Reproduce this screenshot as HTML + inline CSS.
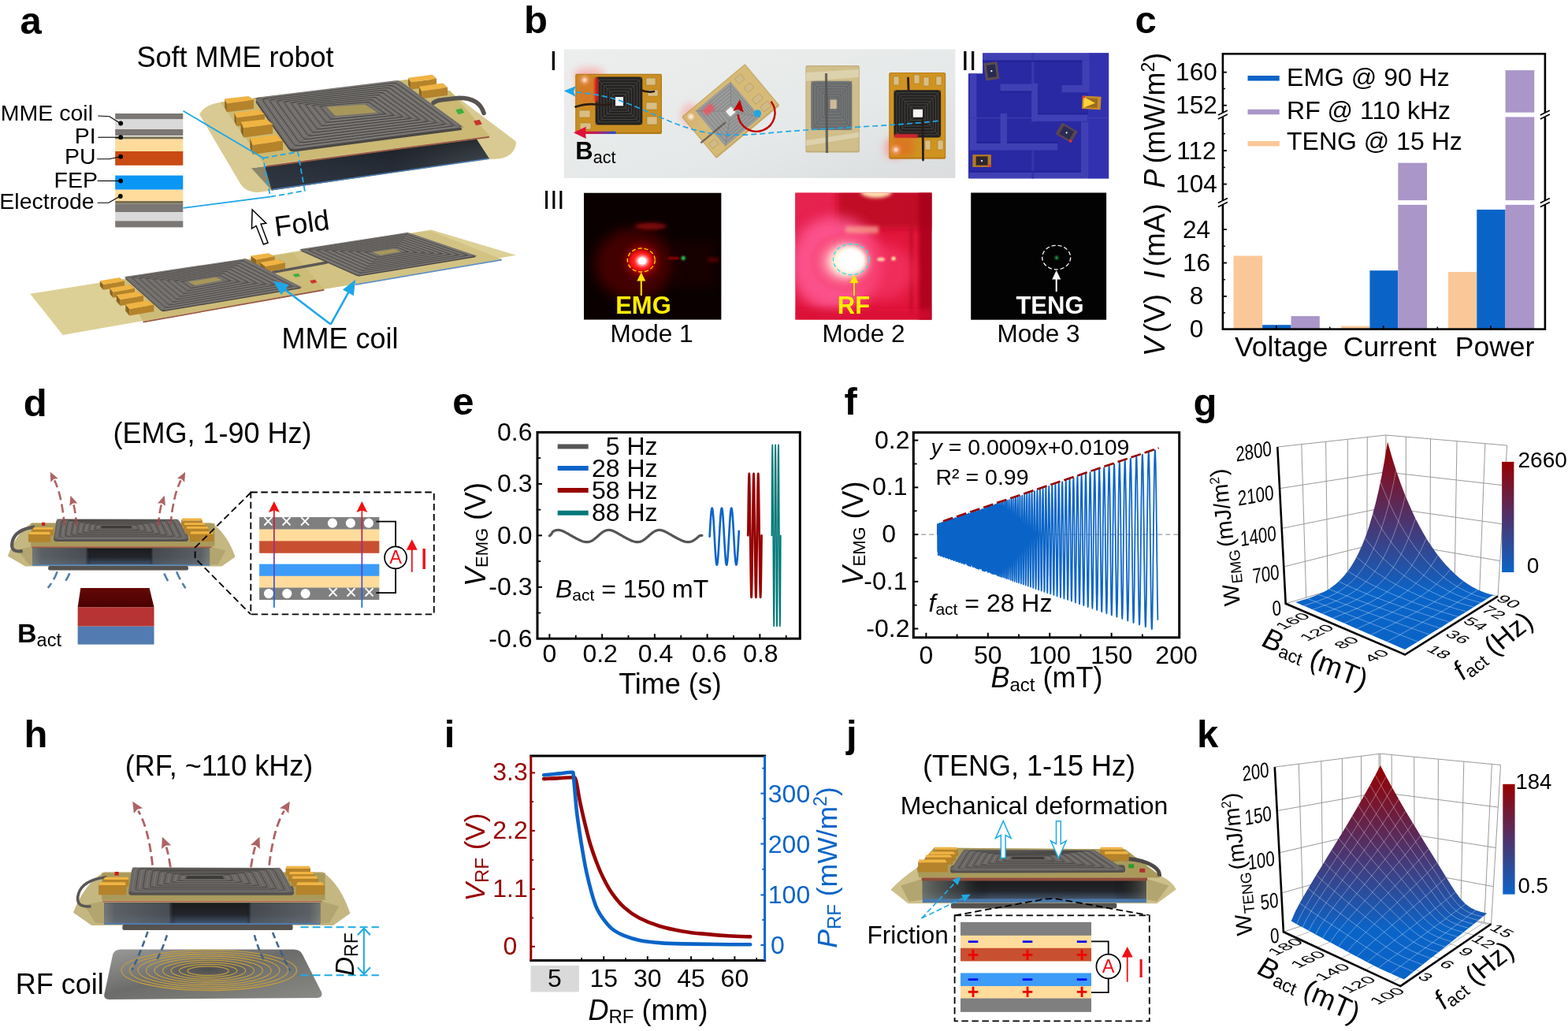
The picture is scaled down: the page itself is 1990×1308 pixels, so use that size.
<!DOCTYPE html>
<html lang="en"><head><meta charset="utf-8"><title>Soft MME robot figure</title>
<style>
html,body{margin:0;padding:0;background:#fff;}
body{width:1990px;height:1308px;overflow:hidden;}
svg{display:block;font-family:"Liberation Sans",Arial,Helvetica,sans-serif;}
</style></head><body>
<svg width="1990" height="1308" viewBox="0 0 1990 1308">
<defs><linearGradient id="aDark" x1="0" y1="0" x2="1" y2="0"><stop offset="0" stop-color="#2c3139"/><stop offset="0.6" stop-color="#1f242c"/><stop offset="1" stop-color="#565d5f"/></linearGradient><linearGradient id="aDarkV" x1="0" y1="0" x2="0" y2="1"><stop offset="0" stop-color="#15181d" stop-opacity="0.7"/><stop offset="1" stop-color="#3d4a5c" stop-opacity="0.3"/></linearGradient>
<filter id="bl2" x="-50%" y="-50%" width="200%" height="200%"><feGaussianBlur stdDeviation="2"/></filter><filter id="bl4" x="-50%" y="-50%" width="200%" height="200%"><feGaussianBlur stdDeviation="4"/></filter><filter id="bl8" x="-50%" y="-50%" width="200%" height="200%"><feGaussianBlur stdDeviation="8"/></filter><filter id="bl1" x="-50%" y="-50%" width="200%" height="200%"><feGaussianBlur stdDeviation="0.8"/></filter><linearGradient id="bBg" x1="0" y1="0" x2="1" y2="1"><stop offset="0" stop-color="#eceeed"/><stop offset="0.6" stop-color="#e6e9e9"/><stop offset="1" stop-color="#dadcde"/></linearGradient><linearGradient id="bBact" x1="0" y1="0" x2="1" y2="0"><stop offset="0" stop-color="#e0103a"/><stop offset="0.45" stop-color="#b02070"/><stop offset="1" stop-color="#1a50e0"/></linearGradient><radialGradient id="bG1" cx="0.5" cy="0.5" r="0.5"><stop offset="0" stop-color="#ff2020" stop-opacity="1"/><stop offset="0.3" stop-color="#e00808" stop-opacity="0.95"/><stop offset="0.6" stop-color="#900000" stop-opacity="0.6"/><stop offset="1" stop-color="#300000" stop-opacity="0"/></radialGradient><radialGradient id="bG2" cx="0.5" cy="0.5" r="0.5"><stop offset="0" stop-color="#fffbe0" stop-opacity="1"/><stop offset="0.25" stop-color="#ffe9c8" stop-opacity="1"/><stop offset="0.5" stop-color="#ff9ab0" stop-opacity="0.9"/><stop offset="1" stop-color="#f02050" stop-opacity="0"/></radialGradient><clipPath id="bC1"><rect x="741" y="244.5" width="174.6" height="161.2"/></clipPath><clipPath id="bC2"><rect x="1009.2" y="244.5" width="173.4" height="161.2"/></clipPath><clipPath id="bC0"><rect x="715.8" y="62.5" width="496.6" height="163.4"/></clipPath><clipPath id="bCm"><path d="M1247.1 67.2H1407.2V226.5H1229V93.2H1247.1Z"/></clipPath>
<linearGradient id="sideDark" x1="0" y1="0" x2="0" y2="1"><stop offset="0" stop-color="#1b1b1d"/><stop offset="0.55" stop-color="#22252b"/><stop offset="1" stop-color="#44566e"/></linearGradient><linearGradient id="sideDarkH" x1="0" y1="0" x2="1" y2="0"><stop offset="0" stop-color="#8a8d88" stop-opacity="0.8"/><stop offset="0.05" stop-color="#6a7076" stop-opacity="0.8"/><stop offset="0.3" stop-color="#5a6068" stop-opacity="0.7"/><stop offset="0.33" stop-color="#000" stop-opacity="0"/><stop offset="0.66" stop-color="#000" stop-opacity="0"/><stop offset="0.68" stop-color="#565b62" stop-opacity="0.7"/><stop offset="0.95" stop-color="#6a6f74" stop-opacity="0.8"/><stop offset="1" stop-color="#8a8d88" stop-opacity="0.8"/></linearGradient><linearGradient id="gradBR" x1="0" y1="1" x2="0" y2="0"><stop offset="0" stop-color="#0a6cf0"/><stop offset="0.5" stop-color="#7a38a8"/><stop offset="1" stop-color="#f01010"/></linearGradient><linearGradient id="magTop" x1="0" y1="0" x2="0" y2="1"><stop offset="0" stop-color="#640808"/><stop offset="1" stop-color="#4a0000"/></linearGradient>
<linearGradient id="gSurf" gradientUnits="userSpaceOnUse" x1="0" y1="562" x2="0" y2="752"><stop offset="0" stop-color="#960000"/><stop offset="0.5" stop-color="#50326a"/><stop offset="1" stop-color="#0a64c8"/></linearGradient><linearGradient id="gBar" x1="0" y1="0" x2="0" y2="1"><stop offset="0" stop-color="#960000"/><stop offset="0.5" stop-color="#50326a"/><stop offset="1" stop-color="#0a64c8"/></linearGradient>
<linearGradient id="hBase" x1="0" y1="0" x2="1" y2="1"><stop offset="0" stop-color="#9a9a98"/><stop offset="0.45" stop-color="#6c6c6a"/><stop offset="1" stop-color="#8a8a86"/></linearGradient><radialGradient id="hBaseR" cx="0.5" cy="0.45" r="0.5"><stop offset="0" stop-color="#4a4a4a" stop-opacity="0.9"/><stop offset="0.6" stop-color="#555" stop-opacity="0.5"/><stop offset="1" stop-color="#666" stop-opacity="0"/></radialGradient>
<linearGradient id="jDarkH" x1="0" y1="0" x2="1" y2="0"><stop offset="0" stop-color="#7a8078" stop-opacity="0.8"/><stop offset="0.18" stop-color="#4a4d4c" stop-opacity="0.5"/><stop offset="0.3" stop-color="#000" stop-opacity="0"/><stop offset="0.85" stop-color="#000" stop-opacity="0"/><stop offset="1" stop-color="#6a6a60" stop-opacity="0.7"/></linearGradient>
<linearGradient id="kSurf" gradientUnits="userSpaceOnUse" x1="0" y1="973" x2="0" y2="1180"><stop offset="0" stop-color="#960000"/><stop offset="0.5" stop-color="#50326a"/><stop offset="1" stop-color="#0a64c8"/></linearGradient></defs>
<rect width="1990" height="1308" fill="#fff"/>
<g id="pa"><text x="25.50" y="42.50" font-size="49" fill="#000" text-anchor="start" font-weight="bold" >a</text><text x="173.50" y="84.50" font-size="36" fill="#000" text-anchor="start" >Soft MME robot</text><text x="118.00" y="153.00" font-size="28.5" fill="#000" text-anchor="end" >MME coil</text><text x="121.70" y="182.30" font-size="28.5" fill="#000" text-anchor="end" >PI</text><text x="121.50" y="208.20" font-size="28.5" fill="#000" text-anchor="end" >PU</text><text x="124.00" y="238.30" font-size="28.5" fill="#000" text-anchor="end" >FEP</text><text x="119.70" y="265.00" font-size="28.5" fill="#000" text-anchor="end" >Electrode</text><rect x="146.20" y="144.00" width="86.10" height="7.40" fill="#7b7775" /><rect x="146.20" y="151.40" width="86.10" height="12.60" fill="#d9d9d9" /><rect x="146.20" y="164.00" width="86.10" height="8.00" fill="#7b7775" /><rect x="146.20" y="173.30" width="86.10" height="3.30" fill="#7a7151" /><rect x="146.20" y="176.60" width="86.10" height="15.40" fill="#ffdc9c" /><rect x="146.20" y="192.00" width="86.10" height="17.80" fill="#c94a12" /><rect x="146.20" y="222.60" width="86.10" height="18.10" fill="#0a96f5" /><rect x="146.20" y="240.70" width="86.10" height="14.30" fill="#ffdc9c" /><rect x="146.20" y="255.00" width="86.10" height="3.60" fill="#7a7151" /><rect x="146.20" y="258.60" width="86.10" height="10.40" fill="#7b7775" /><rect x="146.20" y="269.00" width="86.10" height="11.30" fill="#d9d9d9" /><rect x="146.20" y="280.30" width="86.10" height="8.10" fill="#7b7775" /><path d="M124.3 147.0 L138.8 147.8 L152.8 156.5" fill="none" stroke="#000" stroke-width="1.1"/><circle cx="153.2" cy="156.5" r="2.9" fill="#000"/><path d="M124.3 174.2 L140.8 174.2 L152.8 174.2" fill="none" stroke="#000" stroke-width="1.1"/><circle cx="153.2" cy="174.2" r="2.9" fill="#000"/><path d="M123.1 201.7 L138.8 201.7 L152.8 198.7" fill="none" stroke="#000" stroke-width="1.1"/><circle cx="153.2" cy="198.7" r="2.9" fill="#000"/><path d="M123.7 229.5 L140.8 229.5 L152.8 229.5" fill="none" stroke="#000" stroke-width="1.1"/><circle cx="153.2" cy="229.5" r="2.9" fill="#000"/><path d="M123.7 257.2 L137.8 257.2 L152.4 249.0" fill="none" stroke="#000" stroke-width="1.1"/><circle cx="152.8" cy="249.0" r="2.9" fill="#000"/><path d="M279.75 129.75 Q258.74 133.07 253.22 145.23 L304.07 231.46 Q310.70 244.06 328.39 244.06 L620.25 202.27 L635 201.3 Q652.5 197.5 655 182.5 Q655.5 180 653 178 L568.8 114.6 L517.44 101.01 Z" fill="#d8ca92"/><polygon points="319.55,213.77 604.78,176.40 620.92,201.17 344.98,241.41" fill="url(#aDark)" /><polygon points="319.55,213.77 604.78,176.40 620.92,201.17 344.98,241.41" fill="url(#aDarkV)" /><polygon points="319.55,213.77 336.13,211.56 344.98,241.41 331.71,234.77" fill="#d8ca92" opacity="0.55"/><polyline points="345.42,240.52 620.47,201.17" fill="none" stroke="#4c7db8" stroke-width="1.6" /><polygon points="279.75,129.75 517.44,101.01 571.61,115.38 621.36,172.42 335.69,209.35" fill="#cbb974" /><polyline points="337.90,210.90 620.92,173.75" fill="none" stroke="#9a5a44" stroke-width="2" /><polygon points="518.10,98.79 521.42,104.32 521.42,113.61 518.10,108.08" fill="#8d6620" /><polygon points="548.39,94.81 553.92,99.90 553.92,109.19 548.39,104.10" fill="#8d6620" /><polygon points="521.42,104.32 553.92,99.90 553.92,109.19 521.42,113.61" fill="#b5832a" /><polygon points="518.10,98.79 548.39,94.81 553.92,99.90 521.42,104.32" fill="#f0b443" /><polygon points="531.81,109.85 535.13,115.38 535.13,125.33 531.81,119.80" fill="#8d6620" /><polygon points="561.66,105.43 567.85,110.95 567.85,120.90 561.66,115.38" fill="#8d6620" /><polygon points="535.13,115.38 567.85,110.95 567.85,120.90 535.13,125.33" fill="#b5832a" /><polygon points="531.81,109.85 561.66,105.43 567.85,110.95 535.13,115.38" fill="#f0b443" /><path d="M325.73 131.52 Q322.86 127.42 327.82 126.81 L501.42 105.48 Q506.38 104.87 510.43 107.81 L584.59 161.63 Q588.64 164.57 583.68 165.21 L373.82 192.45 Q368.86 193.09 365.99 188.99 Z" fill="#4a4745" /><path d="M325.73 128.32 Q322.86 124.22 327.82 123.61 L501.42 102.28 Q506.38 101.67 510.43 104.61 L584.59 158.43 Q588.64 161.37 583.68 162.01 L373.82 189.25 Q368.86 189.89 365.99 185.79 Z" fill="#716e6b" /><path d="M330.47 129.09 Q327.45 124.80 332.66 124.16 L499.01 103.84 Q504.22 103.21 508.47 106.29 L578.90 157.36 Q583.15 160.44 577.94 161.11 L376.91 187.07 Q371.70 187.75 368.68 183.45 Z" fill="none" stroke="#9a9794" stroke-width="0.9" opacity="0.45"/><path d="M339.37 129.82 Q336.62 125.94 341.34 125.38 L495.20 106.85 Q499.91 106.28 503.76 109.07 L568.31 155.80 Q572.16 158.58 567.44 159.18 L382.09 182.85 Q377.38 183.46 374.64 179.58 Z" fill="none" stroke="#9a9794" stroke-width="0.9" opacity="0.45"/><path d="M348.27 130.55 Q345.80 127.09 350.02 126.60 L491.38 109.85 Q495.60 109.35 499.05 111.84 L557.72 154.24 Q561.17 156.72 556.95 157.26 L387.28 178.64 Q383.06 179.17 380.59 175.71 Z" fill="none" stroke="#9a9794" stroke-width="0.9" opacity="0.45"/><path d="M357.18 131.28 Q354.98 128.25 358.70 127.81 L487.57 112.86 Q491.29 112.43 494.33 114.62 L547.14 152.67 Q550.18 154.87 546.46 155.33 L392.47 174.42 Q388.75 174.88 386.55 171.84 Z" fill="none" stroke="#9a9794" stroke-width="0.9" opacity="0.45"/><path d="M366.08 132.01 Q364.15 129.40 367.38 129.03 L483.75 115.86 Q486.98 115.50 489.62 117.39 L536.55 151.11 Q539.19 153.01 535.96 153.40 L397.66 170.20 Q394.43 170.59 392.50 167.97 Z" fill="none" stroke="#9a9794" stroke-width="0.9" opacity="0.45"/><path d="M374.98 132.75 Q373.33 130.54 376.06 130.25 L479.94 118.87 Q482.67 118.57 484.91 120.17 L525.96 149.55 Q528.20 151.15 525.47 151.47 L402.84 165.98 Q400.11 166.30 398.46 164.10 Z" fill="none" stroke="#9a9794" stroke-width="0.9" opacity="0.45"/><path d="M383.87 133.48 Q382.50 131.69 384.74 131.46 L476.12 121.88 Q478.36 121.64 480.19 122.95 L515.38 147.99 Q517.21 149.29 514.98 149.55 L408.03 161.76 Q405.79 162.01 404.42 160.23 Z" fill="none" stroke="#9a9794" stroke-width="0.9" opacity="0.45"/><path d="M392.77 134.21 Q391.68 132.84 393.42 132.67 L472.31 124.89 Q474.05 124.72 475.48 125.73 L504.79 146.43 Q506.22 147.44 504.48 147.62 L413.21 157.53 Q411.48 157.72 410.39 156.35 Z" fill="none" stroke="#9a9794" stroke-width="0.9" opacity="0.45"/><path d="M401.66 134.95 Q400.86 134.00 402.10 133.88 L468.49 127.90 Q469.74 127.79 470.76 128.51 L494.21 144.86 Q495.23 145.58 493.99 145.70 L418.40 153.31 Q417.16 153.43 416.35 152.48 Z" fill="none" stroke="#9a9794" stroke-width="0.9" opacity="0.45"/><path d="M410.54 135.70 Q410.03 135.15 410.78 135.09 L464.68 130.92 Q465.43 130.86 466.04 131.29 L483.63 143.30 Q484.24 143.72 483.50 143.79 L423.59 149.08 Q422.84 149.14 422.33 148.59 Z" fill="none" stroke="#9a9794" stroke-width="0.9" opacity="0.45"/><path d="M334.92 129.46 Q332.04 125.37 337.00 124.77 L497.11 105.35 Q502.07 104.74 506.12 107.68 L573.60 156.58 Q577.65 159.51 572.69 160.15 L379.50 184.96 Q374.54 185.60 371.66 181.52 Z" fill="none" stroke="#403e3c" stroke-width="0.9"/><path d="M343.82 130.19 Q341.21 126.52 345.68 125.99 L493.29 108.35 Q497.76 107.82 501.40 110.45 L563.02 155.02 Q566.66 157.65 562.20 158.22 L384.69 180.75 Q380.22 181.31 377.61 177.65 Z" fill="none" stroke="#403e3c" stroke-width="0.9"/><path d="M352.72 130.92 Q350.39 127.67 354.36 127.20 L489.47 111.36 Q493.45 110.89 496.69 113.23 L552.43 153.46 Q555.67 155.80 551.70 156.29 L389.88 176.53 Q385.91 177.02 383.57 173.78 Z" fill="none" stroke="#403e3c" stroke-width="0.9"/><path d="M361.63 131.65 Q359.56 128.82 363.04 128.42 L485.66 114.36 Q489.14 113.96 491.98 116.01 L541.84 151.89 Q544.68 153.94 541.21 154.36 L395.06 172.31 Q391.59 172.73 389.53 169.91 Z" fill="none" stroke="#403e3c" stroke-width="0.9"/><path d="M370.53 132.38 Q368.74 129.97 371.72 129.64 L481.84 117.37 Q484.82 117.03 487.26 118.78 L531.26 150.33 Q533.69 152.08 530.72 152.44 L400.25 168.09 Q397.27 168.44 395.48 166.04 Z" fill="none" stroke="#403e3c" stroke-width="0.9"/><path d="M379.43 133.11 Q377.92 131.12 380.40 130.85 L478.03 120.37 Q480.51 120.11 482.55 121.56 L520.67 148.77 Q522.71 150.22 520.22 150.51 L405.44 163.87 Q402.95 164.16 401.44 162.16 Z" fill="none" stroke="#403e3c" stroke-width="0.9"/><path d="M388.32 133.85 Q387.09 132.27 389.08 132.07 L474.21 123.38 Q476.20 123.18 477.83 124.34 L510.09 147.21 Q511.72 148.36 509.73 148.59 L410.62 159.65 Q408.63 159.87 407.40 158.29 Z" fill="none" stroke="#403e3c" stroke-width="0.9"/><path d="M397.22 134.58 Q396.27 133.42 397.76 133.28 L470.40 126.40 Q471.89 126.25 473.12 127.12 L499.50 145.64 Q500.73 146.51 499.24 146.66 L415.81 155.42 Q414.32 155.58 413.37 154.41 Z" fill="none" stroke="#403e3c" stroke-width="0.9"/><path d="M406.10 135.32 Q405.44 134.57 406.44 134.49 L466.58 129.41 Q467.58 129.33 468.40 129.90 L488.92 144.08 Q489.74 144.65 488.74 144.74 L420.99 151.19 Q420.00 151.29 419.34 150.53 Z" fill="none" stroke="#403e3c" stroke-width="0.9"/><line x1="322.86" y1="124.22" x2="414.62" y2="135.72" stroke="#403e3c" stroke-width="0.6" opacity="0.55"/><line x1="506.38" y1="101.67" x2="463.27" y2="132.40" stroke="#403e3c" stroke-width="0.6" opacity="0.55"/><line x1="588.64" y1="161.37" x2="478.75" y2="142.79" stroke="#403e3c" stroke-width="0.6" opacity="0.55"/><line x1="368.86" y1="189.89" x2="425.68" y2="147.00" stroke="#403e3c" stroke-width="0.6" opacity="0.55"/><polygon points="414.62,135.72 463.27,132.40 478.75,142.79 425.68,147.00" fill="#a8975a" /><path d="M550.1 130.4 Q553.8 127.2 560.3 126.7 L582.7 124.2 Q608.4 124.2 614.0 143.5" fill="none" stroke="#57534f" stroke-width="5.6" stroke-linecap="round" stroke-linejoin="round"/><polygon points="285.28,125.33 287.93,131.30 287.93,142.36 285.28,136.39" fill="#8d6620" /><polygon points="315.13,122.01 321.76,126.87 321.76,137.93 315.13,133.07" fill="#8d6620" /><polygon points="287.93,131.30 321.76,126.87 321.76,137.93 287.93,142.36" fill="#b5832a" /><polygon points="285.28,125.33 315.13,122.01 321.76,126.87 287.93,131.30" fill="#f0b443" /><polygon points="297.44,143.02 300.31,149.21 300.31,160.27 297.44,154.08" fill="#8d6620" /><polygon points="328.39,139.26 335.69,144.78 335.69,155.84 328.39,150.32" fill="#8d6620" /><polygon points="300.31,149.21 335.69,144.78 335.69,155.84 300.31,160.27" fill="#b5832a" /><polygon points="297.44,143.02 328.39,139.26 335.69,144.78 300.31,149.21" fill="#f0b443" /><polygon points="305.62,154.73 309.16,162.25 309.16,174.41 305.62,166.89" fill="#8d6620" /><polygon points="338.34,151.20 346.08,157.39 346.08,169.55 338.34,163.36" fill="#8d6620" /><polygon points="309.16,162.25 346.08,157.39 346.08,169.55 309.16,174.41" fill="#b5832a" /><polygon points="305.62,154.73 338.34,151.20 346.08,157.39 309.16,162.25" fill="#f0b443" /><polygon points="317.34,175.08 320.65,183.92 320.65,196.08 317.34,187.24" fill="#8d6620" /><polygon points="350.50,171.32 358.91,178.39 358.91,190.55 350.50,183.48" fill="#8d6620" /><polygon points="320.65,183.92 358.91,178.39 358.91,190.55 320.65,196.08" fill="#b5832a" /><polygon points="317.34,175.08 350.50,171.32 358.91,178.39 320.65,183.92" fill="#f0b443" /><polygon points="578.24,139.26 585.98,137.49 589.30,143.02 581.56,145.23" fill="#3fae3c" /><polygon points="601.02,153.41 608.53,151.86 611.85,157.39 604.11,159.16" fill="#c9332b" /><line x1="232.50" y1="140.70" x2="334.00" y2="200.50" stroke="#1ea7e8" stroke-width="1.8" /><line x1="232.50" y1="263.80" x2="343.00" y2="249.70" stroke="#1ea7e8" stroke-width="1.8" /><polygon points="334.00,200.50 378.00,192.70 386.80,242.00 343.00,249.70" fill="none" stroke="#1ea7e8" stroke-width="1.8" stroke-dasharray="7 4"/><polygon points="320.15,265.92 337.72,283.17 331.09,284.16 340.05,308.04 334.41,310.03 325.12,286.48 319.48,289.80" fill="#fff" stroke="#000" stroke-width="1.5" stroke-linejoin="miter"/><text transform="translate(350.00 300.00) rotate(-7.5)" font-size="36" fill="#000" text-anchor="start" >Fold</text><polygon points="38.24,372.71 547.33,291.46 655.12,323.63 79.70,425.11" fill="#ddd096" /><polygon points="152.66,356.13 373.21,320.31 411.35,366.74 181.51,407.87" fill="#cdbb78" /><polygon points="411.35,366.74 371.55,320.31 545.67,292.45 636.87,328.93 451.15,360.44" fill="#d2c283" /><polyline points="181.51,408.53 411.35,367.74" fill="none" stroke="#9a5a44" stroke-width="1.8" /><polyline points="451.15,361.10 636.87,329.60" fill="none" stroke="#5f8fc0" stroke-width="1.8" /><polyline points="346.68,345.18 354.97,343.86 414.67,332.91" fill="none" stroke="#5c5856" stroke-width="3.5" stroke-linecap="round"/><polygon points="318.49,324.62 325.12,329.60 325.12,336.90 318.49,331.92" fill="#8d6620" /><polygon points="340.05,321.31 348.34,325.62 348.34,332.92 340.05,328.61" fill="#8d6620" /><polygon points="325.12,329.60 348.34,325.62 348.34,332.92 325.12,336.90" fill="#b5832a" /><polygon points="318.49,324.62 340.05,321.31 348.34,325.62 325.12,329.60" fill="#f0b443" /><polygon points="330.10,332.91 336.73,337.89 336.73,345.19 330.10,340.21" fill="#8d6620" /><polygon points="353.31,328.93 361.60,333.58 361.60,340.88 353.31,336.23" fill="#8d6620" /><polygon points="336.73,337.89 361.60,333.58 361.60,340.88 336.73,345.19" fill="#b5832a" /><polygon points="330.10,332.91 353.31,328.93 361.60,333.58 336.73,337.89" fill="#f0b443" /><path d="M382.58 318.85 Q379.84 317.63 382.80 317.17 L514.52 296.53 Q517.48 296.07 520.32 297.03 L602.53 324.96 Q605.37 325.92 602.41 326.41 L457.43 350.31 Q454.47 350.80 451.73 349.58 Z" fill="#4a4745" /><path d="M382.58 317.55 Q379.84 316.33 382.80 315.87 L514.52 295.23 Q517.48 294.77 520.32 295.73 L602.53 323.66 Q605.37 324.62 602.41 325.11 L457.43 349.01 Q454.47 349.50 451.73 348.28 Z" fill="#716e6b" /><path d="M388.05 317.89 Q385.00 316.53 388.29 316.02 L513.27 296.45 Q516.56 295.93 519.71 297.00 L596.82 323.23 Q599.97 324.31 596.68 324.85 L459.32 347.52 Q456.04 348.06 452.99 346.71 Z" fill="none" stroke="#9a9794" stroke-width="0.7" opacity="0.45"/><path d="M398.06 318.15 Q395.32 316.94 398.28 316.47 L511.75 298.72 Q514.72 298.25 517.56 299.22 L586.33 322.71 Q589.17 323.68 586.21 324.17 L462.13 344.70 Q459.17 345.19 456.42 343.97 Z" fill="none" stroke="#9a9794" stroke-width="0.7" opacity="0.45"/><path d="M408.08 318.42 Q405.64 317.34 408.27 316.93 L510.24 300.99 Q512.87 300.58 515.40 301.44 L575.85 322.19 Q578.38 323.05 575.74 323.49 L464.93 341.88 Q462.30 342.31 459.86 341.24 Z" fill="none" stroke="#9a9794" stroke-width="0.7" opacity="0.45"/><path d="M418.09 318.69 Q415.96 317.75 418.26 317.39 L508.73 303.26 Q511.03 302.90 513.24 303.66 L565.37 321.66 Q567.58 322.43 565.28 322.81 L467.73 339.06 Q465.43 339.44 463.30 338.50 Z" fill="none" stroke="#9a9794" stroke-width="0.7" opacity="0.45"/><path d="M428.11 318.95 Q426.27 318.15 428.25 317.85 L507.21 305.53 Q509.19 305.22 511.08 305.88 L554.89 321.14 Q556.78 321.80 554.81 322.13 L470.54 336.23 Q468.57 336.56 466.73 335.77 Z" fill="none" stroke="#9a9794" stroke-width="0.7" opacity="0.45"/><path d="M438.12 319.22 Q436.59 318.56 438.24 318.30 L505.70 307.80 Q507.35 307.54 508.92 308.10 L544.41 320.62 Q545.98 321.17 544.34 321.45 L473.34 333.41 Q471.70 333.69 470.17 333.03 Z" fill="none" stroke="#9a9794" stroke-width="0.7" opacity="0.45"/><path d="M448.14 319.49 Q446.91 318.97 448.23 318.76 L504.19 310.07 Q505.51 309.86 506.76 310.32 L533.93 320.10 Q535.18 320.55 533.87 320.77 L476.14 330.59 Q474.83 330.82 473.60 330.30 Z" fill="none" stroke="#9a9794" stroke-width="0.7" opacity="0.45"/><path d="M458.16 319.75 Q457.23 319.37 458.22 319.22 L502.68 312.34 Q503.66 312.19 504.60 312.54 L523.45 319.57 Q524.39 319.92 523.40 320.09 L478.95 327.77 Q477.96 327.94 477.04 327.56 Z" fill="none" stroke="#9a9794" stroke-width="0.7" opacity="0.45"/><path d="M468.17 320.02 Q467.55 319.78 468.21 319.68 L501.16 314.61 Q501.82 314.51 502.44 314.76 L512.97 319.04 Q513.59 319.29 512.93 319.41 L481.75 324.95 Q481.09 325.07 480.47 324.82 Z" fill="none" stroke="#9a9794" stroke-width="0.7" opacity="0.45"/><path d="M393.05 318.02 Q390.16 316.74 393.29 316.25 L512.51 297.58 Q515.64 297.09 518.64 298.11 L591.57 322.97 Q594.57 323.99 591.45 324.51 L460.73 346.11 Q457.60 346.63 454.71 345.34 Z" fill="none" stroke="#403e3c" stroke-width="0.7"/><path d="M403.07 318.29 Q400.48 317.14 403.28 316.70 L511.00 299.85 Q513.80 299.41 516.48 300.33 L581.09 322.45 Q583.77 323.37 580.98 323.83 L463.53 343.29 Q460.73 343.75 458.14 342.61 Z" fill="none" stroke="#403e3c" stroke-width="0.7"/><path d="M413.09 318.55 Q410.80 317.55 413.27 317.16 L509.48 302.12 Q511.95 301.74 514.32 302.55 L570.61 321.93 Q572.98 322.74 570.51 323.15 L466.33 340.47 Q463.87 340.88 461.58 339.87 Z" fill="none" stroke="#403e3c" stroke-width="0.7"/><path d="M423.10 318.82 Q421.12 317.95 423.26 317.62 L507.97 304.39 Q510.11 304.06 512.16 304.77 L560.13 321.40 Q562.18 322.11 560.04 322.47 L469.14 337.65 Q467.00 338.00 465.01 337.13 Z" fill="none" stroke="#403e3c" stroke-width="0.7"/><path d="M433.12 319.09 Q431.43 318.36 433.25 318.08 L506.46 306.66 Q508.27 306.38 510.00 306.99 L549.65 320.88 Q551.38 321.49 549.57 321.79 L471.94 334.82 Q470.13 335.13 468.45 334.40 Z" fill="none" stroke="#403e3c" stroke-width="0.7"/><path d="M443.13 319.35 Q441.75 318.76 443.24 318.53 L504.94 308.93 Q506.43 308.70 507.84 309.21 L539.17 320.36 Q540.58 320.86 539.10 321.11 L474.74 332.00 Q473.26 332.25 471.88 331.66 Z" fill="none" stroke="#403e3c" stroke-width="0.7"/><path d="M453.15 319.62 Q452.07 319.17 453.23 318.99 L503.43 311.20 Q504.58 311.03 505.68 311.43 L528.69 319.83 Q529.79 320.23 528.64 320.43 L477.55 329.18 Q476.40 329.38 475.32 328.93 Z" fill="none" stroke="#403e3c" stroke-width="0.7"/><path d="M463.16 319.89 Q462.39 319.57 463.21 319.45 L501.92 313.47 Q502.74 313.35 503.52 313.65 L518.21 319.31 Q518.99 319.61 518.17 319.75 L480.35 326.36 Q479.53 326.50 478.76 326.19 Z" fill="none" stroke="#403e3c" stroke-width="0.7"/><line x1="379.84" y1="316.33" x2="472.71" y2="319.98" stroke="#403e3c" stroke-width="0.6" opacity="0.55"/><line x1="517.48" y1="294.77" x2="500.90" y2="315.67" stroke="#403e3c" stroke-width="0.6" opacity="0.55"/><line x1="605.37" y1="324.62" x2="508.19" y2="318.98" stroke="#403e3c" stroke-width="0.6" opacity="0.55"/><line x1="454.47" y1="349.50" x2="482.66" y2="323.63" stroke="#403e3c" stroke-width="0.6" opacity="0.55"/><polygon points="472.71,319.98 500.90,315.67 508.19,318.98 482.66,323.63" fill="#a8975a" /><path d="M159.87 354.45 Q157.64 352.45 160.61 352.00 L308.88 329.69 Q311.85 329.24 314.52 330.61 L380.49 364.35 Q383.16 365.72 380.20 366.22 L208.69 395.07 Q205.73 395.57 203.50 393.57 Z" fill="#4a4745" /><path d="M159.87 353.15 Q157.64 351.15 160.61 350.70 L308.88 328.39 Q311.85 327.94 314.52 329.31 L380.49 363.05 Q383.16 364.42 380.20 364.92 L208.69 393.77 Q205.73 394.27 203.50 392.27 Z" fill="#716e6b" /><path d="M164.64 353.72 Q162.15 351.50 165.45 351.00 L306.49 329.76 Q309.79 329.27 312.75 330.78 L374.57 362.40 Q377.54 363.92 374.25 364.48 L211.34 391.93 Q208.05 392.48 205.56 390.26 Z" fill="none" stroke="#9a9794" stroke-width="0.7" opacity="0.45"/><path d="M173.43 354.19 Q171.18 352.20 174.15 351.75 L302.69 332.37 Q305.66 331.92 308.33 333.29 L363.63 361.56 Q366.30 362.93 363.34 363.43 L215.65 388.41 Q212.69 388.91 210.45 386.92 Z" fill="none" stroke="#9a9794" stroke-width="0.7" opacity="0.45"/><path d="M182.22 354.66 Q180.21 352.90 182.85 352.50 L298.90 334.97 Q301.53 334.57 303.91 335.79 L352.69 360.72 Q355.06 361.93 352.43 362.38 L219.96 384.89 Q217.34 385.33 215.33 383.58 Z" fill="none" stroke="#9a9794" stroke-width="0.7" opacity="0.45"/><path d="M191.01 355.13 Q189.24 353.60 191.54 353.25 L295.10 337.58 Q297.41 337.23 299.48 338.29 L341.75 359.88 Q343.82 360.94 341.52 361.33 L224.28 381.37 Q221.98 381.76 220.21 380.24 Z" fill="none" stroke="#9a9794" stroke-width="0.7" opacity="0.45"/><path d="M199.79 355.59 Q198.26 354.30 200.24 354.00 L291.30 340.18 Q293.28 339.88 295.06 340.79 L330.80 359.04 Q332.59 359.95 330.61 360.28 L228.59 377.85 Q226.62 378.19 225.09 376.90 Z" fill="none" stroke="#9a9794" stroke-width="0.7" opacity="0.45"/><path d="M208.58 356.06 Q207.29 355.01 208.94 354.76 L287.51 342.78 Q289.15 342.53 290.64 343.29 L319.86 358.19 Q321.35 358.95 319.70 359.24 L232.90 374.33 Q231.26 374.61 229.97 373.56 Z" fill="none" stroke="#9a9794" stroke-width="0.7" opacity="0.45"/><path d="M217.37 356.53 Q216.32 355.71 217.64 355.51 L283.71 345.39 Q285.03 345.19 286.21 345.79 L308.92 357.35 Q310.11 357.96 308.79 358.19 L237.22 370.80 Q235.90 371.04 234.85 370.21 Z" fill="none" stroke="#9a9794" stroke-width="0.7" opacity="0.45"/><path d="M226.16 357.00 Q225.35 356.41 226.34 356.26 L279.91 347.99 Q280.90 347.84 281.79 348.29 L297.98 356.51 Q298.87 356.96 297.88 357.14 L241.53 367.28 Q240.55 367.46 239.74 366.87 Z" fill="none" stroke="#9a9794" stroke-width="0.7" opacity="0.45"/><path d="M234.94 357.46 Q234.38 357.11 235.03 357.01 L276.11 350.60 Q276.77 350.49 277.37 350.79 L287.03 355.67 Q287.63 355.97 286.97 356.09 L245.84 363.76 Q245.19 363.89 244.62 363.53 Z" fill="none" stroke="#9a9794" stroke-width="0.7" opacity="0.45"/><path d="M169.03 353.95 Q166.67 351.85 169.80 351.38 L304.59 331.07 Q307.72 330.59 310.54 332.04 L369.10 361.98 Q371.92 363.43 368.80 363.95 L213.49 390.17 Q210.37 390.70 208.01 388.59 Z" fill="none" stroke="#403e3c" stroke-width="0.7"/><path d="M177.82 354.42 Q175.70 352.55 178.50 352.13 L300.80 333.67 Q303.60 333.25 306.12 334.54 L358.16 361.14 Q360.68 362.43 357.89 362.90 L217.81 386.65 Q215.01 387.12 212.89 385.25 Z" fill="none" stroke="#403e3c" stroke-width="0.7"/><path d="M186.61 354.89 Q184.72 353.25 187.20 352.88 L297.00 336.27 Q299.47 335.90 301.70 337.04 L347.22 360.30 Q349.44 361.44 346.98 361.86 L222.12 383.13 Q219.66 383.55 217.77 381.91 Z" fill="none" stroke="#403e3c" stroke-width="0.7"/><path d="M195.40 355.36 Q193.75 353.95 195.89 353.63 L293.20 338.88 Q295.34 338.55 297.27 339.54 L336.27 359.46 Q338.20 360.44 336.07 360.81 L226.43 379.61 Q224.30 379.97 222.65 378.57 Z" fill="none" stroke="#403e3c" stroke-width="0.7"/><path d="M204.19 355.83 Q202.78 354.66 204.59 354.38 L289.40 341.48 Q291.22 341.21 292.85 342.04 L325.33 358.61 Q326.97 359.45 325.16 359.76 L230.75 376.09 Q228.94 376.40 227.53 375.23 Z" fill="none" stroke="#403e3c" stroke-width="0.7"/><path d="M212.98 356.30 Q211.81 355.36 213.29 355.13 L285.61 344.09 Q287.09 343.86 288.43 344.54 L314.39 357.77 Q315.73 358.45 314.25 358.71 L235.06 372.56 Q233.58 372.82 232.41 371.88 Z" fill="none" stroke="#403e3c" stroke-width="0.7"/><path d="M221.76 356.76 Q220.83 356.06 221.99 355.88 L281.81 346.69 Q282.96 346.51 284.00 347.04 L303.45 356.93 Q304.49 357.46 303.34 357.66 L239.37 369.04 Q238.23 369.25 237.30 368.54 Z" fill="none" stroke="#403e3c" stroke-width="0.7"/><path d="M230.55 357.23 Q229.86 356.76 230.69 356.63 L278.01 349.29 Q278.84 349.17 279.58 349.54 L292.51 356.09 Q293.25 356.46 292.43 356.61 L243.69 365.52 Q242.87 365.67 242.18 365.20 Z" fill="none" stroke="#403e3c" stroke-width="0.7"/><line x1="157.64" y1="351.15" x2="238.89" y2="357.46" stroke="#403e3c" stroke-width="0.6" opacity="0.55"/><line x1="311.85" y1="327.94" x2="274.71" y2="351.82" stroke="#403e3c" stroke-width="0.6" opacity="0.55"/><line x1="383.16" y1="364.42" x2="282.01" y2="355.47" stroke="#403e3c" stroke-width="0.6" opacity="0.55"/><line x1="205.73" y1="394.27" x2="247.51" y2="362.10" stroke="#403e3c" stroke-width="0.6" opacity="0.55"/><polygon points="238.89,357.46 274.71,351.82 282.01,355.47 247.51,362.10" fill="#a8975a" /><polygon points="126.79,356.13 131.10,361.10 131.10,367.73 126.79,362.76" fill="#8d6620" /><polygon points="151.00,352.15 157.64,356.79 157.64,363.42 151.00,358.78" fill="#8d6620" /><polygon points="131.10,361.10 157.64,356.79 157.64,363.42 131.10,367.73" fill="#b5832a" /><polygon points="126.79,356.13 151.00,352.15 157.64,356.79 131.10,361.10" fill="#f0b443" /><polygon points="139.40,365.42 143.37,370.39 143.37,377.69 139.40,372.72" fill="#8d6620" /><polygon points="164.27,361.44 170.90,366.08 170.90,373.38 164.27,368.74" fill="#8d6620" /><polygon points="143.37,370.39 170.90,366.08 170.90,373.38 143.37,377.69" fill="#b5832a" /><polygon points="139.40,365.42 164.27,361.44 170.90,366.08 143.37,370.39" fill="#f0b443" /><polygon points="147.69,374.37 152.66,380.01 152.66,387.97 147.69,382.33" fill="#8d6620" /><polygon points="174.22,370.06 181.85,375.36 181.85,383.32 174.22,378.02" fill="#8d6620" /><polygon points="152.66,380.01 181.85,375.36 181.85,383.32 152.66,387.97" fill="#b5832a" /><polygon points="147.69,374.37 174.22,370.06 181.85,375.36 152.66,380.01" fill="#f0b443" /><polygon points="159.29,385.98 164.27,391.95 164.27,400.57 159.29,394.60" fill="#8d6620" /><polygon points="187.48,381.33 195.11,386.64 195.11,395.26 187.48,389.95" fill="#8d6620" /><polygon points="164.27,391.95 195.11,386.64 195.11,395.26 164.27,400.57" fill="#b5832a" /><polygon points="159.29,385.98 187.48,381.33 195.11,386.64 164.27,391.95" fill="#f0b443" /><polygon points="371.55,348.17 378.19,346.84 381.50,350.16 374.87,351.82" fill="#3fae3c" /><polygon points="393.11,356.13 399.74,354.80 402.40,358.12 395.76,359.78" fill="#c9332b" /><line x1="419.64" y1="411.51" x2="359.42" y2="365.80" stroke="#1ea7e8" stroke-width="2.6" /><polygon points="346.68,356.13 366.65,361.25 356.98,373.99" fill="#1ea7e8" /><line x1="419.64" y1="411.51" x2="443.38" y2="368.79" stroke="#1ea7e8" stroke-width="2.6" /><polygon points="451.15,354.80 448.91,375.29 434.93,367.52" fill="#1ea7e8" /><text x="357.50" y="441.70" font-size="36" fill="#000" text-anchor="start" >MME coil</text></g>
<g id="pb"><text x="665.00" y="42.00" font-size="49" fill="#000" text-anchor="start" font-weight="bold" >b</text><text x="697.50" y="89.30" font-size="35" fill="#000" text-anchor="start" >I</text><text x="1220.00" y="89.30" font-size="35" fill="#000" text-anchor="start" >II</text><text x="689.00" y="264.50" font-size="33" fill="#000" text-anchor="start" >III</text><rect x="715.80" y="62.50" width="496.60" height="163.40" fill="url(#bBg)" /><g clip-path="url(#bC0)"><ellipse cx="748" cy="94" rx="20" ry="9" fill="#ff8a8a" opacity="0.45" filter="url(#bl4)"/><rect x="730.2" y="93.7" width="109.8" height="76.2" rx="2" fill="#b07a18"/><rect x="731.4" y="94.9" width="107.4" height="72.8" rx="1.5" fill="#c98f22"/><rect x="820.0" y="99.0" width="12.0" height="9.0" rx="0.8" fill="#d9bd84" stroke="#8a6a20" stroke-width="0.4"/><rect x="822.0" y="114.0" width="13.0" height="8.0" rx="0.8" fill="#d9bd84" stroke="#8a6a20" stroke-width="0.4"/><rect x="820.0" y="130.0" width="14.0" height="9.0" rx="0.8" fill="#d9bd84" stroke="#8a6a20" stroke-width="0.4"/><rect x="821.0" y="148.0" width="13.0" height="10.0" rx="0.8" fill="#d9bd84" stroke="#8a6a20" stroke-width="0.4"/><rect x="735.0" y="140.0" width="14.0" height="9.0" rx="0.8" fill="#d9bd84" stroke="#8a6a20" stroke-width="0.4"/><rect x="736.0" y="156.0" width="14.0" height="8.0" rx="0.8" fill="#d9bd84" stroke="#8a6a20" stroke-width="0.4"/><rect x="755.6" y="97.5" width="59.7" height="60.9" rx="4" fill="#232221"/><rect x="759.2" y="101.1" width="52.6" height="53.8" rx="3.1" fill="none" stroke="#4a4846" stroke-width="0.9"/><rect x="762.9" y="104.8" width="45.5" height="46.7" rx="2.6" fill="none" stroke="#4a4846" stroke-width="0.9"/><rect x="766.5" y="108.4" width="38.4" height="39.6" rx="2.2" fill="none" stroke="#4a4846" stroke-width="0.9"/><rect x="770.1" y="112.1" width="31.3" height="32.6" rx="1.8" fill="none" stroke="#4a4846" stroke-width="0.9"/><rect x="773.7" y="115.7" width="24.2" height="25.5" rx="1.4" fill="none" stroke="#4a4846" stroke-width="0.9"/><rect x="777.4" y="119.4" width="17.1" height="18.4" rx="0.9" fill="none" stroke="#4a4846" stroke-width="0.9"/><line x1="755.6" y1="97.5" x2="781.0" y2="123.0" stroke="#4a4846" stroke-width="0.8"/><line x1="815.3" y1="97.5" x2="791.0" y2="123.0" stroke="#4a4846" stroke-width="0.8"/><line x1="815.3" y1="158.4" x2="791.0" y2="134.3" stroke="#4a4846" stroke-width="0.8"/><line x1="755.6" y1="158.4" x2="781.0" y2="134.3" stroke="#4a4846" stroke-width="0.8"/><rect x="781.0" y="123.0" width="10.0" height="11.3" fill="#f6f6f6"/><rect x="732" y="97" width="23" height="36" fill="#f05030" opacity="0.32" filter="url(#bl4)"/><rect x="754" y="99" width="5" height="30" fill="#f02020" opacity="0.8" filter="url(#bl1)"/><circle cx="742" cy="101.5" r="5" fill="#ffb090" opacity="0.95" filter="url(#bl2)"/><circle cx="742" cy="101.5" r="2" fill="#fff" opacity="0.95" filter="url(#bl1)"/><path d="M730.5 135.5 Q745 131 757 132.5 T776 132" fill="none" stroke="#2a1c14" stroke-width="2.6" stroke-linecap="round"/><path d="M813 114 Q822 118 830 116" fill="none" stroke="#2a1c14" stroke-width="2.6" stroke-linecap="round"/><ellipse cx="876" cy="146" rx="12" ry="15" fill="#ff9a9a" opacity="0.5" filter="url(#bl4)"/><g transform="translate(927.3 141) rotate(-39.9)" opacity="0.82"><rect x="-52.5" y="-34.5" width="105.0" height="69.0" rx="2" fill="#c09a48"/><rect x="-51.3" y="-33.3" width="102.6" height="65.6" rx="1.5" fill="#d2b060"/><rect x="30.0" y="-28.0" width="10.0" height="8.0" rx="0.8" fill="#cdb070" stroke="#8a6a20" stroke-width="0.4"/><rect x="32.0" y="-12.0" width="10.0" height="8.0" rx="0.8" fill="#cdb070" stroke="#8a6a20" stroke-width="0.4"/><rect x="30.0" y="6.0" width="12.0" height="8.0" rx="0.8" fill="#cdb070" stroke="#8a6a20" stroke-width="0.4"/><rect x="32.0" y="20.0" width="12.0" height="8.0" rx="0.8" fill="#cdb070" stroke="#8a6a20" stroke-width="0.4"/><rect x="-48.0" y="14.0" width="10.0" height="8.0" rx="0.8" fill="#cdb070" stroke="#8a6a20" stroke-width="0.4"/><rect x="-34.0" y="-29.0" width="58.0" height="59.0" rx="4" fill="#8a8a8a"/><rect x="-29.9" y="-25.4" width="51.0" height="51.9" rx="3.1" fill="none" stroke="#6a6a6a" stroke-width="0.9"/><rect x="-25.7" y="-21.9" width="44.0" height="44.7" rx="2.6" fill="none" stroke="#6a6a6a" stroke-width="0.9"/><rect x="-21.6" y="-18.3" width="37.0" height="37.6" rx="2.2" fill="none" stroke="#6a6a6a" stroke-width="0.9"/><rect x="-17.4" y="-14.7" width="30.0" height="30.4" rx="1.8" fill="none" stroke="#6a6a6a" stroke-width="0.9"/><rect x="-13.3" y="-11.1" width="23.0" height="23.3" rx="1.4" fill="none" stroke="#6a6a6a" stroke-width="0.9"/><rect x="-9.1" y="-7.6" width="16.0" height="16.1" rx="0.9" fill="none" stroke="#6a6a6a" stroke-width="0.9"/><line x1="-34.0" y1="-29.0" x2="-5.0" y2="-4.0" stroke="#6a6a6a" stroke-width="0.8"/><line x1="24.0" y1="-29.0" x2="4.0" y2="-4.0" stroke="#6a6a6a" stroke-width="0.8"/><line x1="24.0" y1="30.0" x2="4.0" y2="5.0" stroke="#6a6a6a" stroke-width="0.8"/><line x1="-34.0" y1="30.0" x2="-5.0" y2="5.0" stroke="#6a6a6a" stroke-width="0.8"/><rect x="-5.0" y="-4.0" width="9.0" height="9.0" fill="#f6f6f6"/><rect x="-27" y="-24" width="14" height="9" fill="#ff2a40" opacity="0.75" filter="url(#bl1)"/><circle cx="-43.3" cy="-27" r="3.5" fill="#fff4e0" opacity="0.95" filter="url(#bl1)"/><path d="M-55 6.6 L-14 6.7" fill="none" stroke="#4a3c34" stroke-width="2.4" opacity="0.9"/></g><g opacity="0.85"><rect x="1022.4" y="83.0" width="68.5" height="110.6" rx="2" fill="#bda468"/><rect x="1023.6" y="84.2" width="66.1" height="107.2" rx="1.5" fill="#cdb87c"/><rect x="1029.2" y="102.7" width="52.2" height="62.4" rx="4" fill="#5e6062"/><rect x="1032.7" y="106.1" width="45.9" height="55.1" rx="3.1" fill="none" stroke="#4a4c4e" stroke-width="0.9"/><rect x="1036.2" y="109.5" width="39.6" height="47.9" rx="2.6" fill="none" stroke="#4a4c4e" stroke-width="0.9"/><rect x="1039.7" y="112.9" width="33.3" height="40.6" rx="2.2" fill="none" stroke="#4a4c4e" stroke-width="0.9"/><rect x="1043.1" y="116.3" width="27.1" height="33.3" rx="1.8" fill="none" stroke="#4a4c4e" stroke-width="0.9"/><rect x="1046.6" y="119.7" width="20.8" height="26.0" rx="1.4" fill="none" stroke="#4a4c4e" stroke-width="0.9"/><rect x="1050.1" y="123.1" width="14.5" height="18.8" rx="0.9" fill="none" stroke="#4a4c4e" stroke-width="0.9"/><line x1="1029.2" y1="102.7" x2="1053.6" y2="126.5" stroke="#4a4c4e" stroke-width="0.8"/><line x1="1081.4" y1="102.7" x2="1061.8" y2="126.5" stroke="#4a4c4e" stroke-width="0.8"/><line x1="1081.4" y1="165.1" x2="1061.8" y2="138.0" stroke="#4a4c4e" stroke-width="0.8"/><line x1="1029.2" y1="165.1" x2="1053.6" y2="138.0" stroke="#4a4c4e" stroke-width="0.8"/><rect x="1053.6" y="126.5" width="8.2" height="11.5" fill="#c9b48a"/><path d="M1023 92 L1090 88 L1090 98 L1023 103 Z" fill="#e6dcc0" opacity="0.6"/><path d="M1023 178 L1090 168 L1090 174 L1023 185 Z" fill="#e6dcc0" opacity="0.6"/><path d="M1048.5 93 L1049.5 194" fill="none" stroke="#3c3a38" stroke-width="3.2" opacity="0.85"/></g><ellipse cx="1134" cy="188" rx="13" ry="14" fill="#ff8a8a" opacity="0.5" filter="url(#bl4)"/><rect x="1128.2" y="91.9" width="72.0" height="109.9" rx="2" fill="#b87e18"/><rect x="1129.4" y="93.1" width="69.6" height="106.5" rx="1.5" fill="#cf9320"/><rect x="1134.0" y="97.0" width="7.0" height="11.0" rx="0.8" fill="#d9bd84" stroke="#8a6a20" stroke-width="0.4"/><rect x="1160.0" y="95.0" width="7.0" height="11.0" rx="0.8" fill="#d9bd84" stroke="#8a6a20" stroke-width="0.4"/><rect x="1172.0" y="98.0" width="7.0" height="11.0" rx="0.8" fill="#d9bd84" stroke="#8a6a20" stroke-width="0.4"/><rect x="1188.0" y="97.0" width="7.0" height="11.0" rx="0.8" fill="#d9bd84" stroke="#8a6a20" stroke-width="0.4"/><rect x="1174.0" y="178.0" width="7.0" height="12.0" rx="0.8" fill="#d9bd84" stroke="#8a6a20" stroke-width="0.4"/><rect x="1190.0" y="178.0" width="7.0" height="12.0" rx="0.8" fill="#d9bd84" stroke="#8a6a20" stroke-width="0.4"/><rect x="1134.4" y="114.2" width="59.7" height="60.4" rx="4" fill="#232221"/><rect x="1137.9" y="117.7" width="52.9" height="53.2" rx="3.1" fill="none" stroke="#4a4846" stroke-width="0.9"/><rect x="1141.4" y="121.2" width="46.1" height="46.0" rx="2.6" fill="none" stroke="#4a4846" stroke-width="0.9"/><rect x="1144.9" y="124.7" width="39.3" height="38.8" rx="2.2" fill="none" stroke="#4a4846" stroke-width="0.9"/><rect x="1148.3" y="128.2" width="32.6" height="31.7" rx="1.8" fill="none" stroke="#4a4846" stroke-width="0.9"/><rect x="1151.8" y="131.7" width="25.8" height="24.5" rx="1.4" fill="none" stroke="#4a4846" stroke-width="0.9"/><rect x="1155.3" y="135.2" width="19.0" height="17.3" rx="0.9" fill="none" stroke="#4a4846" stroke-width="0.9"/><line x1="1134.4" y1="114.2" x2="1158.8" y2="138.7" stroke="#4a4846" stroke-width="0.8"/><line x1="1194.1" y1="114.2" x2="1171.0" y2="138.7" stroke="#4a4846" stroke-width="0.8"/><line x1="1194.1" y1="174.6" x2="1171.0" y2="148.8" stroke="#4a4846" stroke-width="0.8"/><line x1="1134.4" y1="174.6" x2="1158.8" y2="148.8" stroke="#4a4846" stroke-width="0.8"/><rect x="1158.8" y="138.7" width="12.2" height="10.1" fill="#f6f6f6"/><rect x="1131" y="174" width="28" height="24" fill="#f04a28" opacity="0.38" filter="url(#bl4)"/><rect x="1135" y="170.5" width="30" height="4" fill="#ff2030" opacity="0.9" filter="url(#bl1)"/><circle cx="1137" cy="190" r="5" fill="#ffb090" opacity="0.95" filter="url(#bl2)"/><circle cx="1137" cy="190" r="2" fill="#fff" opacity="0.95" filter="url(#bl1)"/><path d="M1171 150 L1171.5 203" fill="none" stroke="#2a1c14" stroke-width="2.8" stroke-linecap="round"/><path d="M1152.5 99 L1153 114" fill="none" stroke="#2a1c14" stroke-width="2.8" stroke-linecap="round"/></g><path d="M1190.7 153.4 C1124.2 160.8 1042.8 162.1 974.9 168.9 S880.0 167.5 831.1 145.8 S771.4 121.4 728.0 116.5" fill="none" stroke="#1ea7e8" stroke-width="1.7" stroke-dasharray="7 4"/><polygon points="715.78,115.17 730.71,109.20 727.99,116.53 730.71,122.77" fill="#1ea7e8" /><path d="M978.5 128.7 A23.5 23.5 0 1 1 936.6 145.2" fill="none" stroke="#c00000" stroke-width="2.4"/><polygon points="939.12,126.30 930.16,140.95 936.40,138.78 943.73,142.58" fill="#c00000" /><circle cx="961.4" cy="143.9" r="4.7" fill="#1ea7e8"/><rect x="742" y="166.7" width="39.6" height="3.2" fill="url(#bBact)"/><polygon points="728.00,168.30 743.80,160.70 743.00,168.30 743.80,175.90" fill="#e0103a" /><text x="730.30" y="202.30" font-size="31" fill="#000" text-anchor="start" ><tspan font-weight="bold">B</tspan><tspan font-size="21.5" dy="4.4">act</tspan></text><g clip-path="url(#bCm)"><rect x="1229.00" y="67.20" width="178.20" height="159.30" fill="#2929a3" /><rect x="1381" y="67" width="27" height="160" fill="#3232b0"/><rect x="1247.39" y="67.21" width="135.28" height="9.48" fill="#4040b4" /><rect x="1373.50" y="76.69" width="9.17" height="39.74" fill="#4040b4" /><rect x="1347.52" y="108.03" width="34.39" height="9.17" fill="#4040b4" /><rect x="1269.55" y="106.50" width="40.51" height="9.17" fill="#4040b4" /><rect x="1309.30" y="67.21" width="3.06" height="87.44" fill="#3939ae" /><rect x="1309.30" y="105.73" width="7.64" height="48.15" fill="#4040b4" /><rect x="1311.59" y="145.17" width="68.79" height="8.71" fill="#4040b4" /><rect x="1230.57" y="93.50" width="8.87" height="96.31" fill="#4040b4" /><rect x="1230.57" y="148.84" width="79.49" height="1.53" fill="#3a3ab0" /><rect x="1269.55" y="143.95" width="8.41" height="38.21" fill="#4040b4" /><rect x="1230.57" y="181.86" width="111.59" height="8.71" fill="#4040b4" /><rect x="1371.97" y="154.65" width="9.18" height="72.15" fill="#4040b4" /><rect x="1229.81" y="218.55" width="142.93" height="8.25" fill="#4040b4" /><rect x="1309.30" y="190.57" width="3.06" height="36.23" fill="#3434ab" /><rect x="1381.15" y="148.84" width="25.98" height="1.53" fill="#3d3db4" /><rect x="1239.75" y="76.69" width="133.75" height="1.83" fill="#222296" /><rect x="1269.55" y="115.67" width="39.75" height="1.53" fill="#222296" /><rect x="1316.94" y="143.34" width="63.44" height="1.83" fill="#222296" /><rect x="1239.75" y="179.87" width="29.80" height="1.99" fill="#222296" /><rect x="1277.96" y="179.87" width="64.20" height="1.99" fill="#222296" /><rect x="1230.57" y="216.71" width="141.40" height="1.84" fill="#222296" /><g transform="translate(1258.3 90.1) rotate(-8)"><rect x="-8.6" y="-11.1" width="17.3" height="22.2" fill="#5b4b52"/><rect x="-5.5" y="-8.0" width="11.1" height="16.0" fill="#2a2a50"/><rect x="-1" y="-1" width="2" height="2" fill="#e8e8f4"/></g><g transform="translate(1385.3 130.4) rotate(3)"><rect x="-11.9" y="-8.2" width="23.7" height="16.4" fill="#c98b28"/><rect x="-7.6" y="-5.9" width="15.2" height="11.8" fill="#9a6a20"/><rect x="-1" y="-1" width="2" height="2" fill="#e8e8f4"/><polygon points="-10.0,-6.9 4.7,0.0 -10.0,6.9" fill="#ffd23a"/><circle cx="-10.0" cy="-6.9" r="1.6" fill="#ff2838"/></g><g transform="translate(1353.6 168.4) rotate(30)"><rect x="-11.5" y="-8.4" width="22.9" height="16.8" fill="#5b4650"/><rect x="-7.3" y="-6.1" width="14.7" height="12.1" fill="#2c2c50"/><rect x="-1" y="-1" width="2" height="2" fill="#e8e8f4"/><circle cx="9.6" cy="6.7" r="1.6" fill="#ff2838"/></g><g transform="translate(1246.1 204.1) rotate(0)"><rect x="-11.7" y="-7.9" width="23.4" height="15.7" fill="#b87a20"/><rect x="-7.5" y="-5.7" width="15.0" height="11.3" fill="#2e2630"/><rect x="-1" y="-1" width="2" height="2" fill="#e8e8f4"/><circle cx="9.8" cy="6.0" r="1.6" fill="#ff2838"/></g></g><g clip-path="url(#bC1)"><rect x="741.00" y="244.50" width="174.60" height="161.20" fill="#0a0000" /><ellipse cx="805" cy="335" rx="50" ry="45" fill="#6a0000" opacity="0.6" filter="url(#bl8)"/><ellipse cx="826" cy="287" rx="20" ry="4.5" fill="#a00808" opacity="0.75" filter="url(#bl2)"/><rect x="855" y="305" width="55" height="60" fill="#200000" opacity="0.5" filter="url(#bl4)"/><circle cx="814.5" cy="331" r="32" fill="url(#bG1)"/><ellipse cx="813.5" cy="331" rx="15" ry="13" fill="#ff1818" filter="url(#bl2)"/><ellipse cx="815" cy="331" rx="7.5" ry="6.5" fill="#fff" filter="url(#bl2)"/><ellipse cx="815" cy="331" rx="5" ry="4.5" fill="#fff"/><rect x="848" y="326" width="14" height="3" fill="#b00000" opacity="0.8" filter="url(#bl1)"/><circle cx="867.2" cy="327.4" r="2.6" fill="#30c050" filter="url(#bl1)"/><rect x="898" y="327" width="14" height="5" fill="#700000" opacity="0.8" filter="url(#bl2)"/></g><ellipse cx="813.8" cy="330" rx="17.5" ry="15" fill="none" stroke="#ffe000" stroke-width="1.3" stroke-dasharray="5 3"/><line x1="813.80" y1="375.00" x2="813.80" y2="352.00" stroke="#ffe600" stroke-width="2" /><polygon points="813.80,345.50 808.30,356.50 819.30,356.50" fill="#ffe600" /><text x="816.50" y="398.00" font-size="31" fill="#ffee00" text-anchor="middle" font-weight="bold" >EMG</text><g clip-path="url(#bC2)"><rect x="1009.20" y="244.50" width="173.40" height="161.20" fill="#e2163c" /><rect x="1062" y="240" width="125" height="50" fill="#c20a26" filter="url(#bl4)"/><rect x="1005" y="240" width="55" height="60" fill="#e62450" filter="url(#bl4)"/><ellipse cx="1112" cy="243" rx="20" ry="8" fill="#ffe0b0" filter="url(#bl2)"/><rect x="1166" y="240" width="20" height="170" fill="#a8001c" opacity="0.85" filter="url(#bl2)"/><rect x="1154" y="250" width="5" height="150" fill="#c00828" opacity="0.7" filter="url(#bl1)"/><ellipse cx="1060" cy="335" rx="58" ry="60" fill="#ff5c98" opacity="0.85" filter="url(#bl8)"/><ellipse cx="1120" cy="345" rx="40" ry="35" fill="#f83c70" opacity="0.6" filter="url(#bl8)"/><rect x="1073" y="287" width="42" height="9" fill="#f8a090" opacity="0.75" filter="url(#bl2)"/><ellipse cx="1072" cy="332" rx="46" ry="40" fill="url(#bG2)"/><ellipse cx="1078" cy="331" rx="22" ry="19" fill="#fff8e0" filter="url(#bl4)"/><ellipse cx="1080" cy="330" rx="17" ry="15" fill="#ffffff" filter="url(#bl2)"/><ellipse cx="1118" cy="329" rx="5" ry="2.5" fill="#ffc8a0" filter="url(#bl1)"/><circle cx="1134" cy="328" r="2.6" fill="#fff0a0" filter="url(#bl1)"/><rect x="1009" y="392" width="174" height="16" fill="#d81034" opacity="0.7" filter="url(#bl4)"/></g><ellipse cx="1080.5" cy="329" rx="23" ry="19.5" fill="none" stroke="#30e0e8" stroke-width="1.3" stroke-dasharray="5 3"/><line x1="1084.00" y1="375.00" x2="1084.00" y2="355.00" stroke="#ffe600" stroke-width="2" /><polygon points="1084.00,348.00 1078.50,359.00 1089.50,359.00" fill="#ffe600" /><text x="1083.50" y="398.00" font-size="31" fill="#ffee00" text-anchor="middle" font-weight="bold" >RF</text><rect x="1232.20" y="244.50" width="171.90" height="161.20" fill="#030303" /><circle cx="1341" cy="327" r="2.2" fill="#28a848" filter="url(#bl1)"/><ellipse cx="1340.7" cy="326.6" rx="18" ry="15.3" fill="none" stroke="#fff" stroke-width="1.3" stroke-dasharray="5 3"/><line x1="1340.70" y1="370.00" x2="1340.70" y2="351.00" stroke="#fff" stroke-width="2" /><polygon points="1340.70,343.00 1335.20,354.50 1346.20,354.50" fill="#fff" /><text x="1332.50" y="398.00" font-size="31" fill="#fff" text-anchor="middle" font-weight="bold" >TENG</text><text x="827.00" y="434.00" font-size="31.5" fill="#000" text-anchor="middle" >Mode 1</text><text x="1096.00" y="434.00" font-size="31.5" fill="#000" text-anchor="middle" >Mode 2</text><text x="1318.00" y="434.00" font-size="31.5" fill="#000" text-anchor="middle" >Mode 3</text></g>
<g id="pc"><text x="1440.50" y="42.40" font-size="49" fill="#000" text-anchor="start" font-weight="bold" >c</text><rect x="1565.55" y="324.53" width="36.66" height="93.08" fill="#fac898" /><rect x="1602.21" y="412.22" width="36.30" height="5.39" fill="#0a64c8" /><rect x="1638.51" y="401.08" width="36.30" height="16.53" fill="#aa96c8" /><rect x="1702.12" y="413.66" width="36.30" height="3.95" fill="#fac898" /><rect x="1738.42" y="343.22" width="35.94" height="74.39" fill="#0a64c8" /><rect x="1774.36" y="206.65" width="36.66" height="210.96" fill="#aa96c8" /><rect x="1837.97" y="345.01" width="36.30" height="72.60" fill="#fac898" /><rect x="1874.27" y="265.95" width="36.30" height="151.66" fill="#0a64c8" /><rect x="1910.57" y="89.13" width="36.65" height="328.48" fill="#aa96c8" /><rect x="1556.57" y="142.68" width="400.72" height="5.75" fill="#fff" /><rect x="1556.57" y="254.09" width="400.72" height="5.75" fill="#fff" /><rect x="1551.90" y="68.28" width="408.98" height="349.33" fill="none" stroke="#000" stroke-width="2.6"/><line x1="1551.90" y1="91.64" x2="1556.90" y2="91.64" stroke="#000" stroke-width="1.8" /><line x1="1551.90" y1="133.69" x2="1556.90" y2="133.69" stroke="#000" stroke-width="1.8" /><line x1="1551.90" y1="191.19" x2="1556.90" y2="191.19" stroke="#000" stroke-width="1.8" /><line x1="1551.90" y1="233.60" x2="1556.90" y2="233.60" stroke="#000" stroke-width="1.8" /><line x1="1551.90" y1="291.11" x2="1556.90" y2="291.11" stroke="#000" stroke-width="1.8" /><line x1="1551.90" y1="333.51" x2="1556.90" y2="333.51" stroke="#000" stroke-width="1.8" /><line x1="1551.90" y1="375.92" x2="1556.90" y2="375.92" stroke="#000" stroke-width="1.8" /><line x1="1551.90" y1="112.49" x2="1554.90" y2="112.49" stroke="#000" stroke-width="1.5" /><line x1="1551.90" y1="212.40" x2="1554.90" y2="212.40" stroke="#000" stroke-width="1.5" /><line x1="1551.90" y1="312.31" x2="1554.90" y2="312.31" stroke="#000" stroke-width="1.5" /><line x1="1551.90" y1="354.72" x2="1554.90" y2="354.72" stroke="#000" stroke-width="1.5" /><line x1="1551.90" y1="396.77" x2="1554.90" y2="396.77" stroke="#000" stroke-width="1.5" /><line x1="1551.90" y1="169.63" x2="1554.90" y2="169.63" stroke="#000" stroke-width="1.5" /><line x1="1619.82" y1="417.61" x2="1619.82" y2="413.11" stroke="#000" stroke-width="1.8" /><line x1="1755.67" y1="417.61" x2="1755.67" y2="413.11" stroke="#000" stroke-width="1.8" /><line x1="1891.88" y1="417.61" x2="1891.88" y2="413.11" stroke="#000" stroke-width="1.8" /><line x1="1687.74" y1="417.61" x2="1687.74" y2="414.61" stroke="#000" stroke-width="1.5" /><line x1="1824.31" y1="417.61" x2="1824.31" y2="414.61" stroke="#000" stroke-width="1.5" /><rect x="1548.90" y="142.75" width="6.00" height="5.60" fill="#fff" /><line x1="1545.90" y1="146.05" x2="1557.90" y2="140.05" stroke="#000" stroke-width="1.6" /><line x1="1545.90" y1="151.05" x2="1557.90" y2="145.05" stroke="#000" stroke-width="1.6" /><rect x="1957.88" y="142.75" width="6.00" height="5.60" fill="#fff" /><line x1="1954.88" y1="146.05" x2="1966.88" y2="140.05" stroke="#000" stroke-width="1.6" /><line x1="1954.88" y1="151.05" x2="1966.88" y2="145.05" stroke="#000" stroke-width="1.6" /><rect x="1548.90" y="254.16" width="6.00" height="5.60" fill="#fff" /><line x1="1545.90" y1="257.46" x2="1557.90" y2="251.46" stroke="#000" stroke-width="1.6" /><line x1="1545.90" y1="262.46" x2="1557.90" y2="256.46" stroke="#000" stroke-width="1.6" /><rect x="1957.88" y="254.16" width="6.00" height="5.60" fill="#fff" /><line x1="1954.88" y1="257.46" x2="1966.88" y2="251.46" stroke="#000" stroke-width="1.6" /><line x1="1954.88" y1="262.46" x2="1966.88" y2="256.46" stroke="#000" stroke-width="1.6" /><text x="1518.40" y="102.04" font-size="31.5" fill="#000" text-anchor="middle" >160</text><text x="1518.40" y="144.09" font-size="31.5" fill="#000" text-anchor="middle" >152</text><text x="1518.40" y="201.59" font-size="31.5" fill="#000" text-anchor="middle" >112</text><text x="1518.40" y="244.00" font-size="31.5" fill="#000" text-anchor="middle" >104</text><text x="1518.40" y="301.51" font-size="31.5" fill="#000" text-anchor="middle" >24</text><text x="1518.40" y="343.91" font-size="31.5" fill="#000" text-anchor="middle" >16</text><text x="1518.40" y="386.32" font-size="31.5" fill="#000" text-anchor="middle" >8</text><text x="1518.40" y="428.37" font-size="31.5" fill="#000" text-anchor="middle" >0</text><text x="1626.29" y="452.30" font-size="35.5" fill="#000" text-anchor="middle" >Voltage</text><text x="1763.94" y="452.30" font-size="35.5" fill="#000" text-anchor="middle" >Current</text><text x="1897.05" y="452.30" font-size="35.5" fill="#000" text-anchor="middle" >Power</text><text transform="translate(1477.80 412.70) rotate(-90)" font-size="37" fill="#000" text-anchor="middle" word-spacing="-5"><tspan font-style="italic">V</tspan> (V)</text><text transform="translate(1477.80 306.00) rotate(-90)" font-size="37" fill="#000" text-anchor="middle" word-spacing="-5"><tspan font-style="italic">I</tspan> (mA)</text><text transform="translate(1477.80 152.60) rotate(-90)" font-size="36" fill="#000" text-anchor="middle" word-spacing="-3"><tspan font-style="italic">P</tspan> (mW/m<tspan font-size="23" dy="-13">2</tspan><tspan dy="13">)</tspan></text><line x1="1583.52" y1="99.19" x2="1623.77" y2="99.19" stroke="#0a64c8" stroke-width="6.5" /><text x="1633.06" y="108.89" font-size="32" fill="#000" text-anchor="start" >EMG @ 90 Hz</text><line x1="1583.52" y1="141.96" x2="1623.77" y2="141.96" stroke="#aa96c8" stroke-width="6.5" /><text x="1633.06" y="150.94" font-size="32" fill="#000" text-anchor="start" >RF @ 110 kHz</text><line x1="1583.52" y1="182.21" x2="1623.77" y2="182.21" stroke="#fac898" stroke-width="6.5" /><text x="1633.06" y="190.48" font-size="32" fill="#000" text-anchor="start" >TENG @ 15 Hz</text></g>
<g id="pd"><text x="29.80" y="527.50" font-size="49" fill="#000" text-anchor="start" font-weight="bold" >d</text><text x="269.50" y="562.00" font-size="36" fill="#000" text-anchor="middle" >(EMG, 1-90 Hz)</text><g opacity="0.95"><path d="M72.64 725.29 Q68.82 735.80 60.85 745.85" fill="none" stroke="#4a78a8" stroke-width="2.6" stroke-dasharray="11 5.5"/><polygon points="60.79,745.93 60.81,745.82 60.84,745.86 60.89,745.88" fill="#4a78a8" /></g><g opacity="0.95"><path d="M88.32 727.20 Q86.41 731.98 83.40 736.68" fill="none" stroke="#4a78a8" stroke-width="2.6" stroke-dasharray="11 5.5"/><polygon points="83.35,736.76 83.36,736.65 83.40,736.69 83.45,736.70" fill="#4a78a8" /></g><g opacity="0.95"><path d="M208.37 727.58 Q210.28 731.98 213.10 737.05" fill="none" stroke="#4a78a8" stroke-width="2.6" stroke-dasharray="11 5.5"/><polygon points="213.15,737.14 213.06,737.08 213.11,737.07 213.15,737.03" fill="#4a78a8" /></g><g opacity="0.95"><path d="M224.05 725.29 Q228.45 735.80 235.46 746.24" fill="none" stroke="#4a78a8" stroke-width="2.6" stroke-dasharray="11 5.5"/><polygon points="235.52,746.32 235.42,746.26 235.47,746.25 235.51,746.21" fill="#4a78a8" /></g><path d="M41.10 663.73 Q21.22 676.18 10.51 705.22 L32.50 718.02 L281.02 718.02 L297.84 706.17 Q287.27 676.46 267.64 663.73 Z" fill="#c4b781" stroke="#c4b781" stroke-width="1.2" stroke-linejoin="round"/><polygon points="21.98,697.57 41.10,693.36 41.10,716.88 36.32,715.73" fill="#b3a570" /><polygon points="286.37,698.52 266.11,693.36 266.11,716.88 277.19,715.73" fill="#b3a570" /><rect x="41.10" y="695.27" width="225.01" height="21.61" fill="url(#sideDark)"/><rect x="41.10" y="695.27" width="225.01" height="21.61" fill="url(#sideDarkH)"/><line x1="41.10" y1="716.88" x2="266.11" y2="716.88" stroke="#4f7fb6" stroke-width="1.8" /><rect x="61.17" y="718.02" width="177.79" height="5.36" rx="2" fill="#55524f"/><rect x="39.19" y="664.11" width="233.22" height="29.06" fill="#a99a5c"/><line x1="40.19" y1="694.13" x2="268.41" y2="694.13" stroke="#a85c46" stroke-width="1.6" /><path d="M44.0 668.3 Q19.1 671.8 15.7 687.0 T28.7 698.9" fill="none" stroke="#5a5755" stroke-width="4.2"/><polygon points="231.31,657.42 230.36,660.29 230.36,667.94 231.31,665.07" fill="#8d6620" /><polygon points="255.21,657.42 256.55,660.29 256.55,667.94 255.21,665.07" fill="#8d6620" /><polygon points="230.36,660.29 256.55,660.29 256.55,667.94 230.36,667.94" fill="#b5832a" /><polygon points="231.31,657.42 255.21,657.42 256.55,660.29 230.36,660.29" fill="#f0b443" /><polygon points="234.18,663.16 233.23,666.03 233.23,673.68 234.18,670.81" fill="#8d6620" /><polygon points="259.61,663.16 261.14,666.03 261.14,673.68 259.61,670.81" fill="#8d6620" /><polygon points="233.23,666.03 261.14,666.03 261.14,673.68 233.23,673.68" fill="#b5832a" /><polygon points="234.18,663.16 259.61,663.16 261.14,666.03 233.23,666.03" fill="#f0b443" /><polygon points="237.43,667.94 236.28,670.80 236.28,679.40 237.43,676.54" fill="#8d6620" /><polygon points="263.43,667.94 264.96,670.80 264.96,679.40 263.43,676.54" fill="#8d6620" /><polygon points="236.28,670.80 264.96,670.80 264.96,679.40 236.28,679.40" fill="#b5832a" /><polygon points="237.43,667.94 263.43,667.94 264.96,670.80 236.28,670.80" fill="#f0b443" /><polygon points="242.40,674.25 241.25,677.50 241.25,687.06 242.40,683.81" fill="#8d6620" /><polygon points="269.16,674.25 271.08,677.50 271.08,687.06 269.16,683.81" fill="#8d6620" /><polygon points="241.25,677.50 271.08,677.50 271.08,687.06 241.25,687.06" fill="#b5832a" /><polygon points="242.40,674.25 269.16,674.25 271.08,677.50 241.25,677.50" fill="#f0b443" /><path d="M68.49 681.07 Q68.86 677.59 72.36 677.59 L234.84 677.59 Q238.34 677.59 238.71 681.07 L238.97 683.57 Q239.34 687.05 235.84 687.05 L71.36 687.05 Q67.86 687.05 68.23 683.57 Z" fill="#54514f" /><path d="M71.18 661.84 Q71.69 658.38 75.19 658.39 L223.03 658.75 Q226.53 658.76 228.10 661.89 L237.77 681.09 Q239.34 684.21 235.84 684.21 L71.36 684.21 Q67.86 684.21 68.37 680.75 Z" fill="#6a6764" /><path d="M74.71 662.66 Q75.27 658.92 79.05 658.93 L218.97 659.26 Q222.76 659.27 224.45 662.65 L233.16 679.97 Q234.86 683.35 231.08 683.35 L75.36 683.35 Q71.58 683.35 72.15 679.61 Z" fill="none" stroke="#9a9794" stroke-width="0.9" opacity="0.45"/><path d="M81.91 663.30 Q82.43 659.99 85.78 660.00 L211.86 660.29 Q215.21 660.30 216.71 663.29 L224.41 678.64 Q225.91 681.63 222.56 681.63 L82.37 681.63 Q79.03 681.63 79.55 678.32 Z" fill="none" stroke="#9a9794" stroke-width="0.9" opacity="0.45"/><path d="M89.12 663.94 Q89.59 661.07 92.50 661.07 L204.75 661.32 Q207.66 661.33 208.96 663.93 L215.65 677.30 Q216.95 679.90 214.04 679.90 L89.38 679.90 Q86.48 679.90 86.95 677.03 Z" fill="none" stroke="#9a9794" stroke-width="0.9" opacity="0.45"/><path d="M96.33 664.57 Q96.75 662.14 99.22 662.15 L197.64 662.35 Q200.11 662.36 201.21 664.57 L206.89 675.97 Q207.99 678.18 205.52 678.18 L96.39 678.18 Q93.92 678.18 94.35 675.75 Z" fill="none" stroke="#9a9794" stroke-width="0.9" opacity="0.45"/><path d="M103.53 665.21 Q103.92 663.22 105.95 663.22 L190.53 663.38 Q192.56 663.38 193.46 665.20 L198.14 674.63 Q199.04 676.45 197.01 676.45 L103.40 676.45 Q101.37 676.45 101.75 674.46 Z" fill="none" stroke="#9a9794" stroke-width="0.9" opacity="0.45"/><path d="M110.74 665.85 Q111.08 664.29 112.67 664.30 L183.42 664.41 Q185.01 664.41 185.72 665.84 L189.38 673.30 Q190.08 674.73 188.49 674.73 L110.41 674.73 Q108.82 674.73 109.15 673.17 Z" fill="none" stroke="#9a9794" stroke-width="0.9" opacity="0.45"/><path d="M117.95 666.49 Q118.24 665.37 119.40 665.37 L176.31 665.44 Q177.47 665.44 177.97 666.48 L180.62 671.97 Q181.13 673.01 179.97 673.01 L117.42 673.01 Q116.26 673.01 116.55 671.89 Z" fill="none" stroke="#9a9794" stroke-width="0.9" opacity="0.45"/><path d="M125.16 667.12 Q125.40 666.44 126.12 666.44 L169.20 666.47 Q169.92 666.47 170.22 667.12 L171.86 670.63 Q172.17 671.28 171.45 671.28 L124.43 671.28 Q123.71 671.28 123.95 670.60 Z" fill="none" stroke="#9a9794" stroke-width="0.9" opacity="0.45"/><path d="M78.31 662.98 Q78.85 659.46 82.41 659.46 L215.42 659.78 Q218.98 659.79 220.58 662.97 L228.78 679.30 Q230.38 682.49 226.82 682.49 L78.87 682.49 Q75.31 682.49 75.85 678.97 Z" fill="none" stroke="#454341" stroke-width="0.9"/><path d="M85.52 663.62 Q86.01 660.53 89.14 660.54 L208.31 660.81 Q211.43 660.82 212.83 663.61 L220.03 677.97 Q221.43 680.76 218.30 680.76 L85.88 680.76 Q82.75 680.76 83.25 677.68 Z" fill="none" stroke="#454341" stroke-width="0.9"/><path d="M92.72 664.25 Q93.17 661.61 95.86 661.61 L201.20 661.84 Q203.88 661.84 205.09 664.25 L211.27 676.64 Q212.47 679.04 209.78 679.04 L92.89 679.04 Q90.20 679.04 90.65 676.39 Z" fill="none" stroke="#454341" stroke-width="0.9"/><path d="M99.93 664.89 Q100.34 662.68 102.59 662.68 L194.09 662.87 Q196.34 662.87 197.34 664.89 L202.51 675.30 Q203.52 677.32 201.27 677.32 L99.90 677.32 Q97.65 677.32 98.05 675.10 Z" fill="none" stroke="#454341" stroke-width="0.9"/><path d="M107.14 665.53 Q107.50 663.76 109.31 663.76 L186.98 663.89 Q188.79 663.90 189.59 665.52 L193.76 673.97 Q194.56 675.59 192.75 675.59 L106.91 675.59 Q105.09 675.59 105.45 673.82 Z" fill="none" stroke="#454341" stroke-width="0.9"/><path d="M114.34 666.17 Q114.66 664.83 116.03 664.83 L179.86 664.92 Q181.24 664.93 181.84 666.16 L185.00 672.63 Q185.60 673.87 184.23 673.87 L113.91 673.87 Q112.54 673.87 112.85 672.53 Z" fill="none" stroke="#454341" stroke-width="0.9"/><path d="M121.56 666.81 Q121.82 665.91 122.76 665.91 L172.75 665.95 Q173.69 665.95 174.09 666.80 L176.24 671.30 Q176.65 672.15 175.71 672.15 L120.92 672.15 Q119.99 672.15 120.25 671.25 Z" fill="none" stroke="#454341" stroke-width="0.9"/><line x1="71.69" y1="658.38" x2="128.98" y2="666.98" stroke="#454341" stroke-width="0.6" opacity="0.55"/><line x1="226.53" y1="658.76" x2="166.14" y2="666.98" stroke="#454341" stroke-width="0.6" opacity="0.55"/><line x1="239.34" y1="684.21" x2="167.69" y2="670.42" stroke="#454341" stroke-width="0.6" opacity="0.55"/><line x1="67.86" y1="684.21" x2="127.43" y2="670.42" stroke="#454341" stroke-width="0.6" opacity="0.55"/><polygon points="128.98,666.98 166.14,666.98 167.69,670.42 127.43,670.42" fill="#3e3c3a" /><line x1="71.86" y1="682.32" x2="235.34" y2="682.32" stroke="#75726f" stroke-width="1.2" opacity="0.7"/><polygon points="43.01,668.89 41.10,671.76 41.10,679.41 43.01,676.54" fill="#8d6620" /><polygon points="66.91,668.89 67.29,671.76 67.29,679.41 66.91,676.54" fill="#8d6620" /><polygon points="41.10,671.76 67.29,671.76 67.29,679.41 41.10,679.41" fill="#b5832a" /><polygon points="43.01,668.89 66.91,668.89 67.29,671.76 41.10,671.76" fill="#f0b443" /><polygon points="37.28,674.63 36.32,677.88 36.32,687.82 37.28,684.57" fill="#8d6620" /><polygon points="63.09,674.63 64.04,677.88 64.04,687.82 63.09,684.57" fill="#8d6620" /><polygon points="36.32,677.88 64.04,677.88 64.04,687.82 36.32,687.82" fill="#b5832a" /><polygon points="37.28,674.63 63.09,674.63 64.04,677.88 36.32,677.88" fill="#f0b443" /><rect x="53.14" y="662.78" width="4.00" height="4.20" fill="#d01818" /><g opacity="0.85"><path d="M81.82 666.98 Q78.38 627.79 69.08 609.43" fill="none" stroke="#a04848" stroke-width="2.6" stroke-dasharray="11 5.5"/><polygon points="63.66,598.73 73.77,607.06 68.27,607.83 64.40,611.81" fill="#a04848" /></g><g opacity="0.85"><path d="M97.11 667.55 Q95.58 646.91 93.30 640.12" fill="none" stroke="#a04848" stroke-width="2.6" stroke-dasharray="11 5.5"/><polygon points="89.47,628.75 98.27,638.45 92.72,638.42 88.32,641.80" fill="#a04848" /></g><g opacity="0.85"><path d="M200.73 667.55 Q202.64 646.91 204.93 640.12" fill="none" stroke="#a04848" stroke-width="2.6" stroke-dasharray="11 5.5"/><polygon points="208.76,628.75 209.90,641.80 205.50,638.42 199.95,638.44" fill="#a04848" /></g><g opacity="0.85"><path d="M216.40 666.41 Q219.84 627.79 229.55 609.35" fill="none" stroke="#a04848" stroke-width="2.6" stroke-dasharray="11 5.5"/><polygon points="235.14,598.73 234.20,611.79 230.39,607.76 224.90,606.90" fill="#a04848" /></g><polygon points="102.27,745.93 189.64,745.93 195.56,770.59 98.64,770.59" fill="url(#magTop)" /><rect x="98.64" y="770.40" width="96.92" height="24.28" fill="#b73434" /><rect x="98.64" y="794.68" width="96.92" height="22.94" fill="#527bb2" /><text x="22.00" y="815.30" font-size="34" fill="#000" text-anchor="start" ><tspan font-weight="bold">B</tspan><tspan font-size="23.5" dy="4.5">act</tspan></text><path d="M318.3 625.0 L247.6 694.7 V708.2 L318.3 779.4" fill="none" stroke="#000" stroke-width="1.8" stroke-dasharray="8.5 4.5"/><rect x="318.3" y="624.5" width="232.5" height="154.9" fill="#fff" stroke="#000" stroke-width="1.8" stroke-dasharray="8.5 4.5"/><rect x="329.12" y="656.10" width="152.24" height="15.75" fill="#7f7f7f" /><rect x="329.12" y="671.55" width="152.24" height="15.10" fill="#ffdc9c" /><rect x="329.12" y="686.35" width="152.24" height="15.42" fill="#c85030" /><rect x="329.12" y="715.61" width="152.24" height="15.43" fill="#3c9cf8" /><rect x="329.12" y="730.74" width="152.24" height="15.09" fill="#ffdc9c" /><rect x="329.12" y="745.53" width="152.24" height="15.43" fill="#7f7f7f" /><text x="340.30" y="670.26" font-size="25" fill="#fff" text-anchor="middle" >×</text><circle cx="341.0" cy="753.1" r="6.1" fill="#fff"/><text x="363.65" y="670.26" font-size="25" fill="#fff" text-anchor="middle" >×</text><circle cx="364.3" cy="753.1" r="6.1" fill="#fff"/><text x="386.99" y="670.26" font-size="25" fill="#fff" text-anchor="middle" >×</text><circle cx="387.6" cy="753.1" r="6.1" fill="#fff"/><circle cx="421.9" cy="663.7" r="6.1" fill="#fff"/><text x="422.50" y="759.69" font-size="25" fill="#fff" text-anchor="middle" >×</text><circle cx="444.9" cy="663.7" r="6.1" fill="#fff"/><text x="445.52" y="759.69" font-size="25" fill="#fff" text-anchor="middle" >×</text><circle cx="467.9" cy="663.7" r="6.1" fill="#fff"/><text x="468.53" y="759.69" font-size="25" fill="#fff" text-anchor="middle" >×</text><rect x="347.02" y="644.04" width="1.7" height="126.81" fill="url(#gradBR)"/><polygon points="347.87,636.04 340.87,650.04 347.87,647.54 354.87,650.04" fill="#f01010" /><rect x="458.48" y="644.04" width="1.7" height="126.81" fill="url(#gradBR)"/><polygon points="459.33,636.04 452.33,650.04 459.33,647.54 466.33,650.04" fill="#f01010" /><path d="M477.4 661.7 H502.1 V693.4 M502.1 721.4 V752.1 H477.4" fill="none" stroke="#000" stroke-width="1.8"/><circle cx="502.1" cy="707.4" r="14.0" fill="#fff" stroke="#000" stroke-width="1.7"/><text x="502.07" y="715.39" font-size="23.5" fill="#f01018" text-anchor="middle" >A</text><line x1="522.79" y1="725.80" x2="522.79" y2="692.37" stroke="#f01018" stroke-width="1.8" /><polygon points="522.79,684.37 515.79,697.87 529.79,697.87" fill="#f01018" /><text x="538.24" y="721.86" font-size="37.3" fill="#e8141c" text-anchor="middle" >I</text></g>
<g id="pe"><text x="574.30" y="526.00" font-size="49" fill="#000" text-anchor="start" font-weight="bold" >e</text><path d="M697.40 679.79 L698.21 679.21 L699.01 678.38 L699.82 677.31 L700.63 676.03 L701.43 674.60 L702.24 674.13 L703.05 673.71 L703.85 673.35 L704.66 673.05 L705.46 672.81 L706.27 672.63 L707.08 672.51 L707.88 672.44 L708.69 672.44 L709.50 672.50 L710.30 672.60 L711.11 672.76 L711.92 672.97 L712.72 673.21 L713.53 673.50 L714.34 673.82 L715.14 674.18 L715.95 674.56 L716.75 674.96 L717.56 675.38 L718.37 675.82 L719.17 676.27 L719.98 676.72 L720.79 677.19 L721.59 677.65 L722.40 678.12 L723.21 678.59 L724.01 679.05 L724.82 679.51 L725.63 679.97 L726.43 680.43 L727.24 680.88 L728.04 681.33 L728.85 681.77 L729.66 682.21 L730.46 682.64 L731.27 683.06 L732.08 683.48 L732.88 683.89 L733.69 684.30 L734.50 684.69 L735.30 685.07 L736.11 685.44 L736.92 685.79 L737.72 686.12 L738.53 686.43 L739.33 686.71 L740.14 686.96 L740.95 687.19 L741.75 687.37 L742.56 687.52 L743.37 687.63 L744.17 687.68 L744.98 687.69 L745.79 687.65 L746.59 687.56 L747.40 687.41 L748.21 687.21 L749.01 686.94 L749.82 686.63 L750.63 686.25 L751.43 685.83 L752.24 685.35 L753.04 684.83 L753.85 684.26 L754.66 683.65 L755.46 683.01 L756.27 682.34 L757.08 681.64 L757.88 680.93 L758.69 680.21 L759.50 679.49 L760.30 678.77 L761.11 678.07 L761.92 677.38 L762.72 676.72 L763.53 676.09 L764.33 675.49 L765.14 674.94 L765.95 674.44 L766.75 673.98 L767.56 673.58 L768.37 673.24 L769.17 672.96 L769.98 672.74 L770.79 672.58 L771.59 672.48 L772.40 672.44 L773.21 672.45 L774.01 672.53 L774.82 672.65 L775.62 672.83 L776.43 673.05 L777.24 673.31 L778.04 673.61 L778.85 673.94 L779.66 674.31 L780.46 674.69 L781.27 675.10 L782.08 675.53 L782.88 675.97 L783.69 676.42 L784.50 676.88 L785.30 677.35 L786.11 677.81 L786.92 678.28 L787.72 678.75 L788.53 679.21 L789.33 679.67 L790.14 680.13 L790.95 680.59 L791.75 681.04 L792.56 681.48 L793.37 681.92 L794.17 682.36 L794.98 682.79 L795.79 683.21 L796.59 683.62 L797.40 684.03 L798.21 684.43 L799.01 684.82 L799.82 685.20 L800.62 685.56 L801.43 685.90 L802.24 686.23 L803.04 686.53 L803.85 686.80 L804.66 687.04 L805.46 687.25 L806.27 687.43 L807.08 687.56 L807.88 687.65 L808.69 687.69 L809.50 687.69 L810.30 687.63 L811.11 687.51 L811.91 687.35 L812.72 687.12 L813.53 686.84 L814.33 686.50 L815.14 686.11 L815.95 685.67 L816.75 685.18 L817.56 684.64 L818.37 684.05 L819.17 683.43 L819.98 682.78 L820.79 682.10 L821.59 681.40 L822.40 680.69 L823.20 679.96 L824.01 679.24 L824.82 678.53 L825.62 677.83 L826.43 677.15 L827.24 676.50 L828.04 675.88 L828.85 675.30 L829.66 674.76 L830.46 674.27 L831.27 673.84 L832.08 673.46 L832.88 673.14 L833.69 672.88 L834.50 672.68 L835.30 672.54 L836.11 672.46 L836.91 672.44 L837.72 672.47 L838.53 672.56 L839.33 672.71 L840.14 672.90 L840.95 673.13 L841.75 673.41 L842.56 673.72 L843.37 674.07 L844.17 674.44 L844.98 674.83 L845.79 675.25 L846.59 675.68 L847.40 676.13 L848.20 676.58 L849.01 677.04 L849.82 677.51 L850.62 677.97 L851.43 678.44 L852.24 678.91 L853.04 679.37 L853.85 679.83 L854.66 680.29 L855.46 680.74 L856.27 681.19 L857.08 681.63 L857.88 682.07 L858.69 682.50 L859.49 682.93 L860.30 683.35 L861.11 683.77 L861.91 684.17 L862.72 684.57 L863.53 684.95 L864.33 685.32 L865.14 685.68 L865.95 686.02 L866.75 686.33 L867.56 686.62 L868.37 686.89 L869.17 687.12 L869.98 687.32 L870.78 687.48 L871.59 687.60 L872.40 687.67 L873.20 687.70 L874.01 687.67 L874.82 687.59 L875.62 687.46 L876.43 687.28 L877.24 687.03 L878.04 686.73 L878.85 686.38 L879.66 685.97 L880.46 685.50 L881.27 684.99 L882.08 684.44 L882.88 683.84 L883.69 683.21 L884.49 682.55 L885.30 681.86 L886.11 681.15 L886.91 680.44 L887.72 679.72 L888.53 679.35 L889.33 679.35 L890.14 679.35 L890.95 679.35" fill="none" stroke="#555555" stroke-width="3.2" stroke-linejoin="round" stroke-linecap="round" /><path d="M900.62 680.66 L900.78 677.81 L900.93 674.97 L901.09 672.17 L901.24 669.43 L901.40 666.75 L901.55 664.16 L901.71 661.68 L901.86 659.31 L902.02 657.08 L902.17 655.00 L902.33 653.08 L902.48 651.33 L902.64 649.77 L902.79 648.40 L902.95 647.24 L903.10 646.28 L903.26 645.54 L903.41 645.02 L903.57 644.73 L903.72 644.66 L903.88 644.82 L904.03 645.20 L904.19 645.81 L904.34 646.63 L904.50 647.67 L904.65 648.92 L904.81 650.37 L904.96 652.00 L905.12 653.82 L905.27 655.81 L905.43 657.95 L905.58 660.24 L905.74 662.65 L905.89 665.18 L906.05 667.80 L906.20 670.51 L906.36 673.28 L906.51 676.09 L906.67 678.93 L906.82 681.79 L906.98 684.64 L907.13 687.46 L907.29 690.24 L907.44 692.96 L907.60 695.60 L907.76 698.15 L907.91 700.59 L908.07 702.90 L908.22 705.08 L908.38 707.10 L908.53 708.95 L908.69 710.63 L908.84 712.11 L909.00 713.40 L909.15 714.49 L909.31 715.36 L909.46 716.01 L909.62 716.44 L909.77 716.64 L909.93 716.62 L910.08 716.37 L910.24 715.90 L910.39 715.21 L910.55 714.30 L910.70 713.18 L910.86 711.85 L911.01 710.32 L911.17 708.62 L911.32 706.73 L911.48 704.68 L911.63 702.48 L911.79 700.14 L911.94 697.68 L912.10 695.11 L912.25 692.45 L912.41 689.72 L912.56 686.93 L912.72 684.10 L912.87 681.25 L913.03 678.40 L913.18 675.56 L913.34 672.75 L913.49 669.99 L913.65 667.30 L913.80 664.69 L913.96 662.19 L914.11 659.80 L914.27 657.54 L914.42 655.42 L914.58 653.47 L914.73 651.68 L914.89 650.08 L915.04 648.67 L915.20 647.46 L915.35 646.46 L915.51 645.68 L915.66 645.11 L915.82 644.77 L915.97 644.66 L916.13 644.77 L916.28 645.10 L916.44 645.66 L916.59 646.44 L916.75 647.44 L916.90 648.64 L917.06 650.05 L917.21 651.65 L917.37 653.43 L917.52 655.38 L917.68 657.49 L917.83 659.75 L917.99 662.14 L918.14 664.64 L918.30 667.25 L918.45 669.94 L918.61 672.70 L918.76 675.50 L918.92 678.34 L919.07 681.20 L919.23 684.05 L919.38 686.88 L919.54 689.67 L919.69 692.40 L919.85 695.06 L920.00 697.63 L920.16 700.09 L920.31 702.43 L920.47 704.64 L920.62 706.69 L920.78 708.58 L920.93 710.29 L921.09 711.82 L921.24 713.15 L921.40 714.28 L921.55 715.19 L921.71 715.89 L921.86 716.37 L922.02 716.62 L922.17 716.65 L922.33 716.44 L922.48 716.02 L922.64 715.37 L922.79 714.50 L922.95 713.43 L923.10 712.14 L923.26 710.66 L923.41 708.99 L923.57 707.14 L923.72 705.12 L923.88 702.95 L924.03 700.64 L924.19 698.20 L924.34 695.66 L924.50 693.01 L924.65 690.30 L924.81 687.52 L924.96 684.69 L925.12 681.85 L925.27 678.99 L925.43 676.15 L925.58 673.33 L925.74 670.56 L925.89 667.85 L926.05 665.23 L926.20 662.70 L926.36 660.28 L926.51 657.99 L926.67 655.85 L926.82 653.86 L926.98 652.04 L927.13 650.40 L927.29 648.95 L927.44 647.70 L927.60 646.65 L927.75 645.82 L927.91 645.21 L928.06 644.82 L928.22 644.66 L928.37 644.73 L928.53 645.02 L928.69 645.53 L928.84 646.26 L929.00 647.22 L929.15 648.38 L929.31 649.74 L929.46 651.30 L929.62 653.05 L929.77 654.96 L929.93 657.04 L930.08 659.27 L930.24 661.63 L930.39 664.11 L930.55 666.70 L930.70 669.37 L930.86 672.12 L931.01 674.92 L931.17 677.75 L931.32 680.60 L931.48 683.46 L931.63 686.29 L931.79 689.09 L931.94 691.84 L932.10 694.52 L932.25 697.10 L932.41 699.59 L932.56 701.96 L932.72 704.19 L932.87 706.28 L933.03 708.20 L933.18 709.95 L933.34 711.52 L933.49 712.89 L933.65 714.06 L933.80 715.02 L933.96 715.76 L934.11 716.29 L934.27 716.59 L934.42 716.66 L934.58 716.51 L934.73 716.13 L934.89 715.52 L935.04 714.70 L935.20 713.67 L935.35 712.42 L935.51 710.98 L935.66 709.35 L935.82 707.53 L935.97 705.55 L936.13 703.41 L936.28 701.13 L936.44 698.72 L936.59 696.19 L936.75 693.57 L936.90 690.87 L937.06 688.10 L937.21 685.28 L937.37 682.44 L937.52 679.58 L937.68 676.74 L937.83 673.91" fill="none" stroke="#0a64c8" stroke-width="2.6" stroke-linejoin="round" stroke-linecap="round" /><path d="M949.34 679.35 L949.42 673.19 L949.49 667.06 L949.56 661.01 L949.63 655.08 L949.70 649.29 L949.77 643.69 L949.85 638.31 L949.92 633.18 L949.99 628.33 L950.06 623.81 L950.13 619.62 L950.20 615.80 L950.28 612.37 L950.35 609.36 L950.42 606.78 L950.49 604.64 L950.56 602.97 L950.63 601.77 L950.71 601.04 L950.78 600.80 L950.85 601.04 L950.92 601.77 L950.99 602.97 L951.07 604.64 L951.14 606.78 L951.21 609.36 L951.28 612.37 L951.35 615.80 L951.42 619.62 L951.50 623.81 L951.57 628.33 L951.64 633.18 L951.71 638.31 L951.78 643.69 L951.85 649.29 L951.93 655.08 L952.00 661.01 L952.07 667.06 L952.14 673.19 L952.21 679.35 L952.29 685.51 L952.36 691.64 L952.43 697.69 L952.50 703.62 L952.57 709.41 L952.64 715.01 L952.72 720.39 L952.79 725.52 L952.86 730.37 L952.93 734.89 L953.00 739.08 L953.07 742.90 L953.15 746.33 L953.22 749.34 L953.29 751.92 L953.36 754.06 L953.43 755.73 L953.50 756.93 L953.58 757.66 L953.65 757.90 L953.72 757.66 L953.79 756.93 L953.86 755.73 L953.94 754.06 L954.01 751.92 L954.08 749.34 L954.15 746.33 L954.22 742.90 L954.29 739.08 L954.37 734.89 L954.44 730.37 L954.51 725.52 L954.58 720.39 L954.65 715.01 L954.72 709.41 L954.80 703.62 L954.87 697.69 L954.94 691.64 L955.01 685.51 L955.08 679.35 L955.15 673.19 L955.23 667.06 L955.30 661.01 L955.37 655.08 L955.44 649.29 L955.51 643.69 L955.59 638.31 L955.66 633.18 L955.73 628.33 L955.80 623.81 L955.87 619.62 L955.94 615.80 L956.02 612.37 L956.09 609.36 L956.16 606.78 L956.23 604.64 L956.30 602.97 L956.37 601.77 L956.45 601.04 L956.52 600.80 L956.59 601.04 L956.66 601.77 L956.73 602.97 L956.81 604.64 L956.88 606.78 L956.95 609.36 L957.02 612.37 L957.09 615.80 L957.16 619.62 L957.24 623.81 L957.31 628.33 L957.38 633.18 L957.45 638.31 L957.52 643.69 L957.59 649.29 L957.67 655.08 L957.74 661.01 L957.81 667.06 L957.88 673.19 L957.95 679.35 L958.02 685.51 L958.10 691.64 L958.17 697.69 L958.24 703.62 L958.31 709.41 L958.38 715.01 L958.46 720.39 L958.53 725.52 L958.60 730.37 L958.67 734.89 L958.74 739.08 L958.81 742.90 L958.89 746.33 L958.96 749.34 L959.03 751.92 L959.10 754.06 L959.17 755.73 L959.24 756.93 L959.32 757.66 L959.39 757.90 L959.46 757.66 L959.53 756.93 L959.60 755.73 L959.67 754.06 L959.75 751.92 L959.82 749.34 L959.89 746.33 L959.96 742.90 L960.03 739.08 L960.11 734.89 L960.18 730.37 L960.25 725.52 L960.32 720.39 L960.39 715.01 L960.46 709.41 L960.54 703.62 L960.61 697.69 L960.68 691.64 L960.75 685.51 L960.82 679.35 L960.89 673.19 L960.97 667.06 L961.04 661.01 L961.11 655.08 L961.18 649.29 L961.25 643.69 L961.32 638.31 L961.40 633.18 L961.47 628.33 L961.54 623.81 L961.61 619.62 L961.68 615.80 L961.76 612.37 L961.83 609.36 L961.90 606.78 L961.97 604.64 L962.04 602.97 L962.11 601.77 L962.19 601.04 L962.26 600.80 L962.33 601.04 L962.40 601.77 L962.47 602.97 L962.54 604.64 L962.62 606.78 L962.69 609.36 L962.76 612.37 L962.83 615.80 L962.90 619.62 L962.98 623.81 L963.05 628.33 L963.12 633.18 L963.19 638.31 L963.26 643.69 L963.33 649.29 L963.41 655.08 L963.48 661.01 L963.55 667.06 L963.62 673.19 L963.69 679.35 L963.76 685.51 L963.84 691.64 L963.91 697.69 L963.98 703.62 L964.05 709.41 L964.12 715.01 L964.19 720.39 L964.27 725.52 L964.34 730.37 L964.41 734.89 L964.48 739.08 L964.55 742.90 L964.63 746.33 L964.70 749.34 L964.77 751.92 L964.84 754.06 L964.91 755.73 L964.98 756.93 L965.06 757.66 L965.13 757.90 L965.20 757.66 L965.27 756.93 L965.34 755.73 L965.41 754.06 L965.49 751.92 L965.56 749.34 L965.63 746.33 L965.70 742.90 L965.77 739.08 L965.84 734.89 L965.92 730.37 L965.99 725.52 L966.06 720.39 L966.13 715.01 L966.20 709.41 L966.28 703.62 L966.35 697.69 L966.42 691.64 L966.49 685.51 L966.56 679.35" fill="none" stroke="#960000" stroke-width="2.7" stroke-linejoin="round" stroke-linecap="round" /><path d="M979.38 679.35 L979.42 670.33 L979.47 661.36 L979.52 652.51 L979.57 643.82 L979.61 635.34 L979.66 627.14 L979.71 619.27 L979.76 611.76 L979.80 604.67 L979.85 598.04 L979.90 591.91 L979.95 586.32 L979.99 581.30 L980.04 576.89 L980.09 573.11 L980.14 569.99 L980.18 567.54 L980.23 565.77 L980.28 564.71 L980.33 564.36 L980.38 564.71 L980.42 565.77 L980.47 567.54 L980.52 569.99 L980.57 573.11 L980.61 576.89 L980.66 581.30 L980.71 586.32 L980.76 591.91 L980.80 598.04 L980.85 604.67 L980.90 611.76 L980.95 619.27 L980.99 627.14 L981.04 635.34 L981.09 643.82 L981.14 652.51 L981.18 661.36 L981.23 670.33 L981.28 679.35 L981.33 688.37 L981.37 697.34 L981.42 706.19 L981.47 714.88 L981.52 723.36 L981.56 731.56 L981.61 739.43 L981.66 746.94 L981.71 754.03 L981.75 760.66 L981.80 766.79 L981.85 772.38 L981.90 777.40 L981.94 781.81 L981.99 785.59 L982.04 788.71 L982.09 791.16 L982.13 792.93 L982.18 793.99 L982.23 794.34 L982.28 793.99 L982.32 792.93 L982.37 791.16 L982.42 788.71 L982.47 785.59 L982.51 781.81 L982.56 777.40 L982.61 772.38 L982.66 766.79 L982.71 760.66 L982.75 754.03 L982.80 746.94 L982.85 739.43 L982.90 731.56 L982.94 723.36 L982.99 714.88 L983.04 706.19 L983.09 697.34 L983.13 688.37 L983.18 679.35 L983.23 670.33 L983.28 661.36 L983.32 652.51 L983.37 643.82 L983.42 635.34 L983.47 627.14 L983.51 619.27 L983.56 611.76 L983.61 604.67 L983.66 598.04 L983.70 591.91 L983.75 586.32 L983.80 581.30 L983.85 576.89 L983.89 573.11 L983.94 569.99 L983.99 567.54 L984.04 565.77 L984.08 564.71 L984.13 564.36 L984.18 564.71 L984.23 565.77 L984.27 567.54 L984.32 569.99 L984.37 573.11 L984.42 576.89 L984.46 581.30 L984.51 586.32 L984.56 591.91 L984.61 598.04 L984.65 604.67 L984.70 611.76 L984.75 619.27 L984.80 627.14 L984.85 635.34 L984.89 643.82 L984.94 652.51 L984.99 661.36 L985.04 670.33 L985.08 679.35 L985.13 688.37 L985.18 697.34 L985.23 706.19 L985.27 714.88 L985.32 723.36 L985.37 731.56 L985.42 739.43 L985.46 746.94 L985.51 754.03 L985.56 760.66 L985.61 766.79 L985.65 772.38 L985.70 777.40 L985.75 781.81 L985.80 785.59 L985.84 788.71 L985.89 791.16 L985.94 792.93 L985.99 793.99 L986.03 794.34 L986.08 793.99 L986.13 792.93 L986.18 791.16 L986.22 788.71 L986.27 785.59 L986.32 781.81 L986.37 777.40 L986.41 772.38 L986.46 766.79 L986.51 760.66 L986.56 754.03 L986.60 746.94 L986.65 739.43 L986.70 731.56 L986.75 723.36 L986.79 714.88 L986.84 706.19 L986.89 697.34 L986.94 688.37 L986.98 679.35 L987.03 670.33 L987.08 661.36 L987.13 652.51 L987.18 643.82 L987.22 635.34 L987.27 627.14 L987.32 619.27 L987.37 611.76 L987.41 604.67 L987.46 598.04 L987.51 591.91 L987.56 586.32 L987.60 581.30 L987.65 576.89 L987.70 573.11 L987.75 569.99 L987.79 567.54 L987.84 565.77 L987.89 564.71 L987.94 564.36 L987.98 564.71 L988.03 565.77 L988.08 567.54 L988.13 569.99 L988.17 573.11 L988.22 576.89 L988.27 581.30 L988.32 586.32 L988.36 591.91 L988.41 598.04 L988.46 604.67 L988.51 611.76 L988.55 619.27 L988.60 627.14 L988.65 635.34 L988.70 643.82 L988.74 652.51 L988.79 661.36 L988.84 670.33 L988.89 679.35 L988.93 688.37 L988.98 697.34 L989.03 706.19 L989.08 714.88 L989.12 723.36 L989.17 731.56 L989.22 739.43 L989.27 746.94 L989.31 754.03 L989.36 760.66 L989.41 766.79 L989.46 772.38 L989.51 777.40 L989.55 781.81 L989.60 785.59 L989.65 788.71 L989.70 791.16 L989.74 792.93 L989.79 793.99 L989.84 794.34 L989.89 793.99 L989.93 792.93 L989.98 791.16 L990.03 788.71 L990.08 785.59 L990.12 781.81 L990.17 777.40 L990.22 772.38 L990.27 766.79 L990.31 760.66 L990.36 754.03 L990.41 746.94 L990.46 739.43 L990.50 731.56 L990.55 723.36 L990.60 714.88 L990.65 706.19 L990.69 697.34 L990.74 688.37 L990.79 679.35" fill="none" stroke="#007878" stroke-width="1.7" stroke-linejoin="round" stroke-linecap="round" /><rect x="682.00" y="548.50" width="333.30" height="261.70" fill="none" stroke="#000" stroke-width="3"/><line x1="682.00" y1="613.89" x2="688.00" y2="613.89" stroke="#000" stroke-width="2" /><line x1="682.00" y1="679.35" x2="688.00" y2="679.35" stroke="#000" stroke-width="2" /><line x1="682.00" y1="744.81" x2="688.00" y2="744.81" stroke="#000" stroke-width="2" /><line x1="682.00" y1="581.16" x2="686.30" y2="581.16" stroke="#000" stroke-width="1.8" /><line x1="682.00" y1="646.62" x2="686.30" y2="646.62" stroke="#000" stroke-width="1.8" /><line x1="682.00" y1="712.08" x2="686.30" y2="712.08" stroke="#000" stroke-width="1.8" /><line x1="682.00" y1="777.54" x2="686.30" y2="777.54" stroke="#000" stroke-width="1.8" /><line x1="697.40" y1="810.20" x2="697.40" y2="804.20" stroke="#000" stroke-width="2" /><line x1="764.14" y1="810.20" x2="764.14" y2="804.20" stroke="#000" stroke-width="2" /><line x1="830.88" y1="810.20" x2="830.88" y2="804.20" stroke="#000" stroke-width="2" /><line x1="897.62" y1="810.20" x2="897.62" y2="804.20" stroke="#000" stroke-width="2" /><line x1="964.36" y1="810.20" x2="964.36" y2="804.20" stroke="#000" stroke-width="2" /><line x1="730.77" y1="810.20" x2="730.77" y2="805.90" stroke="#000" stroke-width="1.8" /><line x1="797.51" y1="810.20" x2="797.51" y2="805.90" stroke="#000" stroke-width="1.8" /><line x1="864.25" y1="810.20" x2="864.25" y2="805.90" stroke="#000" stroke-width="1.8" /><line x1="930.99" y1="810.20" x2="930.99" y2="805.90" stroke="#000" stroke-width="1.8" /><line x1="997.73" y1="810.20" x2="997.73" y2="805.90" stroke="#000" stroke-width="1.8" /><text x="675.50" y="558.83" font-size="32" fill="#000" text-anchor="end" >0.6</text><text x="675.50" y="624.29" font-size="32" fill="#000" text-anchor="end" >0.3</text><text x="675.50" y="689.75" font-size="32" fill="#000" text-anchor="end" >0.0</text><text x="675.50" y="755.21" font-size="32" fill="#000" text-anchor="end" >-0.3</text><text x="675.50" y="820.67" font-size="32" fill="#000" text-anchor="end" >-0.6</text><text x="697.40" y="839.50" font-size="32" fill="#000" text-anchor="middle" >0</text><text x="761.64" y="839.50" font-size="32" fill="#000" text-anchor="middle" >0.2</text><text x="832.08" y="839.50" font-size="32" fill="#000" text-anchor="middle" >0.4</text><text x="900.12" y="839.50" font-size="32" fill="#000" text-anchor="middle" >0.6</text><text x="965.36" y="839.50" font-size="32" fill="#000" text-anchor="middle" >0.8</text><text x="850.50" y="880.00" font-size="36" fill="#000" text-anchor="middle" >Time (s)</text><text transform="translate(615.50 678.00) rotate(-90)" font-size="36" fill="#000" text-anchor="middle" ><tspan font-style="italic">V</tspan><tspan font-size="22" dy="3.5">EMG</tspan><tspan dy="-3.5"> (V)</tspan></text><text x="705.00" y="757.60" font-size="32" fill="#000" text-anchor="start" ><tspan font-style="italic">B</tspan><tspan font-size="21" dy="4">act</tspan><tspan dy="-4"> = 150 mT</tspan></text><line x1="707.70" y1="566.60" x2="746.70" y2="566.60" stroke="#555555" stroke-width="6" /><text x="834.50" y="576.60" font-size="32" fill="#000" text-anchor="end" >5 Hz</text><line x1="707.70" y1="593.90" x2="746.70" y2="593.90" stroke="#0a64c8" stroke-width="6" /><text x="834.50" y="604.90" font-size="32" fill="#000" text-anchor="end" >28 Hz</text><line x1="707.70" y1="622.10" x2="746.70" y2="622.10" stroke="#960000" stroke-width="6" /><text x="834.50" y="633.10" font-size="32" fill="#000" text-anchor="end" >58 Hz</text><line x1="707.70" y1="650.70" x2="746.70" y2="650.70" stroke="#007878" stroke-width="6" /><text x="834.50" y="661.00" font-size="32" fill="#000" text-anchor="end" >88 Hz</text></g>
<g id="pf"><text x="1071.50" y="526.00" font-size="49" fill="#000" text-anchor="start" font-weight="bold" >f</text><line x1="1159.30" y1="678.10" x2="1496.70" y2="678.10" stroke="#9a9a9a" stroke-width="1.2" stroke-dasharray="6 4"/><path d="M1189.8 678.1 L1189.9 665.0 L1190.1 672.9 L1190.2 699.5 L1190.3 696.7 L1190.4 670.8 L1190.5 665.5 L1190.7 682.5 L1190.8 704.2 L1190.9 684.0 L1191.0 665.6 L1191.1 670.0 L1191.3 695.9 L1191.4 700.7 L1191.5 673.4 L1191.6 664.3 L1191.7 677.3 L1191.9 703.7 L1192.0 689.8 L1192.1 667.0 L1192.2 667.4 L1192.3 691.2 L1192.5 703.5 L1192.6 676.5 L1192.7 663.9 L1192.8 674.1 L1192.9 701.9 L1193.1 695.1 L1193.2 669.0 L1193.3 665.3 L1193.4 685.7 L1193.5 705.1 L1193.7 681.2 L1193.8 664.2 L1193.9 670.9 L1194.0 698.7 L1194.1 699.7 L1194.3 671.6 L1194.4 663.7 L1194.5 679.7 L1194.6 705.3 L1194.7 687.3 L1194.9 665.2 L1195.0 667.9 L1195.1 694.3 L1195.2 703.3 L1195.3 674.7 L1195.5 662.9 L1195.6 675.5 L1195.7 704.0 L1195.8 693.2 L1195.9 667.1 L1196.1 665.4 L1196.2 689.0 L1196.3 705.6 L1196.4 678.1 L1196.5 662.8 L1196.7 672.0 L1196.8 701.4 L1196.9 698.4 L1197.0 669.6 L1197.1 663.4 L1197.3 682.9 L1197.4 706.5 L1197.5 684.5 L1197.6 663.6 L1197.7 668.7 L1197.9 697.4 L1198.0 702.6 L1198.1 672.7 L1198.2 662.1 L1198.3 677.2 L1198.5 706.0 L1198.6 690.8 L1198.7 665.2 L1198.8 665.7 L1198.9 692.3 L1199.1 705.7 L1199.2 676.2 L1199.3 661.6 L1199.4 673.4 L1199.5 703.9 L1199.7 696.6 L1199.8 667.5 L1199.9 663.3 L1200.0 686.4 L1200.1 707.4 L1200.3 681.5 L1200.4 662.0 L1200.5 669.8 L1200.6 700.4 L1200.7 701.5 L1200.9 670.6 L1201.0 661.6 L1201.1 679.8 L1201.2 707.6 L1201.3 688.1 L1201.5 663.3 L1201.6 666.4 L1201.7 695.7 L1201.8 705.4 L1201.9 674.2 L1202.1 660.7 L1202.2 675.1 L1202.3 706.2 L1202.4 694.4 L1202.5 665.5 L1202.7 663.5 L1202.8 689.9 L1202.9 707.8 L1203.0 678.1 L1203.1 660.6 L1203.3 671.1 L1203.4 703.3 L1203.5 700.0 L1203.6 668.4 L1203.7 661.3 L1203.9 683.3 L1204.0 708.8 L1204.1 685.1 L1204.2 661.6 L1204.3 667.4 L1204.5 699.0 L1204.6 704.6 L1204.7 671.9 L1204.8 659.9 L1204.9 677.0 L1205.1 708.2 L1205.2 691.8 L1205.3 663.4 L1205.4 664.0 L1205.5 693.5 L1205.7 707.9 L1205.8 676.0 L1205.9 659.4 L1206.0 672.8 L1206.1 705.9 L1206.3 698.0 L1206.4 666.1 L1206.5 661.3 L1206.6 687.0 L1206.7 709.7 L1206.9 681.7 L1207.0 659.9 L1207.1 668.7 L1207.2 702.2 L1207.3 703.3 L1207.5 669.6 L1207.6 659.4 L1207.7 679.9 L1207.8 709.8 L1207.9 688.9 L1208.1 661.4 L1208.2 664.9 L1208.3 697.0 L1208.4 707.4 L1208.5 673.6 L1208.7 658.4 L1208.8 674.7 L1208.9 708.3 L1209.0 695.6 L1209.1 663.9 L1209.3 661.7 L1209.4 690.8 L1209.5 710.1 L1209.6 678.1 L1209.7 658.4 L1209.9 670.3 L1210.0 705.2 L1210.1 701.6 L1210.2 667.2 L1210.3 659.2 L1210.5 683.7 L1210.6 711.1 L1210.7 685.6 L1210.8 659.5 L1210.9 666.1 L1211.1 700.5 L1211.2 706.5 L1211.3 671.2 L1211.4 657.7 L1211.5 676.9 L1211.7 710.4 L1211.8 692.8 L1211.9 661.6 L1212.0 662.4 L1212.1 694.6 L1212.3 710.0 L1212.4 675.7 L1212.5 657.2 L1212.6 672.2 L1212.7 707.9 L1212.9 699.5 L1213.0 664.7 L1213.1 659.4 L1213.2 687.7 L1213.3 711.9 L1213.5 682.0 L1213.6 657.8 L1213.7 667.6 L1213.8 703.9 L1213.9 705.2 L1214.1 668.6 L1214.2 657.2 L1214.3 680.1 L1214.4 712.1 L1214.5 689.7 L1214.7 659.5 L1214.8 663.4 L1214.9 698.4 L1215.0 709.5 L1215.1 673.1 L1215.3 656.2 L1215.4 674.4 L1215.5 710.4 L1215.6 696.9 L1215.7 662.3 L1215.9 659.8 L1216.0 691.7 L1216.1 712.3 L1216.2 678.1 L1216.3 656.3 L1216.5 669.4 L1216.6 707.1 L1216.7 703.3 L1216.8 666.0 L1216.9 657.1 L1217.1 684.1 L1217.2 713.4 L1217.3 686.1 L1217.4 657.5 L1217.5 664.8 L1217.7 702.1 L1217.8 708.5 L1217.9 670.4 L1218.0 655.5 L1218.1 676.8 L1218.3 712.6 L1218.4 693.9 L1218.5 659.9 L1218.6 660.7 L1218.7 695.7 L1218.9 712.2 L1219.0 675.5 L1219.1 655.0 L1219.2 671.5 L1219.3 710.0 L1219.5 700.9 L1219.6 663.3 L1219.7 657.4 L1219.8 688.3 L1219.9 714.2 L1220.1 682.2 L1220.2 655.7 L1220.3 666.5 L1220.4 705.6 L1220.5 707.0 L1220.7 667.6 L1220.8 655.1 L1220.9 680.2 L1221.0 714.3 L1221.1 690.4 L1221.3 657.6 L1221.4 661.9 L1221.5 699.7 L1221.6 711.6 L1221.7 672.6 L1221.9 653.9 L1222.0 674.0 L1222.1 712.6 L1222.2 698.1 L1222.3 660.7 L1222.5 658.0 L1222.6 692.6 L1222.7 714.6 L1222.8 678.1 L1222.9 654.1 L1223.1 668.5 L1223.2 708.9 L1223.3 704.9 L1223.4 664.7 L1223.5 655.1 L1223.7 684.5 L1223.8 715.7 L1223.9 686.6 L1224.0 655.5 L1224.1 663.4 L1224.3 703.3 L1224.4 711.0 L1224.5 671.1 L1224.6 653.0 L1224.7 673.1 L1224.9 712.1 L1225.0 703.2 L1225.1 664.3 L1225.2 653.9 L1225.3 678.3 L1225.5 714.6 L1225.6 699.7 L1225.7 662.5 L1225.8 654.0 L1225.9 678.3 L1226.1 714.4 L1226.2 702.2 L1226.3 664.9 L1226.4 652.8 L1226.5 673.2 L1226.7 710.7 L1226.8 709.5 L1226.9 672.1 L1227.0 652.5 L1227.1 664.2 L1227.3 699.8 L1227.4 716.3 L1227.5 687.6 L1227.6 657.8 L1227.7 654.6 L1227.9 678.5 L1228.0 713.4 L1228.1 708.6 L1228.2 672.5 L1228.3 652.6 L1228.5 660.5 L1228.6 691.9 L1228.7 717.1 L1228.8 701.0 L1228.9 666.5 L1229.1 651.5 L1229.2 663.8 L1229.3 696.7 L1229.4 717.6 L1229.5 699.1 L1229.7 665.7 L1229.8 651.3 L1229.9 662.9 L1230.0 694.3 L1230.1 717.5 L1230.3 703.6 L1230.4 669.8 L1230.5 651.9 L1230.6 658.0 L1230.7 684.4 L1230.9 714.6 L1231.0 712.2 L1231.1 679.7 L1231.2 656.1 L1231.3 652.2 L1231.5 670.5 L1231.6 703.3 L1231.7 718.4 L1231.8 699.7 L1231.9 667.9 L1232.1 651.3 L1232.2 656.6 L1232.3 679.8 L1232.4 711.5 L1232.5 716.7 L1232.7 691.4 L1232.8 662.9 L1232.9 650.3 L1233.0 659.1 L1233.1 684.2 L1233.3 713.5 L1233.4 716.3 L1233.5 690.7 L1233.6 662.9 L1233.7 650.1 L1233.9 657.6 L1234.0 680.5 L1234.1 711.0 L1234.2 718.3 L1234.3 697.4 L1234.5 667.8 L1234.6 651.3 L1234.7 653.1 L1234.8 671.8 L1234.9 702.2 L1235.1 719.3 L1235.2 709.2 L1235.3 678.7 L1235.4 657.2 L1235.5 649.4 L1235.7 660.0 L1235.8 683.8 L1235.9 712.1 L1236.0 719.1 L1236.1 700.7 L1236.3 671.3 L1236.4 653.1 L1236.5 650.0 L1236.6 663.8 L1236.7 689.8 L1236.9 715.0 L1237.0 718.6 L1237.1 698.5 L1237.2 670.1 L1237.3 652.6 L1237.5 649.6 L1237.6 662.8 L1237.7 687.4 L1237.8 713.5 L1237.9 719.9 L1238.1 703.4 L1238.2 674.6 L1238.3 655.3 L1238.4 648.4 L1238.5 657.3 L1238.7 677.2 L1238.8 706.1 L1238.9 720.6 L1239.0 713.1 L1239.1 687.5 L1239.3 663.5 L1239.4 649.7 L1239.5 650.2 L1239.6 664.7 L1239.7 689.2 L1239.9 713.9 L1240.0 721.0 L1240.1 707.1 L1240.2 679.3 L1240.3 659.0 L1240.5 648.2 L1240.6 651.5 L1240.7 667.4 L1240.8 692.6 L1240.9 715.5 L1241.1 721.1 L1241.2 707.1 L1241.3 679.8 L1241.4 659.6 L1241.5 648.2 L1241.7 650.1 L1241.8 664.5 L1241.9 687.6 L1242.0 712.3 L1242.1 722.0 L1242.3 712.8 L1242.4 688.8 L1242.5 665.4 L1242.6 650.6 L1242.7 647.3 L1242.9 656.9 L1243.0 675.3 L1243.1 701.8 L1243.2 719.6 L1243.3 720.6 L1243.5 704.3 L1243.6 677.7 L1243.7 658.9 L1243.8 647.7 L1243.9 648.5 L1244.1 660.9 L1244.2 680.8 L1244.3 706.7 L1244.4 721.5 L1244.5 719.7 L1244.7 702.1 L1244.8 676.2 L1244.9 658.0 L1245.0 647.2 L1245.1 648.0 L1245.3 659.8 L1245.4 678.5 L1245.5 704.3 L1245.6 720.7 L1245.7 721.7 L1245.9 707.1 L1246.0 682.2 L1246.1 662.2 L1246.2 649.0 L1246.3 646.0 L1246.5 654.1 L1246.6 670.5 L1246.7 694.1 L1246.8 715.2 L1246.9 723.7 L1247.1 716.8 L1247.2 697.0 L1247.3 672.9 L1247.4 655.9 L1247.5 646.2 L1247.7 647.0 L1247.8 657.9 L1247.9 675.4 L1248.0 699.8 L1248.1 718.4 L1248.3 724.1 L1248.4 715.2 L1248.5 694.6 L1248.6 671.5 L1248.7 655.1 L1248.9 645.8 L1249.0 646.4 L1249.1 656.8 L1249.2 673.7 L1249.3 697.2 L1249.5 716.7 L1249.6 724.6 L1249.7 718.6 L1249.8 700.7 L1249.9 676.6 L1250.1 659.3 L1250.2 647.5 L1250.3 644.5 L1250.4 651.2 L1250.5 665.7 L1250.7 685.8 L1250.8 708.5 L1250.9 722.6 L1251.0 724.1 L1251.1 712.8 L1251.3 691.9 L1251.4 670.2 L1251.5 654.4 L1251.6 645.2 L1251.7 644.9 L1251.9 653.6 L1252.0 668.9 L1252.1 689.9 L1252.2 711.2 L1252.3 723.8 L1252.5 724.2 L1252.6 712.6 L1252.7 692.0 L1252.8 670.6 L1252.9 654.9 L1253.1 645.2 L1253.2 643.9 L1253.3 651.3 L1253.4 665.5 L1253.5 684.7 L1253.7 706.9 L1253.8 721.8 L1253.9 726.0 L1254.0 718.3 L1254.1 700.7 L1254.3 677.7 L1254.4 661.0 L1254.5 648.4 L1254.6 642.9 L1254.7 645.9 L1254.9 656.6 L1255.0 672.4 L1255.1 693.7 L1255.2 713.4 L1255.3 724.9 L1255.5 725.5 L1255.6 715.1 L1255.7 696.2 L1255.8 674.4 L1255.9 658.4 L1256.1 646.8 L1256.2 642.3 L1256.3 645.9 L1256.4 656.7 L1256.5 672.2 L1256.7 693.1 L1256.8 712.7 L1256.9 724.8 L1257.0 726.6 L1257.1 717.8 L1257.3 700.5 L1257.4 678.3 L1257.5 661.9 L1257.6 649.0 L1257.7 642.3 L1257.9 643.2 L1258.0 651.5 L1258.1 665.3 L1258.2 683.1 L1258.3 704.5 L1258.5 720.4 L1258.6 727.5 L1258.7 724.6 L1258.8 712.1 L1258.9 692.7 L1259.1 672.4 L1259.2 657.1 L1259.3 646.0 L1259.4 641.3 L1259.5 643.9 L1259.7 653.3 L1259.8 667.5 L1259.9 685.9 L1260.0 706.5 L1260.1 721.5 L1260.3 728.2 L1260.4 725.1 L1260.5 713.1 L1260.6 694.4 L1260.7 674.0 L1260.9 658.6 L1261.0 646.9 L1261.1 641.1 L1261.2 642.1 L1261.3 649.9 L1261.5 662.8 L1261.6 678.8 L1261.7 700.0 L1261.8 717.1 L1261.9 727.1 L1262.1 728.3 L1262.2 720.4 L1262.3 704.9 L1262.4 684.6 L1262.5 667.0 L1262.7 653.0 L1262.8 643.5 L1262.9 640.0 L1263.0 643.2 L1263.1 652.6 L1263.3 666.3 L1263.4 683.4 L1263.5 703.7 L1263.6 719.6 L1263.7 728.3 L1263.9 728.6 L1264.0 720.2 L1264.1 704.8 L1264.2 684.9 L1264.3 667.5 L1264.5 653.5 L1264.6 643.7 L1264.7 639.5 L1264.8 641.7 L1264.9 649.8 L1265.1 662.6 L1265.2 677.9 L1265.3 698.3 L1265.4 715.6 L1265.5 726.7 L1265.7 730.2 L1265.8 725.3 L1265.9 712.9 L1266.0 695.0 L1266.1 675.4 L1266.3 660.4 L1266.4 648.2 L1266.5 640.7 L1266.6 638.9 L1266.7 643.2 L1266.9 652.9 L1267.0 666.4 L1267.1 682.9 L1267.2 702.5 L1267.3 718.5 L1267.5 728.4 L1267.6 730.7 L1267.7 725.1 L1267.8 712.6 L1267.9 694.9 L1268.1 675.6 L1268.2 660.8 L1268.3 648.5 L1268.4 640.6 L1268.5 638.1 L1268.7 641.5 L1268.8 650.1 L1268.9 662.7 L1269.0 677.6 L1269.1 697.2 L1269.3 714.3 L1269.4 726.3 L1269.5 731.4 L1269.6 729.0 L1269.7 719.6 L1269.9 704.3 L1270.0 685.4 L1270.1 668.6 L1270.2 654.8 L1270.3 644.3 L1270.5 638.4 L1270.6 637.9 L1270.7 642.9 L1270.8 652.7 L1270.9 665.8 L1271.1 681.5 L1271.2 700.7 L1271.3 716.8 L1271.4 727.8 L1271.5 732.2 L1271.7 729.4 L1271.8 719.9 L1271.9 705.0 L1272.0 686.5 L1272.1 669.6 L1272.3 655.9 L1272.4 645.0 L1272.5 638.4 L1272.6 636.9 L1272.7 640.6 L1272.9 649.1 L1273.0 661.3 L1273.1 675.7 L1273.2 694.1 L1273.3 711.4 L1273.5 724.5 L1273.6 731.8 L1273.7 732.4 L1273.8 726.3 L1273.9 714.3 L1274.1 697.8 L1274.2 678.9 L1274.3 664.3 L1274.4 651.5 L1274.5 642.0 L1274.7 636.8 L1274.8 636.5 L1274.9 641.3 L1275.0 650.5 L1275.1 662.9 L1275.3 677.2 L1275.4 695.7 L1275.5 712.5 L1275.6 725.2 L1275.7 732.4 L1275.9 733.3 L1276.0 727.7 L1276.1 716.5 L1276.2 700.8 L1276.3 682.5 L1276.5 667.1 L1276.6 653.9 L1276.7 643.6 L1276.8 637.1 L1276.9 635.3 L1277.1 638.3 L1277.2 645.8 L1277.3 656.9 L1277.4 670.3 L1277.5 686.7 L1277.7 704.4 L1277.8 719.3 L1277.9 729.6 L1278.0 734.3 L1278.1 732.8 L1278.3 725.4 L1278.4 712.8 L1278.5 696.5 L1278.6 678.2 L1278.7 664.1 L1278.9 651.6 L1279.0 641.9 L1279.1 636.0 L1279.2 634.6 L1279.3 637.8 L1279.5 645.2 L1279.6 656.1 L1279.7 669.4 L1279.8 685.1 L1279.9 702.7 L1280.1 717.8 L1280.2 728.8 L1280.3 734.6 L1280.4 734.5 L1280.5 728.7 L1280.7 717.7 L1280.8 702.7 L1280.9 685.2 L1281.0 669.5 L1281.1 656.4 L1281.3 645.4 L1281.4 637.7 L1281.5 634.0 L1281.6 634.7 L1281.7 639.7 L1281.9 648.5 L1282.0 660.2 L1282.1 673.7 L1282.2 690.4 L1282.3 707.3 L1282.5 721.3 L1282.6 731.1 L1282.7 735.8 L1282.8 734.9 L1282.9 728.6 L1283.1 717.4 L1283.2 702.5 L1283.3 685.3 L1283.4 669.8 L1283.5 656.8 L1283.7 645.7 L1283.8 637.7 L1283.9 633.4 L1284.0 633.4 L1284.1 637.5 L1284.3 645.4 L1284.4 656.3 L1284.5 669.2 L1284.6 684.3 L1284.7 701.5 L1284.9 716.6 L1285.0 728.1 L1285.1 735.1 L1285.2 736.9 L1285.3 733.4 L1285.5 725.0 L1285.6 712.3 L1285.7 696.6 L1285.8 679.2 L1285.9 665.4 L1286.1 653.0 L1286.2 642.7 L1286.3 635.6 L1286.4 632.3 L1286.5 632.9 L1286.7 637.5 L1286.8 645.6 L1286.9 656.6 L1287.0 669.4 L1287.1 684.4 L1287.3 701.3 L1287.4 716.2 L1287.5 727.9 L1287.6 735.3 L1287.7 737.8 L1287.9 735.3 L1288.0 728.0 L1288.1 716.4 L1288.2 701.6 L1288.3 684.9 L1288.5 669.9 L1288.6 657.1 L1288.7 646.0 L1288.8 637.6 L1288.9 632.5 L1289.1 631.2 L1289.2 633.7 L1289.3 639.9 L1289.4 649.2 L1289.5 660.8 L1289.7 673.9 L1289.8 689.9 L1289.9 706.1 L1290.0 720.0 L1290.1 730.6 L1290.3 737.0 L1290.4 738.7 L1290.5 735.6 L1290.6 727.9 L1290.7 716.3 L1290.9 701.6 L1291.0 685.1 L1291.1 670.3 L1291.2 657.6 L1291.3 646.4 L1291.5 637.8 L1291.6 632.2 L1291.7 630.3 L1291.8 632.0 L1291.9 637.2 L1292.1 645.6 L1292.2 656.5 L1292.3 669.0 L1292.4 683.4 L1292.5 699.9 L1292.7 714.7 L1292.8 726.8 L1292.9 735.2 L1293.0 739.3 L1293.1 738.9 L1293.3 733.9 L1293.4 724.8 L1293.5 712.2 L1293.6 697.1 L1293.7 680.5 L1293.9 666.9 L1294.0 654.6 L1294.1 644.1 L1294.2 636.0 L1294.3 630.9 L1294.5 629.3 L1294.6 631.3 L1294.7 636.6 L1294.8 644.9 L1294.9 655.5 L1295.1 667.8 L1295.2 681.6 L1295.3 698.0 L1295.4 712.9 L1295.5 725.4 L1295.7 734.5 L1295.8 739.6 L1295.9 740.5 L1296.0 736.9 L1296.1 729.3 L1296.3 718.0 L1296.4 704.0 L1296.5 688.2 L1296.6 673.1 L1296.7 660.4 L1296.9 649.0 L1297.0 639.5 L1297.1 632.7 L1297.2 629.0 L1297.3 628.6 L1297.5 631.6 L1297.6 637.7 L1297.7 646.6 L1297.8 657.5 L1297.9 669.9 L1298.1 684.1 L1298.2 700.1 L1298.3 714.6 L1298.4 726.6 L1298.5 735.5 L1298.7 740.6 L1298.8 741.5 L1298.9 738.3 L1299.0 731.1 L1299.1 720.5 L1299.3 707.1 L1299.4 691.8 L1299.5 676.1 L1299.6 663.5 L1299.7 651.7 L1299.9 641.7 L1300.0 634.0 L1300.1 629.1 L1300.2 627.4 L1300.3 628.9 L1300.5 633.5 L1300.6 640.9 L1300.7 650.8 L1300.8 662.3 L1300.9 674.8 L1301.1 690.1 L1301.2 705.4 L1301.3 719.0 L1301.4 730.1 L1301.5 738.0 L1301.7 742.1 L1301.8 742.3 L1301.9 738.5 L1302.0 731.0 L1302.1 720.2 L1302.3 706.9 L1302.4 691.8 L1302.5 676.3 L1302.6 663.8 L1302.7 652.1 L1302.9 642.0 L1303.0 634.1 L1303.1 628.8 L1303.2 626.4 L1303.3 627.2 L1303.5 631.0 L1303.6 637.6 L1303.7 646.6 L1303.8 657.5 L1303.9 669.6 L1304.1 683.3 L1304.2 698.9 L1304.3 713.2 L1304.4 725.5 L1304.5 735.0 L1304.7 741.2 L1304.8 743.7 L1304.9 742.4 L1305.0 737.4 L1305.1 729.0 L1305.3 717.7 L1305.4 704.0 L1305.5 688.9 L1305.6 674.2 L1305.7 661.9 L1305.9 650.5 L1306.0 640.6 L1306.1 632.9 L1306.2 627.7 L1306.3 625.4 L1306.5 626.0 L1306.6 629.6 L1306.7 635.9 L1306.8 644.5 L1306.9 655.0 L1307.1 666.8 L1307.2 679.5 L1307.3 694.9 L1307.4 709.5 L1307.5 722.3 L1307.7 732.7 L1307.8 740.1 L1307.9 744.2 L1308.0 744.6 L1308.1 741.4 L1308.3 734.8 L1308.4 725.1 L1308.5 712.9 L1308.6 698.8 L1308.7 683.6 L1308.9 670.1 L1309.0 658.1 L1309.1 647.2 L1309.2 637.9 L1309.3 630.8 L1309.5 626.1 L1309.6 624.2 L1309.7 625.2 L1309.8 628.9 L1309.9 635.2 L1310.1 643.8 L1310.2 654.2 L1310.3 665.8 L1310.4 678.0 L1310.5 693.3 L1310.7 707.8 L1310.8 720.8 L1310.9 731.6 L1311.0 739.6 L1311.1 744.5 L1311.3 746.0 L1311.4 744.0 L1311.5 738.7 L1311.6 730.2 L1311.7 719.2 L1311.9 706.0 L1312.0 691.5 L1312.1 676.6 L1312.2 664.4 L1312.3 653.0 L1312.5 642.7 L1312.6 634.3 L1312.7 628.0 L1312.8 624.2 L1312.9 623.1 L1313.1 624.7 L1313.2 628.9 L1313.3 635.6 L1313.4 644.3 L1313.5 654.7 L1313.7 666.3 L1313.8 678.5 L1313.9 693.6 L1314.0 707.9 L1314.1 720.8 L1314.3 731.6 L1314.4 739.8 L1314.5 745.1 L1314.6 747.2 L1314.7 745.9 L1314.9 741.4 L1315.0 733.9 L1315.1 723.7 L1315.2 711.3 L1315.3 697.4 L1315.5 682.6 L1315.6 669.6 L1315.7 657.8 L1315.8 647.0 L1315.9 637.7 L1316.1 630.3 L1316.2 625.1 L1316.3 622.3 L1316.4 622.2 L1316.5 624.6 L1316.7 629.5 L1316.8 636.7 L1316.9 645.8 L1317.0 656.3 L1317.1 667.9 L1317.3 680.4 L1317.4 695.2 L1317.5 709.2 L1317.6 721.8 L1317.7 732.5 L1317.9 740.7 L1318.0 746.0 L1318.1 748.3 L1318.2 747.4 L1318.3 743.5 L1318.5 736.5 L1318.6 727.0 L1318.7 715.3 L1318.8 701.9 L1318.9 687.5 L1319.1 673.7 L1319.2 661.9 L1319.3 650.8 L1319.4 640.9 L1319.5 632.6 L1319.7 626.3 L1319.8 622.3 L1319.9 620.7 L1320.0 621.6 L1320.1 625.0 L1320.3 630.7 L1320.4 638.4 L1320.5 647.9 L1320.6 658.6 L1320.7 670.2 L1320.9 683.1 L1321.0 697.7 L1321.1 711.4 L1321.2 723.6 L1321.3 734.0 L1321.5 741.9 L1321.6 747.2 L1321.7 749.5 L1321.8 748.8 L1321.9 745.2 L1322.1 738.7 L1322.2 729.7 L1322.3 718.5 L1322.4 705.6 L1322.5 691.6 L1322.7 677.2 L1322.8 665.4 L1322.9 654.1 L1323.0 643.8 L1323.1 634.9 L1323.3 627.8 L1323.4 622.8 L1323.5 620.0 L1323.6 619.6 L1323.7 621.6 L1323.9 625.9 L1324.0 632.3 L1324.1 640.6 L1324.2 650.4 L1324.3 661.3 L1324.5 673.0 L1324.6 686.3 L1324.7 700.5 L1324.8 713.9 L1324.9 725.7 L1325.1 735.7 L1325.2 743.4 L1325.3 748.5 L1325.4 750.8 L1325.5 750.2 L1325.7 746.8 L1325.8 740.6 L1325.9 732.0 L1326.0 721.3 L1326.1 708.8 L1326.3 695.2 L1326.4 680.9 L1326.5 668.6 L1326.6 657.3 L1326.7 646.7 L1326.9 637.3 L1327.0 629.5 L1327.1 623.6 L1327.2 619.8 L1327.3 618.2 L1327.5 618.9 L1327.6 621.9 L1327.7 627.1 L1327.8 634.1 L1327.9 642.9 L1328.1 653.0 L1328.2 664.1 L1328.3 675.7 L1328.4 689.4 L1328.5 703.3 L1328.7 716.3 L1328.8 727.8 L1328.9 737.5 L1329.0 744.9 L1329.1 749.8 L1329.3 752.1 L1329.4 751.6 L1329.5 748.4 L1329.6 742.6 L1329.7 734.4 L1329.9 724.1 L1330.0 712.1 L1330.1 698.9 L1330.2 684.9 L1330.3 672.0 L1330.5 660.6 L1330.6 649.8 L1330.7 640.0 L1330.8 631.6 L1330.9 624.9 L1331.1 620.1 L1331.2 617.4 L1331.3 616.9 L1331.4 618.6 L1331.5 622.5 L1331.7 628.3 L1331.8 635.9 L1331.9 645.0 L1332.0 655.3 L1332.1 666.5 L1332.3 678.0 L1332.4 692.1 L1332.5 705.7 L1332.6 718.3 L1332.7 729.5 L1332.9 738.9 L1333.0 746.2 L1333.1 751.1 L1333.2 753.4 L1333.3 753.1 L1333.5 750.2 L1333.6 744.8 L1333.7 737.1 L1333.8 727.3 L1333.9 715.8 L1334.1 703.1 L1334.2 689.4 L1334.3 675.9 L1334.4 664.4 L1334.5 653.4 L1334.7 643.3 L1334.8 634.3 L1334.9 626.9 L1335.0 621.1 L1335.1 617.3 L1335.3 615.6 L1335.4 616.0 L1335.5 618.4 L1335.6 622.9 L1335.7 629.2 L1335.9 637.2 L1336.0 646.6 L1336.1 657.0 L1336.2 668.1 L1336.3 679.9 L1336.5 693.7 L1336.6 707.1 L1336.7 719.5 L1336.8 730.5 L1336.9 739.8 L1337.1 747.1 L1337.2 752.1 L1337.3 754.7 L1337.4 754.8 L1337.5 752.3 L1337.7 747.5 L1337.8 740.3 L1337.9 731.2 L1338.0 720.3 L1338.1 708.1 L1338.3 694.9 L1338.4 681.1 L1338.5 669.2 L1338.6 658.0 L1338.7 647.5 L1338.9 638.0 L1339.0 629.8 L1339.1 623.1 L1339.2 618.1 L1339.3 615.1 L1339.5 614.1 L1339.6 615.1 L1339.7 618.1 L1339.8 622.9 L1339.9 629.6 L1340.1 637.7 L1340.2 647.2 L1340.3 657.6 L1340.4 668.6 L1340.5 680.4 L1340.7 694.1 L1340.8 707.3 L1340.9 719.6 L1341.0 730.6 L1341.1 740.0 L1341.3 747.4 L1341.4 752.8 L1341.5 755.8 L1341.6 756.5 L1341.7 754.7 L1341.9 750.6 L1342.0 744.3 L1342.1 735.9 L1342.2 725.8 L1342.3 714.3 L1342.5 701.6 L1342.6 688.2 L1342.7 675.1 L1342.8 663.9 L1342.9 653.1 L1343.1 643.1 L1343.2 634.1 L1343.3 626.4 L1343.4 620.2 L1343.5 615.8 L1343.7 613.3 L1343.8 612.6 L1343.9 614.0 L1344.0 617.2 L1344.1 622.2 L1344.3 628.9 L1344.4 637.1 L1344.5 646.4 L1344.6 656.7 L1344.7 667.6 L1344.9 679.0 L1345.0 692.6 L1345.1 705.7 L1345.2 718.0 L1345.3 729.2 L1345.5 738.9 L1345.6 746.8 L1345.7 752.7 L1345.8 756.5 L1345.9 758.0 L1346.1 757.2 L1346.2 754.1 L1346.3 748.9 L1346.4 741.6 L1346.5 732.5 L1346.7 721.8 L1346.8 709.9 L1346.9 697.1 L1347.0 683.7 L1347.1 671.5 L1347.3 660.5 L1347.4 650.0 L1347.5 640.2 L1347.6 631.5 L1347.7 624.1 L1347.9 618.3 L1348.0 614.1 L1348.1 611.7 L1348.2 611.2 L1348.3 612.5 L1348.5 615.6 L1348.6 620.5 L1348.7 627.0 L1348.8 634.9 L1348.9 644.1 L1349.1 654.1 L1349.2 664.8 L1349.3 675.9 L1349.4 688.9 L1349.5 702.0 L1349.7 714.5 L1349.8 726.0 L1349.9 736.2 L1350.0 744.8 L1350.1 751.6 L1350.3 756.4 L1350.4 759.0 L1350.5 759.5 L1350.6 757.8 L1350.7 753.9 L1350.9 748.0 L1351.0 740.2 L1351.1 730.7 L1351.2 719.8 L1351.3 707.8 L1351.5 695.1 L1351.6 681.8 L1351.7 670.1 L1351.8 659.2 L1351.9 648.8 L1352.1 639.1 L1352.2 630.5 L1352.3 623.2 L1352.4 617.3 L1352.5 613.0 L1352.7 610.4 L1352.8 609.6 L1352.9 610.5 L1353.0 613.3 L1353.1 617.7 L1353.3 623.7 L1353.4 631.2 L1353.5 639.8 L1353.6 649.5 L1353.7 659.9 L1353.9 670.7 L1354.0 682.5 L1354.1 695.7 L1354.2 708.4 L1354.3 720.4 L1354.5 731.2 L1354.6 740.7 L1354.7 748.6 L1354.8 754.7 L1354.9 758.9 L1355.1 760.9 L1355.2 760.9 L1355.3 758.8 L1355.4 754.7 L1355.5 748.6 L1355.7 740.7 L1355.8 731.3 L1355.9 720.5 L1356.0 708.6 L1356.1 696.0 L1356.3 682.9 L1356.4 671.1 L1356.5 660.3 L1356.6 649.9 L1356.7 640.1 L1356.9 631.4 L1357.0 623.8 L1357.1 617.5 L1357.2 612.7 L1357.3 609.5 L1357.5 608.1 L1357.6 608.3 L1357.7 610.3 L1357.8 613.9 L1357.9 619.1 L1358.1 625.7 L1358.2 633.7 L1358.3 642.7 L1358.4 652.5 L1358.5 663.0 L1358.7 673.9 L1358.8 686.2 L1358.9 699.1 L1359.0 711.5 L1359.1 723.2 L1359.3 733.7 L1359.4 742.9 L1359.5 750.5 L1359.6 756.5 L1359.7 760.5 L1359.9 762.6 L1360.0 762.7 L1360.1 760.7 L1360.2 756.8 L1360.3 751.0 L1360.5 743.5 L1360.6 734.5 L1360.7 724.1 L1360.8 712.6 L1360.9 700.3 L1361.1 687.5 L1361.2 675.1 L1361.3 664.2 L1361.4 653.7 L1361.5 643.7 L1361.7 634.5 L1361.8 626.4 L1361.9 619.4 L1362.0 613.8 L1362.1 609.7 L1362.3 607.2 L1362.4 606.3 L1362.5 607.1 L1362.6 609.5 L1362.7 613.5 L1362.9 618.9 L1363.0 625.7 L1363.1 633.8 L1363.2 642.8 L1363.3 652.7 L1363.5 663.1 L1363.6 673.9 L1363.7 686.0 L1363.8 698.8 L1363.9 711.2 L1364.1 722.7 L1364.2 733.3 L1364.3 742.6 L1364.4 750.5 L1364.5 756.8 L1364.7 761.2 L1364.8 763.9 L1364.9 764.6 L1365.0 763.4 L1365.1 760.2 L1365.3 755.3 L1365.4 748.6 L1365.5 740.3 L1365.6 730.7 L1365.7 719.9 L1365.9 708.2 L1366.0 695.8 L1366.1 683.1 L1366.2 671.4 L1366.3 660.7 L1366.5 650.4 L1366.6 640.7 L1366.7 631.8 L1366.8 623.9 L1366.9 617.2 L1367.1 611.8 L1367.2 607.9 L1367.3 605.4 L1367.4 604.6 L1367.5 605.3 L1367.7 607.6 L1367.8 611.5 L1367.9 616.8 L1368.0 623.3 L1368.1 631.1 L1368.3 639.9 L1368.4 649.5 L1368.5 659.7 L1368.6 670.3 L1368.7 681.7 L1368.9 694.4 L1369.0 706.8 L1369.1 718.6 L1369.2 729.5 L1369.3 739.4 L1369.5 747.9 L1369.6 755.0 L1369.7 760.5 L1369.8 764.2 L1369.9 766.1 L1370.1 766.2 L1370.2 764.4 L1370.3 760.8 L1370.4 755.5 L1370.5 748.6 L1370.7 740.2 L1370.8 730.5 L1370.9 719.7 L1371.0 708.1 L1371.1 695.8 L1371.3 683.2 L1371.4 671.6 L1371.5 661.0 L1371.6 650.7 L1371.7 641.0 L1371.9 632.1 L1372.0 624.1 L1372.1 617.1 L1372.2 611.5 L1372.3 607.2 L1372.5 604.3 L1372.6 602.9 L1372.7 603.1 L1372.8 604.8 L1372.9 608.0 L1373.1 612.6 L1373.2 618.5 L1373.3 625.6 L1373.4 633.8 L1373.5 642.9 L1373.7 652.7 L1373.8 663.0 L1373.9 673.6 L1374.0 685.4 L1374.1 697.9 L1374.3 710.1 L1374.4 721.6 L1374.5 732.2 L1374.6 741.8 L1374.7 750.1 L1374.9 757.0 L1375.0 762.3 L1375.1 766.0 L1375.2 767.9 L1375.3 768.1 L1375.5 766.4 L1375.6 763.1 L1375.7 758.1 L1375.8 751.5 L1375.9 743.5 L1376.1 734.2 L1376.2 723.8 L1376.3 712.5 L1376.4 700.6 L1376.5 688.2 L1376.7 676.0 L1376.8 665.4 L1376.9 655.0 L1377.0 645.1 L1377.1 635.8 L1377.3 627.3 L1377.4 619.8 L1377.5 613.4 L1377.6 608.2 L1377.7 604.4 L1377.9 602.0 L1378.0 601.0 L1378.1 601.5 L1378.2 603.5 L1378.3 606.9 L1378.5 611.6 L1378.6 617.6 L1378.7 624.8 L1378.8 632.9 L1378.9 641.9 L1379.1 651.6 L1379.2 661.8 L1379.3 672.3 L1379.4 683.8 L1379.5 696.3 L1379.7 708.4 L1379.8 719.9 L1379.9 730.6 L1380.0 740.4 L1380.1 749.0 L1380.3 756.3 L1380.4 762.2 L1380.5 766.5 L1380.6 769.1 L1380.7 770.1 L1380.9 769.4 L1381.0 767.0 L1381.1 762.9 L1381.2 757.3 L1381.3 750.2 L1381.5 741.9 L1381.6 732.3 L1381.7 721.8 L1381.8 710.4 L1381.9 698.5 L1382.1 686.2 L1382.2 674.4 L1382.3 663.8 L1382.4 653.6 L1382.5 643.8 L1382.7 634.6 L1382.8 626.1 L1382.9 618.7 L1383.0 612.2 L1383.1 607.0 L1383.3 603.1 L1383.4 600.4 L1383.5 599.2 L1383.6 599.4 L1383.7 601.0 L1383.9 604.0 L1384.0 608.3 L1384.1 613.8 L1384.2 620.5 L1384.3 628.2 L1384.5 636.8 L1384.6 646.1 L1384.7 656.0 L1384.8 666.3 L1384.9 676.8 L1385.1 689.0 L1385.2 701.2 L1385.3 712.9 L1385.4 724.1 L1385.5 734.5 L1385.7 743.9 L1385.8 752.2 L1385.9 759.1 L1386.0 764.7 L1386.1 768.7 L1386.3 771.2 L1386.4 772.0 L1386.5 771.3 L1386.6 768.9 L1386.7 764.9 L1386.9 759.5 L1387.0 752.6 L1387.1 744.5 L1387.2 735.2 L1387.3 725.0 L1387.5 713.9 L1387.6 702.2 L1387.7 690.1 L1387.8 677.9 L1387.9 667.4 L1388.1 657.1 L1388.2 647.1 L1388.3 637.7 L1388.4 629.0 L1388.5 621.1 L1388.7 614.1 L1388.8 608.2 L1388.9 603.5 L1389.0 600.1 L1389.1 598.0 L1389.3 597.2 L1389.4 597.8 L1389.5 599.7 L1389.6 602.9 L1389.7 607.4 L1389.9 613.1 L1390.0 619.8 L1390.1 627.6 L1390.2 636.2 L1390.3 645.4 L1390.5 655.3 L1390.6 665.5 L1390.7 675.9 L1390.8 687.7 L1390.9 699.8 L1391.1 711.6 L1391.2 722.8 L1391.3 733.3 L1391.4 742.8 L1391.5 751.3 L1391.7 758.6 L1391.8 764.6 L1391.9 769.2 L1392.0 772.3 L1392.1 773.9 L1392.3 773.9 L1392.4 772.3 L1392.5 769.2 L1392.6 764.7 L1392.7 758.7 L1392.9 751.5 L1393.0 743.0 L1393.1 733.5 L1393.2 723.1 L1393.3 712.0 L1393.5 700.4 L1393.6 688.3 L1393.7 676.4 L1393.8 666.0 L1393.9 655.8 L1394.1 646.0 L1394.2 636.6 L1394.3 628.0 L1394.4 620.1 L1394.5 613.1 L1394.7 607.2 L1394.8 602.3 L1394.9 598.7 L1395.0 596.3 L1395.1 595.3 L1395.3 595.5 L1395.4 597.0 L1395.5 599.8 L1395.6 603.8 L1395.7 609.0 L1395.9 615.3 L1396.0 622.5 L1396.1 630.7 L1396.2 639.5 L1396.3 649.0 L1396.5 658.9 L1396.6 669.2 L1396.7 679.8 L1396.8 691.9 L1396.9 703.8 L1397.1 715.3 L1397.2 726.2 L1397.3 736.4 L1397.4 745.7 L1397.5 753.9 L1397.7 761.0 L1397.8 766.9 L1397.9 771.3 L1398.0 774.4 L1398.1 775.9 L1398.3 776.0 L1398.4 774.6 L1398.5 771.7 L1398.6 767.4 L1398.7 761.7 L1398.9 754.8 L1399.0 746.7 L1399.1 737.5 L1399.2 727.5 L1399.3 716.7 L1399.5 705.3 L1399.6 693.6 L1399.7 681.5 L1399.8 670.7 L1399.9 660.5 L1400.1 650.5 L1400.2 640.9 L1400.3 631.9 L1400.4 623.6 L1400.5 616.1 L1400.7 609.5 L1400.8 603.9 L1400.9 599.4 L1401.0 596.1 L1401.1 594.0 L1401.3 593.1 L1401.4 593.5 L1401.5 595.2 L1401.6 598.1 L1401.7 602.1 L1401.9 607.3 L1402.0 613.5 L1402.1 620.6 L1402.2 628.6 L1402.3 637.4 L1402.5 646.7 L1402.6 656.5 L1402.7 666.6 L1402.8 676.9 L1402.9 688.7 L1403.1 700.5 L1403.2 712.1 L1403.3 723.1 L1403.4 733.5 L1403.5 743.1 L1403.7 751.8 L1403.8 759.4 L1403.9 765.8 L1404.0 770.9 L1404.1 774.8 L1404.3 777.2 L1404.4 778.3 L1404.5 777.9 L1404.6 776.0 L1404.7 772.8 L1404.9 768.2 L1405.0 762.4 L1405.1 755.3 L1405.2 747.1 L1405.3 738.0 L1405.5 728.0 L1405.6 717.3 L1405.7 706.0 L1405.8 694.4 L1405.9 682.5 L1406.1 671.6 L1406.2 661.4 L1406.3 651.4 L1406.4 641.9 L1406.5 632.8 L1406.7 624.3 L1406.8 616.6 L1406.9 609.8 L1407.0 603.9 L1407.1 599.0 L1407.3 595.3 L1407.4 592.7 L1407.5 591.3 L1407.6 591.0 L1407.7 592.0 L1407.9 594.2 L1408.0 597.5 L1408.1 602.0 L1408.2 607.5 L1408.3 614.0 L1408.5 621.4 L1408.6 629.5 L1408.7 638.3 L1408.8 647.7 L1408.9 657.5 L1409.1 667.5 L1409.2 677.7 L1409.3 689.6 L1409.4 701.3 L1409.5 712.7 L1409.7 723.7 L1409.8 734.0 L1409.9 743.6 L1410.0 752.2 L1410.1 759.9 L1410.3 766.5 L1410.4 771.9 L1410.5 776.0 L1410.6 778.8 L1410.7 780.3 L1410.9 780.4 L1411.0 779.1 L1411.1 776.4 L1411.2 772.5 L1411.3 767.3 L1411.5 760.8 L1411.6 753.3 L1411.7 744.8 L1411.8 735.4 L1411.9 725.2 L1412.1 714.4 L1412.2 703.1 L1412.3 691.5 L1412.4 679.7 L1412.5 669.3 L1412.7 659.2 L1412.8 649.3 L1412.9 639.9 L1413.0 630.9 L1413.1 622.6 L1413.3 614.9 L1413.4 608.2 L1413.5 602.3 L1413.6 597.4 L1413.7 593.6 L1413.9 590.8 L1414.0 589.2 L1414.1 588.8 L1414.2 589.5 L1414.3 591.4 L1414.5 594.4 L1414.6 598.5 L1414.7 603.6 L1414.8 609.7 L1414.9 616.6 L1415.1 624.4 L1415.2 632.8 L1415.3 641.9 L1415.4 651.4 L1415.5 661.3 L1415.7 671.3 L1415.8 682.0 L1415.9 693.8 L1416.0 705.3 L1416.1 716.5 L1416.3 727.2 L1416.4 737.3 L1416.5 746.6 L1416.6 755.1 L1416.7 762.5 L1416.9 769.0 L1417.0 774.2 L1417.1 778.3 L1417.2 781.1 L1417.3 782.5 L1417.5 782.7 L1417.6 781.6 L1417.7 779.1 L1417.8 775.4 L1417.9 770.5 L1418.1 764.4 L1418.2 757.2 L1418.3 749.0 L1418.4 739.9 L1418.5 730.1 L1418.7 719.6 L1418.8 708.6 L1418.9 697.2 L1419.0 685.6 L1419.1 674.5 L1419.3 664.4 L1419.4 654.4 L1419.5 644.8 L1419.6 635.6 L1419.7 626.9 L1419.9 618.8 L1420.0 611.4 L1420.1 604.9 L1420.2 599.3 L1420.3 594.6 L1420.5 591.0 L1420.6 588.4 L1420.7 586.9 L1420.8 586.5 L1420.9 587.3 L1421.1 589.1 L1421.2 592.0 L1421.3 596.0 L1421.4 601.0 L1421.5 606.9 L1421.7 613.7 L1421.8 621.3 L1421.9 629.5 L1422.0 638.4 L1422.1 647.7 L1422.3 657.4 L1422.4 667.4 L1422.5 677.4 L1422.6 689.0 L1422.7 700.5 L1422.9 711.8 L1423.0 722.6 L1423.1 733.0 L1423.2 742.6 L1423.3 751.6 L1423.5 759.6 L1423.6 766.7 L1423.7 772.7 L1423.8 777.6 L1423.9 781.3 L1424.1 783.8 L1424.2 785.0 L1424.3 785.0 L1424.4 783.7 L1424.5 781.2 L1424.7 777.4 L1424.8 772.5 L1424.9 766.5 L1425.0 759.4 L1425.1 751.4 L1425.3 742.5 L1425.4 732.9 L1425.5 722.6 L1425.6 711.8 L1425.7 700.6 L1425.9 689.1 L1426.0 677.6 L1426.1 667.5 L1426.2 657.6 L1426.3 647.9 L1426.5 638.5 L1426.6 629.6 L1426.7 621.3 L1426.8 613.6 L1426.9 606.7 L1427.1 600.6 L1427.2 595.3 L1427.3 591.0 L1427.4 587.8 L1427.5 585.5 L1427.7 584.3 L1427.8 584.2 L1427.9 585.2 L1428.0 587.2 L1428.1 590.3 L1428.3 594.4 L1428.4 599.4 L1428.5 605.3 L1428.6 612.1 L1428.7 619.6 L1428.9 627.7 L1429.0 636.5 L1429.1 645.7 L1429.2 655.3 L1429.3 665.1 L1429.5 675.1 L1429.6 686.3 L1429.7 697.7 L1429.8 709.0 L1429.9 719.9 L1430.1 730.3 L1430.2 740.2 L1430.3 749.3 L1430.4 757.7 L1430.5 765.2 L1430.7 771.7 L1430.8 777.2 L1430.9 781.5 L1431.0 784.7 L1431.1 786.8 L1431.3 787.6 L1431.4 787.2 L1431.5 785.6 L1431.6 782.8 L1431.7 778.9 L1431.9 773.8 L1432.0 767.7 L1432.1 760.6 L1432.2 752.5 L1432.3 743.7 L1432.5 734.1 L1432.6 724.0 L1432.7 713.3 L1432.8 702.2 L1432.9 690.9 L1433.1 679.4 L1433.2 669.2 L1433.3 659.3 L1433.4 649.6 L1433.5 640.2 L1433.7 631.2 L1433.8 622.7 L1433.9 614.9 L1434.0 607.7 L1434.1 601.2 L1434.3 595.6 L1434.4 590.9 L1434.5 587.1 L1434.6 584.3 L1434.7 582.5 L1434.9 581.7 L1435.0 582.0 L1435.1 583.3 L1435.2 585.6 L1435.3 589.0 L1435.5 593.2 L1435.6 598.4 L1435.7 604.4 L1435.8 611.2 L1435.9 618.8 L1436.1 626.9 L1436.2 635.6 L1436.3 644.8 L1436.4 654.3 L1436.5 664.1 L1436.7 674.0 L1436.8 684.9 L1436.9 696.3 L1437.0 707.5 L1437.1 718.3 L1437.3 728.8 L1437.4 738.8 L1437.5 748.1 L1437.6 756.6 L1437.7 764.4 L1437.9 771.2 L1438.0 777.1 L1438.1 781.9 L1438.2 785.7 L1438.3 788.3 L1438.5 789.8 L1438.6 790.1 L1438.7 789.3 L1438.8 787.3 L1438.9 784.1 L1439.1 779.9 L1439.2 774.6 L1439.3 768.3 L1439.4 761.1 L1439.5 753.0 L1439.7 744.1 L1439.8 734.6 L1439.9 724.5 L1440.0 713.9 L1440.1 702.9 L1440.3 691.7 L1440.4 680.3 L1440.5 670.1 L1440.6 660.2 L1440.7 650.5 L1440.9 641.1 L1441.0 632.1 L1441.1 623.5 L1441.2 615.5 L1441.3 608.2 L1441.5 601.5 L1441.6 595.6 L1441.7 590.5 L1441.8 586.4 L1441.9 583.1 L1442.1 580.8 L1442.2 579.5 L1442.3 579.2 L1442.4 579.9 L1442.5 581.6 L1442.7 584.2 L1442.8 587.8 L1442.9 592.3 L1443.0 597.7 L1443.1 603.9 L1443.3 610.8 L1443.4 618.4 L1443.5 626.6 L1443.6 635.3 L1443.7 644.4 L1443.9 653.9 L1444.0 663.6 L1444.1 673.4 L1444.2 684.1 L1444.3 695.4 L1444.5 706.5 L1444.6 717.4 L1444.7 727.8 L1444.8 737.8 L1444.9 747.2 L1445.1 755.9 L1445.2 763.9 L1445.3 771.0 L1445.4 777.1 L1445.5 782.4 L1445.7 786.6 L1445.8 789.7 L1445.9 791.7 L1446.0 792.7 L1446.1 792.5 L1446.3 791.2 L1446.4 788.8 L1446.5 785.3 L1446.6 780.8 L1446.7 775.2 L1446.9 768.8 L1447.0 761.4 L1447.1 753.3 L1447.2 744.4 L1447.3 734.8 L1447.5 724.8 L1447.6 714.2 L1447.7 703.3 L1447.8 692.2 L1447.9 680.9 L1448.1 670.7 L1448.2 660.9 L1448.3 651.2 L1448.4 641.8 L1448.5 632.8 L1448.7 624.2 L1448.8 616.1 L1448.9 608.5 L1449.0 601.7 L1449.1 595.6 L1449.3 590.2 L1449.4 585.7 L1449.5 582.1 L1449.6 579.3 L1449.7 577.5 L1449.9 576.7 L1450.0 576.8 L1450.1 577.9 L1450.2 579.9 L1450.3 582.9 L1450.5 586.7 L1450.6 591.4 L1450.7 597.0 L1450.8 603.3 L1450.9 610.3 L1451.1 617.9 L1451.2 626.1 L1451.3 634.8 L1451.4 643.9 L1451.5 653.3 L1451.7 663.0 L1451.8 672.8 L1451.9 683.3 L1452.0 694.5 L1452.1 705.5 L1452.3 716.3 L1452.4 726.8 L1452.5 736.8 L1452.6 746.2 L1452.7 755.1 L1452.9 763.2 L1453.0 770.6 L1453.1 777.0 L1453.2 782.6 L1453.3 787.2 L1453.5 790.9 L1453.6 793.4 L1453.7 795.0 L1453.8 795.4 L1453.9 794.8 L1454.1 793.1 L1454.2 790.4 L1454.3 786.6 L1454.4 781.8 L1454.5 776.1 L1454.7 769.5 L1454.8 762.1 L1454.9 753.9 L1455.0 745.0 L1455.1 735.5 L1455.3 725.5 L1455.4 715.0 L1455.5 704.2 L1455.6 693.2 L1455.7 682.1 L1455.9 671.7 L1456.0 662.0 L1456.1 652.3 L1456.2 642.9 L1456.3 633.9 L1456.5 625.2 L1456.6 616.9 L1456.7 609.3 L1456.8 602.2 L1456.9 595.8 L1457.1 590.2 L1457.2 585.3 L1457.3 581.3 L1457.4 578.1 L1457.5 575.8 L1457.7 574.4 L1457.8 574.0 L1457.9 574.4 L1458.0 575.8 L1458.1 578.1 L1458.3 581.3 L1458.4 585.3 L1458.5 590.2 L1458.6 595.8 L1458.7 602.1 L1458.9 609.2 L1459.0 616.8 L1459.1 625.0 L1459.2 633.6 L1459.3 642.7 L1459.5 652.0 L1459.6 661.6 L1459.7 671.3 L1459.8 681.6 L1459.9 692.7 L1460.1 703.7 L1460.2 714.5 L1460.3 724.9 L1460.4 735.0 L1460.5 744.6 L1460.7 753.6 L1460.8 761.9 L1460.9 769.5 L1461.0 776.4 L1461.1 782.3 L1461.3 787.4 L1461.4 791.6 L1461.5 794.7 L1461.6 796.9 L1461.7 798.0 L1461.9 798.1 L1462.0 797.2 L1462.1 795.2 L1462.2 792.3 L1462.3 788.3 L1462.5 783.5 L1462.6 777.7 L1462.7 771.0 L1462.8 763.6 L1462.9 755.5 L1463.1 746.6 L1463.2 737.2 L1463.3 727.3 L1463.4 717.0 L1463.5 706.3 L1463.7 695.4 L1463.8 684.4 L1463.9 673.8 L1464.0 664.1 L1464.1 654.5 L1464.3 645.1 L1464.4 635.9 L1464.5 627.1 L1464.6 618.8 L1464.7 610.9 L1464.9 603.6 L1465.0 596.9 L1465.1 590.9 L1465.2 585.6 L1465.3 581.1 L1465.5 577.4 L1465.6 574.6 L1465.7 572.6 L1465.8 571.5 L1465.9 571.2 L1466.1 571.9 L1466.2 573.5 L1466.3 575.9 L1466.4 579.1 L1466.5 583.2 L1466.7 588.1 L1466.8 593.7 L1466.9 600.1 L1467.0 607.0 L1467.1 614.6 L1467.3 622.7 L1467.4 631.2 L1467.5 640.2 L1467.6 649.4 L1467.7 658.9 L1467.9 668.6 L1468.0 678.3 L1468.1 689.4 L1468.2 700.3 L1468.3 711.1 L1468.5 721.6 L1468.6 731.8 L1468.7 741.5 L1468.8 750.7 L1468.9 759.4 L1469.1 767.3 L1469.2 774.6 L1469.3 781.0 L1469.4 786.7" fill="none" stroke="#0a64c8" stroke-width="1.75" stroke-linejoin="round"/><line x1="1196.90" y1="661.20" x2="1470.60" y2="568.40" stroke="#960000" stroke-width="2.6" stroke-dasharray="13 5"/><rect x="1159.30" y="548.70" width="337.40" height="260.10" fill="none" stroke="#000" stroke-width="3"/><line x1="1159.30" y1="558.60" x2="1165.30" y2="558.60" stroke="#000" stroke-width="2" /><line x1="1159.30" y1="618.35" x2="1165.30" y2="618.35" stroke="#000" stroke-width="2" /><line x1="1159.30" y1="678.10" x2="1165.30" y2="678.10" stroke="#000" stroke-width="2" /><line x1="1159.30" y1="737.85" x2="1165.30" y2="737.85" stroke="#000" stroke-width="2" /><line x1="1159.30" y1="797.60" x2="1165.30" y2="797.60" stroke="#000" stroke-width="2" /><line x1="1159.30" y1="588.48" x2="1163.60" y2="588.48" stroke="#000" stroke-width="1.8" /><line x1="1159.30" y1="648.23" x2="1163.60" y2="648.23" stroke="#000" stroke-width="1.8" /><line x1="1159.30" y1="707.98" x2="1163.60" y2="707.98" stroke="#000" stroke-width="1.8" /><line x1="1159.30" y1="767.73" x2="1163.60" y2="767.73" stroke="#000" stroke-width="1.8" /><line x1="1175.40" y1="808.80" x2="1175.40" y2="802.80" stroke="#000" stroke-width="2" /><line x1="1253.82" y1="808.80" x2="1253.82" y2="802.80" stroke="#000" stroke-width="2" /><line x1="1332.23" y1="808.80" x2="1332.23" y2="802.80" stroke="#000" stroke-width="2" /><line x1="1410.64" y1="808.80" x2="1410.64" y2="802.80" stroke="#000" stroke-width="2" /><line x1="1214.61" y1="808.80" x2="1214.61" y2="804.50" stroke="#000" stroke-width="1.8" /><line x1="1293.02" y1="808.80" x2="1293.02" y2="804.50" stroke="#000" stroke-width="1.8" /><line x1="1371.44" y1="808.80" x2="1371.44" y2="804.50" stroke="#000" stroke-width="1.8" /><line x1="1449.85" y1="808.80" x2="1449.85" y2="804.50" stroke="#000" stroke-width="1.8" /><text x="1154.50" y="568.60" font-size="32" fill="#000" text-anchor="end" >0.2</text><text x="1151.50" y="628.35" font-size="32" fill="#000" text-anchor="end" >0.1</text><text x="1137.00" y="688.10" font-size="32" fill="#000" text-anchor="end" >0</text><text x="1151.50" y="747.85" font-size="32" fill="#000" text-anchor="end" >-0.1</text><text x="1154.50" y="807.60" font-size="32" fill="#000" text-anchor="end" >-0.2</text><text x="1175.40" y="841.80" font-size="32" fill="#000" text-anchor="middle" >0</text><text x="1253.82" y="841.80" font-size="32" fill="#000" text-anchor="middle" >50</text><text x="1332.23" y="841.80" font-size="32" fill="#000" text-anchor="middle" >100</text><text x="1410.64" y="841.80" font-size="32" fill="#000" text-anchor="middle" >150</text><text x="1493.06" y="841.80" font-size="32" fill="#000" text-anchor="middle" >200</text><text x="1328.50" y="872.30" font-size="36" fill="#000" text-anchor="middle" ><tspan font-style="italic">B</tspan><tspan font-size="24" dy="4.5">act</tspan><tspan dy="-4.5"> (mT)</tspan></text><text transform="translate(1094.50 676.50) rotate(-90)" font-size="36" fill="#000" text-anchor="middle" ><tspan font-style="italic">V</tspan><tspan font-size="22" dy="3.5">EMG</tspan><tspan dy="-3.5"> (V)</tspan></text><text x="1181.50" y="576.80" font-size="28.5" fill="#000" text-anchor="start" ><tspan font-style="italic">y</tspan> = 0.0009<tspan font-style="italic">x</tspan>+0.0109</text><text x="1187.50" y="614.60" font-size="28.5" fill="#000" text-anchor="start" >R² = 0.99</text><text x="1178.50" y="775.70" font-size="32" fill="#000" text-anchor="start" ><tspan font-style="italic">f</tspan><tspan font-size="21" dy="4">act</tspan><tspan dy="-4"> = 28 Hz</tspan></text></g>
<g id="pg"><text x="1514.50" y="527.00" font-size="49" fill="#000" text-anchor="start" font-weight="bold" >g</text><path d="M1657.7 758.1 L1651.8 563.7M1685.1 750.0 L1682.6 560.3M1710.7 742.4 L1710.3 557.3M1734.7 735.3 L1735.3 554.5M1629.3 719.0 L1758.3 686.8M1758.3 686.8 L1903.7 711.5M1626.7 670.4 L1758.5 643.7M1758.5 643.7 L1906.6 664.7M1624.1 619.7 L1758.7 598.8M1758.7 598.8 L1909.5 615.9M1877.7 751.9 L1884.8 562.8M1846.0 745.7 L1849.0 559.7M1814.8 739.5 L1815.5 556.8M1784.3 733.5 L1784.3 554.1M1621.3 567.0 L1758.9 552.0M1758.9 552.0 L1912.6 565.1M1901.0 756.5 L1912.6 565.1M1758.2 728.3 L1758.9 552.0M1631.7 765.8 L1758.2 728.3M1758.2 728.3 L1901.0 756.5" fill="none" stroke="#9a9a9a" stroke-width="1.0"/><path d="M1783.1 824.1 L1774.2 820.3 L1765.7 816.6 L1757.6 813.1 L1749.9 809.7 L1742.5 806.5 L1735.4 803.5 L1728.5 800.5 L1722.0 797.7 L1715.7 795.0 L1709.7 792.3 L1703.9 789.8 L1698.3 787.4 L1692.9 785.1 L1687.7 782.8 L1682.7 780.6 L1677.8 778.6 L1673.1 776.5 L1668.6 774.6 L1664.3 772.7 L1660.0 770.8 L1655.9 769.1 L1652.0 767.4 L1648.1 765.7 L1644.4 764.1 L1650.8 762.1 L1656.9 760.2 L1663.0 758.2 L1668.8 756.0 L1674.5 753.6 L1680.1 750.9 L1685.5 747.9 L1690.7 744.4 L1695.9 740.4 L1700.9 735.8 L1705.8 730.6 L1710.6 724.6 L1715.3 717.8 L1719.9 710.0 L1724.4 701.3 L1728.8 691.5 L1733.2 680.5 L1737.4 668.2 L1741.5 654.5 L1745.6 639.3 L1749.6 622.5 L1753.5 603.8 L1757.3 583.1 L1761.0 560.4 L1765.0 574.4 L1769.0 587.9 L1773.3 600.9 L1777.6 613.3 L1782.1 625.2 L1786.8 636.5 L1791.5 647.3 L1796.4 657.7 L1801.5 667.5 L1806.6 676.8 L1811.9 685.7 L1817.4 694.0 L1823.0 701.9 L1828.7 709.3 L1834.6 716.2 L1840.6 722.6 L1846.8 728.5 L1853.1 733.9 L1859.6 738.8 L1866.3 743.2 L1873.2 747.0 L1880.3 750.3 L1887.7 752.9 L1895.3 754.9 L1892.1 756.8 L1888.9 758.8 L1885.7 760.8 L1882.3 762.9 L1878.8 765.1 L1875.1 767.3 L1871.4 769.6 L1867.6 772.0 L1863.6 774.4 L1859.5 777.0 L1855.2 779.6 L1850.8 782.3 L1846.3 785.1 L1841.6 788.0 L1836.7 791.0 L1831.6 794.2 L1826.4 797.4 L1820.9 800.8 L1815.2 804.3 L1809.3 807.9 L1803.2 811.7 L1796.8 815.7 L1790.1 819.8 Z" fill="url(#gSurf)"/><path d="M1760.3 814.2 L1767.3 810.4 L1774.1 806.7 L1780.5 803.1 L1786.8 799.7 L1792.8 796.4 L1798.6 793.2 L1804.1 790.1 L1809.5 787.1 L1814.7 784.2 L1819.7 781.4 L1824.6 778.7 L1829.3 776.0 L1833.8 773.4 L1838.2 770.9 L1842.5 768.4 L1846.6 766.0 L1850.6 763.7 L1854.5 761.4 L1858.3 759.1 L1861.9 756.8 L1865.5 754.6 L1868.9 752.4 L1872.3 750.3 L1875.6 748.2M1740.1 805.5 L1747.1 802.0 L1753.8 798.7 L1760.3 795.4 L1766.6 792.3 L1772.7 789.3 L1778.5 786.3 L1784.1 783.4 L1789.6 780.6 L1794.9 777.8 L1800.0 775.1 L1804.9 772.4 L1809.7 769.7 L1814.3 767.1 L1818.9 764.5 L1823.2 761.8 L1827.5 759.2 L1831.6 756.6 L1835.6 753.9 L1839.5 751.2 L1843.3 748.5 L1847.0 745.8 L1850.5 743.0 L1854.0 740.1 L1857.4 737.2M1722.0 797.7 L1729.0 794.5 L1735.7 791.5 L1742.2 788.5 L1748.4 785.6 L1754.5 782.8 L1760.4 780.0 L1766.0 777.3 L1771.5 774.5 L1776.8 771.8 L1782.0 769.0 L1787.0 766.3 L1791.8 763.5 L1796.5 760.6 L1801.1 757.7 L1805.6 754.7 L1809.9 751.6 L1814.1 748.5 L1818.2 745.2 L1822.2 741.8 L1826.0 738.2 L1829.8 734.6 L1833.5 730.7 L1837.1 726.7 L1840.6 722.6M1705.8 790.7 L1712.7 787.8 L1719.3 785.0 L1725.8 782.3 L1732.0 779.6 L1738.1 776.9 L1743.9 774.2 L1749.6 771.5 L1755.0 768.8 L1760.4 766.0 L1765.5 763.2 L1770.6 760.2 L1775.4 757.1 L1780.2 753.9 L1784.8 750.6 L1789.3 747.0 L1793.7 743.3 L1797.9 739.4 L1802.1 735.2 L1806.1 730.8 L1810.1 726.1 L1813.9 721.2 L1817.6 715.9 L1821.3 710.3 L1824.8 704.4M1691.1 784.3 L1697.9 781.7 L1704.5 779.1 L1710.9 776.6 L1717.1 774.0 L1723.1 771.5 L1728.9 768.9 L1734.5 766.2 L1740.0 763.5 L1745.3 760.6 L1750.5 757.5 L1755.5 754.3 L1760.4 750.8 L1765.1 747.1 L1769.8 743.1 L1774.3 738.9 L1778.7 734.3 L1783.0 729.4 L1787.1 724.1 L1791.2 718.4 L1795.2 712.3 L1799.1 705.7 L1802.9 698.6 L1806.5 691.0 L1810.1 682.8M1677.8 778.6 L1684.5 776.1 L1691.0 773.7 L1697.3 771.4 L1703.4 769.0 L1709.4 766.5 L1715.1 763.9 L1720.7 761.2 L1726.1 758.4 L1731.4 755.3 L1736.6 751.9 L1741.6 748.3 L1746.5 744.4 L1751.2 740.1 L1755.8 735.4 L1760.4 730.3 L1764.8 724.6 L1769.1 718.5 L1773.3 711.9 L1777.4 704.6 L1781.4 696.7 L1785.3 688.1 L1789.1 678.7 L1792.8 668.6 L1796.4 657.7M1665.7 773.3 L1672.3 771.1 L1678.7 768.8 L1684.9 766.6 L1690.9 764.3 L1696.8 761.9 L1702.5 759.3 L1708.0 756.5 L1713.4 753.5 L1718.7 750.2 L1723.8 746.5 L1728.7 742.4 L1733.6 737.9 L1738.3 732.9 L1742.9 727.3 L1747.5 721.1 L1751.9 714.3 L1756.2 706.8 L1760.4 698.5 L1764.5 689.3 L1768.5 679.3 L1772.4 668.4 L1776.3 656.4 L1780.0 643.3 L1783.6 629.0M1654.6 768.5 L1661.1 766.4 L1667.4 764.3 L1673.5 762.2 L1679.4 760.0 L1685.2 757.6 L1690.8 755.0 L1696.3 752.1 L1701.6 748.9 L1706.8 745.2 L1711.9 741.1 L1716.8 736.5 L1721.7 731.3 L1726.4 725.4 L1731.0 718.8 L1735.5 711.5 L1739.9 703.2 L1744.2 694.1 L1748.4 683.9 L1752.6 672.7 L1756.6 660.2 L1760.6 646.5 L1764.4 631.4 L1768.2 614.8 L1771.8 596.6M1799.4 814.1 L1790.5 810.7 L1782.1 807.4 L1774.0 804.2 L1766.3 801.2 L1758.9 798.3 L1751.7 795.5 L1744.9 792.8 L1738.3 790.3 L1732.0 787.8 L1725.9 785.4 L1720.0 783.1 L1714.3 780.9 L1708.9 778.8 L1703.6 776.7 L1698.5 774.7 L1693.6 772.8 L1688.8 770.9 L1684.2 769.1 L1679.7 767.4 L1675.4 765.7 L1671.2 764.0 L1667.1 762.4 L1663.2 760.9 L1659.4 759.4M1814.1 805.0 L1805.3 801.9 L1797.0 799.0 L1789.0 796.1 L1781.3 793.4 L1773.9 790.7 L1766.8 788.2 L1759.9 785.7 L1753.3 783.4 L1747.0 781.1 L1740.8 778.9 L1734.9 776.7 L1729.2 774.7 L1723.7 772.7 L1718.3 770.7 L1713.2 768.8 L1708.2 767.0 L1703.4 765.2 L1698.7 763.5 L1694.1 761.8 L1689.7 760.2 L1685.5 758.6 L1681.3 757.1 L1677.3 755.6 L1673.4 754.1M1827.4 796.8 L1818.8 794.0 L1810.6 791.3 L1802.6 788.6 L1795.0 786.1 L1787.6 783.7 L1780.6 781.3 L1773.7 779.0 L1767.1 776.7 L1760.8 774.5 L1754.6 772.4 L1748.7 770.3 L1743.0 768.3 L1737.4 766.3 L1732.1 764.4 L1726.9 762.5 L1721.8 760.7 L1716.9 758.9 L1712.2 757.1 L1707.6 755.4 L1703.1 753.7 L1698.8 752.0 L1694.6 750.4 L1690.5 748.8 L1686.5 747.2M1839.6 789.2 L1831.2 786.7 L1823.0 784.2 L1815.2 781.7 L1807.6 779.3 L1800.3 777.0 L1793.3 774.6 L1786.5 772.4 L1779.9 770.1 L1773.6 767.9 L1767.5 765.8 L1761.5 763.6 L1755.8 761.5 L1750.2 759.4 L1744.8 757.4 L1739.6 755.3 L1734.5 753.3 L1729.6 751.3 L1724.8 749.3 L1720.2 747.4 L1715.7 745.4 L1711.3 743.5 L1707.1 741.5 L1702.9 739.6 L1698.9 737.7M1850.8 782.3 L1842.5 780.0 L1834.5 777.6 L1826.7 775.2 L1819.3 772.9 L1812.1 770.5 L1805.1 768.2 L1798.3 765.8 L1791.8 763.5 L1785.5 761.1 L1779.4 758.7 L1773.5 756.4 L1767.7 754.0 L1762.2 751.6 L1756.8 749.2 L1751.5 746.8 L1746.5 744.4 L1741.5 742.0 L1736.7 739.5 L1732.1 737.1 L1727.5 734.6 L1723.1 732.1 L1718.8 729.6 L1714.7 727.1 L1710.6 724.6M1861.1 775.9 L1853.0 773.7 L1845.1 771.5 L1837.4 769.1 L1830.1 766.7 L1822.9 764.3 L1816.0 761.7 L1809.4 759.1 L1802.9 756.5 L1796.6 753.8 L1790.6 751.1 L1784.7 748.2 L1778.9 745.4 L1773.4 742.5 L1768.0 739.5 L1762.8 736.5 L1757.7 733.4 L1752.7 730.2 L1747.9 727.1 L1743.2 723.8 L1738.7 720.5 L1734.3 717.1 L1730.0 713.7 L1725.8 710.2 L1721.7 706.7M1870.7 770.1 L1862.6 768.0 L1854.8 765.7 L1847.3 763.3 L1840.1 760.7 L1833.1 758.0 L1826.3 755.2 L1819.7 752.2 L1813.3 749.1 L1807.0 745.9 L1801.0 742.5 L1795.1 739.0 L1789.5 735.4 L1783.9 731.7 L1778.5 727.8 L1773.3 723.9 L1768.2 719.8 L1763.3 715.6 L1758.5 711.3 L1753.8 706.8 L1749.2 702.3 L1744.8 697.6 L1740.5 692.8 L1736.3 687.9 L1732.3 682.8M1879.5 764.6 L1871.6 762.6 L1863.9 760.3 L1856.6 757.7 L1849.4 754.9 L1842.5 751.8 L1835.8 748.4 L1829.3 744.9 L1823.0 741.1 L1816.8 737.1 L1810.8 732.8 L1805.0 728.4 L1799.3 723.7 L1793.8 718.9 L1788.5 713.8 L1783.2 708.5 L1778.2 703.1 L1773.2 697.4 L1768.4 691.5 L1763.8 685.4 L1759.2 679.0 L1754.8 672.5 L1750.5 665.8 L1746.4 658.8 L1742.4 651.6M1887.6 759.6 L1879.9 757.6 L1872.4 755.2 L1865.2 752.3 L1858.2 749.0 L1851.4 745.4 L1844.7 741.4 L1838.3 737.0 L1832.0 732.3 L1826.0 727.2 L1820.0 721.8 L1814.2 716.1 L1808.6 710.1 L1803.2 703.7 L1797.8 697.0 L1792.6 689.9 L1787.6 682.6 L1782.7 674.9 L1777.9 666.8 L1773.2 658.5 L1768.7 649.8 L1764.3 640.7 L1760.1 631.3 L1755.9 621.6 L1751.9 611.5" fill="none" stroke="#ffffff" stroke-width="0.7" opacity="0.5"/><path d="M1621.3 567.0 L1631.7 765.8 L1783.1 830.5 L1901.0 756.5" fill="none" stroke="#000" stroke-width="2.6" stroke-linejoin="miter"/><rect x="1906.10" y="585.90" width="15.30" height="140.10" fill="url(#gBar)" /><text x="1926.50" y="593.00" font-size="28" fill="#000" text-anchor="start" >2660</text><text x="1945.50" y="726.60" font-size="28" fill="#000" text-anchor="middle" >0</text><text transform="matrix(0.8174 -0.1441 0.0753 1.0774 1614.36 577.79)" font-size="25" text-anchor="end" >2800</text><text transform="matrix(0.8174 -0.1441 0.0753 1.0774 1616.99 633.65)" font-size="25" text-anchor="end" >2100</text><text transform="matrix(0.8174 -0.1441 0.0753 1.0774 1620.28 685.25)" font-size="25" text-anchor="end" >1400</text><text transform="matrix(0.8174 -0.1441 0.0753 1.0774 1624.22 734.54)" font-size="25" text-anchor="end" >700</text><text transform="matrix(0.8174 -0.1441 0.0753 1.0774 1626.52 779.75)" font-size="25" text-anchor="end" >0</text><text transform="matrix(0.9516 -0.4437 0.7574 0.3859 1646.21 790.85)" font-size="22.5" text-anchor="middle" >160</text><text transform="matrix(0.9516 -0.4437 0.7574 0.3859 1676.86 805.52)" font-size="22.5" text-anchor="middle" >120</text><text transform="matrix(0.9516 -0.4437 0.7574 0.3859 1714.55 818.28)" font-size="22.5" text-anchor="middle" >80</text><text transform="matrix(0.9516 -0.4437 0.7574 0.3859 1752.74 834.87)" font-size="22.5" text-anchor="middle" >40</text><text transform="matrix(0.9707 0.4734 -0.7047 0.4753 1820.85 830.67)" font-size="22" text-anchor="middle" >18</text><text transform="matrix(0.9707 0.4734 -0.7047 0.4753 1844.93 811.63)" font-size="22" text-anchor="middle" >36</text><text transform="matrix(0.9707 0.4734 -0.7047 0.4753 1867.40 795.04)" font-size="22" text-anchor="middle" >54</text><text transform="matrix(0.9707 0.4734 -0.7047 0.4753 1890.40 780.59)" font-size="22" text-anchor="middle" >72</text><text transform="matrix(0.9707 0.4734 -0.7047 0.4753 1909.13 766.68)" font-size="22" text-anchor="middle" >90</text><text transform="translate(1574.0 767.4) rotate(-96)" font-size="29" text-anchor="start" word-spacing="-4">W<tspan font-size="19" dy="6">EMG</tspan><tspan dy="-6"> (mJ/m</tspan><tspan font-size="17" dy="-10">2</tspan><tspan dy="10">)</tspan></text><text transform="translate(1600.2 819.0) rotate(23.5) skewX(5)" font-size="36.5" text-anchor="start" ><tspan font-style="italic">B</tspan><tspan font-size="23" dy="4">act</tspan><tspan dy="-4"> (mT)</tspan></text><text transform="translate(1856.6 863.7) rotate(-38) skewX(3)" font-size="35" text-anchor="start" ><tspan font-style="italic">f</tspan><tspan font-size="23" dy="4">act</tspan><tspan dy="-4"> (Hz)</tspan></text></g>
<g id="ph"><text x="30.50" y="947.50" font-size="49" fill="#000" text-anchor="start" font-weight="bold" >h</text><text x="278.00" y="983.70" font-size="36" fill="#000" text-anchor="middle" >(RF, ~110 kHz)</text><path d="M153.2 1204.5 Q145.4 1205.1 143.2 1210.7 L132.3 1261.7 Q131.4 1267.2 138.1 1267.9 L402.6 1266.1 Q410.4 1265.0 407.8 1258.3 L383.8 1210.7 Q380.5 1204.5 372.7 1204.5 Z" fill="url(#hBase)"/><ellipse cx="264.1" cy="1231.7" rx="70" ry="17" fill="url(#hBaseR)"/><ellipse cx="264.1" cy="1231.7" rx="26.2" ry="5.8" fill="none" stroke="#c09c42" stroke-width="1.3"/><ellipse cx="264.2" cy="1231.6" rx="36.8" ry="8.2" fill="none" stroke="#c09c42" stroke-width="1.3"/><ellipse cx="264.4" cy="1231.5" rx="47.5" ry="10.7" fill="none" stroke="#c09c42" stroke-width="1.3"/><ellipse cx="264.5" cy="1231.4" rx="58.1" ry="13.2" fill="none" stroke="#c09c42" stroke-width="1.3"/><ellipse cx="264.7" cy="1231.3" rx="68.7" ry="15.7" fill="none" stroke="#c09c42" stroke-width="1.3"/><ellipse cx="264.8" cy="1231.2" rx="79.4" ry="18.2" fill="none" stroke="#c09c42" stroke-width="1.3"/><ellipse cx="265.0" cy="1231.1" rx="90.0" ry="20.7" fill="none" stroke="#c09c42" stroke-width="1.3"/><ellipse cx="265.1" cy="1231.0" rx="100.7" ry="23.2" fill="none" stroke="#c09c42" stroke-width="1.3"/><ellipse cx="265.3" cy="1230.9" rx="111.3" ry="25.6" fill="none" stroke="#c09c42" stroke-width="1.3"/><g opacity="0.95"><path d="M187.55 1181.84 Q179.35 1206.23 167.63 1230.53" fill="none" stroke="#3c5f88" stroke-width="2.6" stroke-dasharray="8 4.5"/><polygon points="167.59,1230.62 167.59,1230.51 167.63,1230.54 167.68,1230.55" fill="#3c5f88" /></g><g opacity="0.95"><path d="M211.94 1186.27 Q207.07 1202.35 198.69 1218.34" fill="none" stroke="#3c5f88" stroke-width="2.6" stroke-dasharray="8 4.5"/><polygon points="198.64,1218.43 198.64,1218.32 198.68,1218.35 198.73,1218.36" fill="#3c5f88" /></g><g opacity="0.95"><path d="M322.82 1186.27 Q327.14 1202.35 334.98 1218.34" fill="none" stroke="#3c5f88" stroke-width="2.6" stroke-dasharray="8 4.5"/><polygon points="335.02,1218.43 334.93,1218.36 334.98,1218.35 335.02,1218.32" fill="#3c5f88" /></g><g opacity="0.95"><path d="M346.10 1182.95 Q355.42 1207.34 368.23 1231.64" fill="none" stroke="#3c5f88" stroke-width="2.6" stroke-dasharray="8 4.5"/><polygon points="368.28,1231.73 368.19,1231.66 368.24,1231.65 368.28,1231.62" fill="#3c5f88" /></g><path d="M132.11 1106.89 Q107.18 1122.05 93.75 1157.45 L116.59 1173.41 L422.61 1173.41 L443.68 1158.55 Q431.65 1122.39 409.30 1106.89 Z" fill="#c4b781" stroke="#c4b781" stroke-width="1.2" stroke-linejoin="round"/><polygon points="107.05,1148.58 132.11,1143.03 132.11,1172.08 121.02,1170.75" fill="#b3a570" /><polygon points="430.37,1149.68 406.42,1143.03 406.42,1172.08 418.17,1170.75" fill="#b3a570" /><rect x="132.11" y="1145.25" width="274.31" height="26.83" fill="url(#sideDark)"/><rect x="132.11" y="1145.25" width="274.31" height="26.83" fill="url(#sideDarkH)"/><line x1="132.11" y1="1172.08" x2="406.42" y2="1172.08" stroke="#4f7fb6" stroke-width="1.8" /><rect x="155.40" y="1172.97" width="216.21" height="7.09" rx="2" fill="#55524f"/><rect x="129.23" y="1107.33" width="283.40" height="34.59" fill="#a99a5c"/><line x1="130.23" y1="1143.47" x2="408.63" y2="1143.47" stroke="#a85c46" stroke-width="1.6" /><path d="M135.4 1112.7 Q104.4 1116.4 99.5 1134.2 T115.5 1149.7" fill="none" stroke="#5a5755" stroke-width="3.6"/><polygon points="363.85,1098.68 362.74,1102.01 362.74,1110.88 363.85,1107.55" fill="#8d6620" /><polygon points="392.23,1098.68 393.78,1102.01 393.78,1110.88 392.23,1107.55" fill="#8d6620" /><polygon points="362.74,1102.01 393.78,1102.01 393.78,1110.88 362.74,1110.88" fill="#b5832a" /><polygon points="363.85,1098.68 392.23,1098.68 393.78,1102.01 362.74,1102.01" fill="#f0b443" /><polygon points="367.84,1106.00 366.51,1109.32 366.51,1118.19 367.84,1114.87" fill="#8d6620" /><polygon points="397.11,1106.00 398.88,1109.32 398.88,1118.19 397.11,1114.87" fill="#8d6620" /><polygon points="366.51,1109.32 398.88,1109.32 398.88,1118.19 366.51,1118.19" fill="#b5832a" /><polygon points="367.84,1106.00 397.11,1106.00 398.88,1109.32 366.51,1109.32" fill="#f0b443" /><polygon points="371.61,1111.54 370.05,1114.87 370.05,1124.85 371.61,1121.52" fill="#8d6620" /><polygon points="401.99,1111.54 403.76,1114.87 403.76,1124.85 401.99,1121.52" fill="#8d6620" /><polygon points="370.05,1114.87 403.76,1114.87 403.76,1124.85 370.05,1124.85" fill="#b5832a" /><polygon points="371.61,1111.54 401.99,1111.54 403.76,1114.87 370.05,1114.87" fill="#f0b443" /><polygon points="377.59,1119.30 376.04,1123.07 376.04,1135.27 377.59,1131.50" fill="#8d6620" /><polygon points="409.30,1119.30 411.52,1123.07 411.52,1135.27 409.30,1131.50" fill="#8d6620" /><polygon points="376.04,1123.07 411.52,1123.07 411.52,1135.27 376.04,1135.27" fill="#b5832a" /><polygon points="377.59,1119.30 409.30,1119.30 411.52,1123.07 376.04,1123.07" fill="#f0b443" /><path d="M163.86 1127.56 Q164.16 1124.07 167.66 1124.07 L368.66 1124.07 Q372.16 1124.07 372.46 1127.56 L372.86 1132.22 Q373.16 1135.71 369.66 1135.71 L166.66 1135.71 Q163.16 1135.71 163.46 1132.22 Z" fill="#54514f" /><path d="M167.11 1103.92 Q167.59 1100.45 171.09 1100.46 L352.58 1100.89 Q356.08 1100.90 357.76 1103.97 L371.48 1129.15 Q373.16 1132.22 369.66 1132.22 L166.66 1132.22 Q163.16 1132.22 163.64 1128.75 Z" fill="#6a6764" /><path d="M171.42 1104.85 Q171.95 1101.11 175.73 1101.12 L347.70 1101.52 Q351.49 1101.53 353.29 1104.85 L365.81 1127.84 Q367.62 1131.16 363.83 1131.16 L171.46 1131.16 Q167.68 1131.16 168.21 1127.42 Z" fill="none" stroke="#9a9794" stroke-width="0.9" opacity="0.45"/><path d="M180.18 1105.74 Q180.67 1102.43 184.01 1102.44 L338.95 1102.79 Q342.30 1102.80 343.89 1105.74 L354.93 1126.10 Q356.53 1129.04 353.18 1129.04 L180.06 1129.04 Q176.71 1129.04 177.21 1125.73 Z" fill="none" stroke="#9a9794" stroke-width="0.9" opacity="0.45"/><path d="M188.93 1106.63 Q189.38 1103.76 192.29 1103.76 L330.20 1104.06 Q333.11 1104.07 334.49 1106.62 L344.06 1124.36 Q345.44 1126.92 342.53 1126.92 L188.66 1126.92 Q185.75 1126.92 186.20 1124.05 Z" fill="none" stroke="#9a9794" stroke-width="0.9" opacity="0.45"/><path d="M197.69 1107.51 Q198.10 1105.08 200.57 1105.08 L321.45 1105.33 Q323.92 1105.33 325.08 1107.51 L333.19 1122.62 Q334.35 1124.80 331.88 1124.80 L197.25 1124.80 Q194.79 1124.80 195.19 1122.36 Z" fill="none" stroke="#9a9794" stroke-width="0.9" opacity="0.45"/><path d="M206.45 1108.40 Q206.82 1106.40 208.85 1106.40 L312.70 1106.59 Q314.73 1106.60 315.68 1108.39 L322.31 1120.88 Q323.26 1122.68 321.23 1122.68 L205.85 1122.68 Q203.82 1122.68 204.19 1120.68 Z" fill="none" stroke="#9a9794" stroke-width="0.9" opacity="0.45"/><path d="M215.21 1109.28 Q215.54 1107.72 217.13 1107.72 L303.95 1107.86 Q305.54 1107.86 306.28 1109.28 L311.44 1119.15 Q312.17 1120.56 310.58 1120.56 L214.45 1120.56 Q212.86 1120.56 213.18 1119.00 Z" fill="none" stroke="#9a9794" stroke-width="0.9" opacity="0.45"/><path d="M223.97 1110.17 Q224.25 1109.04 225.41 1109.05 L295.20 1109.13 Q296.35 1109.13 296.88 1110.16 L300.56 1117.41 Q301.09 1118.44 299.93 1118.44 L223.05 1118.44 Q221.89 1118.44 222.17 1117.32 Z" fill="none" stroke="#9a9794" stroke-width="0.9" opacity="0.45"/><path d="M232.74 1111.05 Q232.97 1110.37 233.69 1110.37 L286.44 1110.39 Q287.16 1110.39 287.47 1111.04 L289.69 1115.67 Q290.00 1116.32 289.28 1116.32 L231.65 1116.32 Q230.93 1116.32 231.16 1115.64 Z" fill="none" stroke="#9a9794" stroke-width="0.9" opacity="0.45"/><path d="M175.80 1105.30 Q176.31 1101.77 179.87 1101.78 L343.33 1102.16 Q346.89 1102.17 348.59 1105.30 L360.37 1126.97 Q362.07 1130.10 358.51 1130.10 L175.76 1130.10 Q172.20 1130.10 172.71 1126.57 Z" fill="none" stroke="#454341" stroke-width="0.9"/><path d="M184.55 1106.18 Q185.03 1103.09 188.15 1103.10 L334.58 1103.43 Q337.70 1103.43 339.19 1106.18 L349.50 1125.23 Q350.98 1127.98 347.86 1127.98 L184.36 1127.98 Q181.23 1127.98 181.70 1124.89 Z" fill="none" stroke="#454341" stroke-width="0.9"/><path d="M193.31 1107.07 Q193.74 1104.42 196.43 1104.42 L325.83 1104.69 Q328.51 1104.70 329.79 1107.06 L338.62 1123.49 Q339.90 1125.86 337.21 1125.86 L192.95 1125.86 Q190.27 1125.86 190.70 1123.21 Z" fill="none" stroke="#454341" stroke-width="0.9"/><path d="M202.07 1107.96 Q202.46 1105.74 204.71 1105.74 L317.07 1105.96 Q319.32 1105.96 320.38 1107.95 L327.75 1121.75 Q328.81 1123.74 326.56 1123.74 L201.55 1123.74 Q199.30 1123.74 199.69 1121.52 Z" fill="none" stroke="#454341" stroke-width="0.9"/><path d="M210.83 1108.84 Q211.18 1107.06 212.99 1107.06 L308.32 1107.23 Q310.14 1107.23 310.98 1108.83 L316.87 1120.02 Q317.72 1121.62 315.91 1121.62 L210.15 1121.62 Q208.34 1121.62 208.69 1119.84 Z" fill="none" stroke="#454341" stroke-width="0.9"/><path d="M219.59 1109.72 Q219.90 1108.38 221.27 1108.39 L299.57 1108.49 Q300.95 1108.50 301.58 1109.72 L306.00 1118.28 Q306.63 1119.50 305.26 1119.50 L218.75 1119.50 Q217.37 1119.50 217.68 1118.16 Z" fill="none" stroke="#454341" stroke-width="0.9"/><path d="M228.35 1110.61 Q228.61 1109.71 229.55 1109.71 L290.82 1109.76 Q291.76 1109.76 292.17 1110.60 L295.12 1116.54 Q295.54 1117.38 294.60 1117.38 L227.35 1117.38 Q226.41 1117.38 226.67 1116.48 Z" fill="none" stroke="#454341" stroke-width="0.9"/><line x1="167.59" y1="1100.45" x2="237.33" y2="1111.03" stroke="#454341" stroke-width="0.6" opacity="0.55"/><line x1="356.08" y1="1100.90" x2="282.57" y2="1111.03" stroke="#454341" stroke-width="0.6" opacity="0.55"/><line x1="373.16" y1="1132.22" x2="284.45" y2="1115.26" stroke="#454341" stroke-width="0.6" opacity="0.55"/><line x1="163.16" y1="1132.22" x2="235.45" y2="1115.26" stroke="#454341" stroke-width="0.6" opacity="0.55"/><polygon points="237.33,1111.03 282.57,1111.03 284.45,1115.26 235.45,1115.26" fill="#3e3c3a" /><line x1="167.16" y1="1129.89" x2="369.16" y2="1129.89" stroke="#75726f" stroke-width="1.2" opacity="0.7"/><polygon points="133.22,1112.65 131.45,1115.98 131.45,1124.85 133.22,1121.52" fill="#8d6620" /><polygon points="162.49,1112.65 163.16,1115.98 163.16,1124.85 162.49,1121.52" fill="#8d6620" /><polygon points="131.45,1115.98 163.16,1115.98 163.16,1124.85 131.45,1124.85" fill="#b5832a" /><polygon points="133.22,1112.65 162.49,1112.65 163.16,1115.98 131.45,1115.98" fill="#f0b443" /><polygon points="126.57,1119.30 125.46,1123.07 125.46,1135.27 126.57,1131.50" fill="#8d6620" /><polygon points="158.72,1119.30 159.83,1123.07 159.83,1135.27 158.72,1131.50" fill="#8d6620" /><polygon points="125.46,1123.07 159.83,1123.07 159.83,1135.27 125.46,1135.27" fill="#b5832a" /><polygon points="126.57,1119.30 158.72,1119.30 159.83,1123.07 125.46,1123.07" fill="#f0b443" /><rect x="145.64" y="1106.00" width="5.00" height="4.60" fill="#d01818" /><g opacity="0.85"><path d="M193.54 1097.57 Q188.66 1051.00 175.41 1028.67" fill="none" stroke="#a04848" stroke-width="2.8" stroke-dasharray="11 5.5"/><polygon points="168.26,1016.63 181.00,1025.35 174.33,1026.86 169.82,1031.99" fill="#a04848" /></g><g opacity="0.85"><path d="M216.38 1100.23 Q213.05 1079.83 211.05 1074.69" fill="none" stroke="#a04848" stroke-width="2.8" stroke-dasharray="11 5.5"/><polygon points="205.96,1061.65 217.10,1072.33 210.28,1072.74 204.99,1077.05" fill="#a04848" /></g><g opacity="0.85"><path d="M318.39 1100.23 Q321.71 1079.83 323.97 1074.53" fill="none" stroke="#a04848" stroke-width="2.8" stroke-dasharray="11 5.5"/><polygon points="329.47,1061.65 329.95,1077.08 324.80,1072.59 318.00,1071.97" fill="#a04848" /></g><g opacity="0.85"><path d="M341.67 1097.57 Q347.21 1051.00 360.64 1028.63" fill="none" stroke="#a04848" stroke-width="2.8" stroke-dasharray="11 5.5"/><polygon points="367.84,1016.63 366.21,1031.98 361.72,1026.83 355.06,1025.29" fill="#a04848" /></g><line x1="381.59" y1="1176.29" x2="480.93" y2="1176.29" stroke="#1eaae6" stroke-width="2" stroke-dasharray="10 5"/><line x1="381.59" y1="1237.28" x2="480.93" y2="1237.28" stroke="#1eaae6" stroke-width="2" stroke-dasharray="10 5"/><line x1="461.86" y1="1178.29" x2="461.86" y2="1235.28" stroke="#1eaae6" stroke-width="2" /><path d="M453.9 1186.3 L461.9 1177.8 L469.9 1186.3 M453.9 1227.3 L461.9 1235.8 L469.9 1227.3" fill="none" stroke="#1eaae6" stroke-width="2"/><text transform="translate(449.22 1210.67) rotate(-90)" font-size="33.5" fill="#000" text-anchor="middle" ><tspan font-style="italic">D</tspan><tspan font-size="23" dy="5">RF</tspan></text><text x="19.80" y="1260.50" font-size="36" fill="#000" text-anchor="start" >RF coil</text></g>
<g id="pi"><text x="563.80" y="947.50" font-size="49" fill="#000" text-anchor="start" font-weight="bold" >i</text><rect x="673.56" y="1224.87" width="61.35" height="33.55" fill="#d9d9d9" /><path d="M690.2 988.1 C693.4 987.9 703.2 987.5 709.4 987.1 C715.5 986.8 723.5 986.2 726.9 986.2 C730.3 986.2 729.0 986.0 729.8 987.1 C730.6 988.3 730.9 988.8 731.7 992.9 C732.6 996.9 733.6 1004.6 734.9 1011.4 C736.2 1018.2 738.1 1026.8 739.7 1033.8 C741.3 1040.8 742.9 1047.3 744.5 1053.6 C746.1 1059.9 747.2 1064.7 749.3 1071.5 C751.4 1078.3 754.6 1087.6 757.3 1094.5 C759.9 1101.4 762.1 1106.6 765.3 1113.0 C768.5 1119.4 771.9 1126.4 776.5 1132.8 C781.0 1139.2 786.6 1146.1 792.4 1151.4 C798.3 1156.7 804.1 1160.9 811.6 1164.8 C819.1 1168.7 828.1 1172.3 837.2 1175.0 C846.2 1177.8 856.9 1179.8 865.9 1181.4 C875.0 1183.0 881.9 1183.7 891.5 1184.6 C901.1 1185.6 913.3 1186.5 923.4 1187.2 C933.6 1187.8 947.4 1188.2 952.2 1188.4" fill="none" stroke="#960000" stroke-width="4.6" stroke-linecap="round" stroke-linejoin="round"/><path d="M690.2 983.3 C693.4 983.0 703.5 982.0 709.4 981.4 C715.2 980.8 722.3 979.7 725.3 979.8 C728.4 979.9 727.0 979.4 727.6 982.0 C728.1 984.6 728.1 987.9 728.8 995.4 C729.5 1003.0 730.7 1018.1 731.7 1027.4 C732.7 1036.7 733.6 1042.3 734.9 1051.4 C736.2 1060.4 738.1 1072.4 739.7 1081.7 C741.3 1091.0 742.6 1098.8 744.5 1107.3 C746.4 1115.8 748.8 1125.4 750.9 1132.8 C753.0 1140.3 754.9 1146.6 757.3 1152.0 C759.7 1157.4 762.1 1161.1 765.3 1165.4 C768.5 1169.8 771.9 1174.6 776.5 1178.2 C781.0 1181.8 786.6 1184.7 792.4 1187.2 C798.3 1189.6 804.1 1191.4 811.6 1192.9 C819.1 1194.4 828.1 1195.4 837.2 1196.1 C846.2 1196.9 854.2 1197.1 865.9 1197.4 C877.6 1197.7 893.1 1197.9 907.5 1198.0 C921.8 1198.2 944.7 1198.3 952.2 1198.3" fill="none" stroke="#0a64c8" stroke-width="4.6" stroke-linecap="round" stroke-linejoin="round"/><line x1="672.30" y1="958.90" x2="972.10" y2="958.90" stroke="#000" stroke-width="3" /><line x1="672.30" y1="1218.40" x2="972.10" y2="1218.40" stroke="#000" stroke-width="3" /><line x1="673.80" y1="958.90" x2="673.80" y2="1218.40" stroke="#960000" stroke-width="3" /><line x1="970.60" y1="958.90" x2="970.60" y2="1218.40" stroke="#0a64c8" stroke-width="3" /><line x1="673.80" y1="980.43" x2="679.00" y2="980.43" stroke="#960000" stroke-width="2" /><line x1="673.80" y1="1053.92" x2="679.00" y2="1053.92" stroke="#960000" stroke-width="2" /><line x1="673.80" y1="1128.05" x2="679.00" y2="1128.05" stroke="#960000" stroke-width="2" /><line x1="673.80" y1="1200.90" x2="679.00" y2="1200.90" stroke="#960000" stroke-width="2" /><line x1="673.80" y1="1017.17" x2="677.20" y2="1017.17" stroke="#960000" stroke-width="1.8" /><line x1="673.80" y1="1090.98" x2="677.20" y2="1090.98" stroke="#960000" stroke-width="1.8" /><line x1="673.80" y1="1164.48" x2="677.20" y2="1164.48" stroke="#960000" stroke-width="1.8" /><line x1="970.60" y1="1006.63" x2="965.40" y2="1006.63" stroke="#0a64c8" stroke-width="2" /><line x1="970.60" y1="1070.53" x2="965.40" y2="1070.53" stroke="#0a64c8" stroke-width="2" /><line x1="970.60" y1="1135.40" x2="965.40" y2="1135.40" stroke="#0a64c8" stroke-width="2" /><line x1="970.60" y1="1198.99" x2="965.40" y2="1198.99" stroke="#0a64c8" stroke-width="2" /><line x1="970.60" y1="974.68" x2="967.20" y2="974.68" stroke="#0a64c8" stroke-width="1.8" /><line x1="970.60" y1="1038.58" x2="967.20" y2="1038.58" stroke="#0a64c8" stroke-width="1.8" /><line x1="970.60" y1="1102.81" x2="967.20" y2="1102.81" stroke="#0a64c8" stroke-width="1.8" /><line x1="970.60" y1="1167.03" x2="967.20" y2="1167.03" stroke="#0a64c8" stroke-width="1.8" /><line x1="766.23" y1="1218.40" x2="766.23" y2="1213.20" stroke="#000" stroke-width="2" /><line x1="821.83" y1="1218.40" x2="821.83" y2="1213.20" stroke="#000" stroke-width="2" /><line x1="877.10" y1="1218.40" x2="877.10" y2="1213.20" stroke="#000" stroke-width="2" /><line x1="932.38" y1="1218.40" x2="932.38" y2="1213.20" stroke="#000" stroke-width="2" /><line x1="738.11" y1="1218.40" x2="738.11" y2="1215.00" stroke="#000" stroke-width="1.8" /><line x1="794.03" y1="1218.40" x2="794.03" y2="1215.00" stroke="#000" stroke-width="1.8" /><line x1="849.30" y1="1218.40" x2="849.30" y2="1215.00" stroke="#000" stroke-width="1.8" /><line x1="904.90" y1="1218.40" x2="904.90" y2="1215.00" stroke="#000" stroke-width="1.8" /><line x1="960.18" y1="1218.40" x2="960.18" y2="1215.00" stroke="#000" stroke-width="1.8" /><text x="647.50" y="990.43" font-size="32" fill="#960000" text-anchor="middle" >3.3</text><text x="647.50" y="1063.92" font-size="32" fill="#960000" text-anchor="middle" >2.2</text><text x="647.50" y="1138.05" font-size="32" fill="#960000" text-anchor="middle" >1.1</text><text x="647.50" y="1210.90" font-size="32" fill="#960000" text-anchor="middle" >0</text><text x="1001.50" y="1017.63" font-size="32" fill="#0a64c8" text-anchor="middle" >300</text><text x="1001.50" y="1081.53" font-size="32" fill="#0a64c8" text-anchor="middle" >200</text><text x="1001.50" y="1146.40" font-size="32" fill="#0a64c8" text-anchor="middle" >100</text><text x="987.00" y="1209.99" font-size="32" fill="#0a64c8" text-anchor="middle" >0</text><text x="703.92" y="1252.00" font-size="32" fill="#000" text-anchor="middle" >5</text><text x="766.23" y="1252.00" font-size="32" fill="#000" text-anchor="middle" >15</text><text x="821.83" y="1252.00" font-size="32" fill="#000" text-anchor="middle" >30</text><text x="877.10" y="1252.00" font-size="32" fill="#000" text-anchor="middle" >45</text><text x="932.38" y="1252.00" font-size="32" fill="#000" text-anchor="middle" >60</text><text x="822.50" y="1293.90" font-size="36" fill="#000" text-anchor="middle" ><tspan font-style="italic">D</tspan><tspan font-size="24" dy="4.5">RF</tspan><tspan dy="-4.5"> (mm)</tspan></text><text transform="translate(615.20 1087.50) rotate(-90)" font-size="35" fill="#960000" text-anchor="middle" ><tspan font-style="italic">V</tspan><tspan font-size="24" dy="5">RF</tspan><tspan dy="-5"> (V)</tspan></text><text transform="translate(1061.50 1100.50) rotate(-90)" font-size="35.5" fill="#0a64c8" text-anchor="middle" ><tspan font-style="italic">P</tspan><tspan font-size="24" dy="5">RF</tspan><tspan dy="-5"> (mW/m</tspan><tspan font-size="23" dy="-13">2</tspan><tspan dy="13">)</tspan></text></g>
<g id="pj"><text x="1074.00" y="947.50" font-size="49" fill="#000" text-anchor="start" font-weight="bold" >j</text><text x="1306.00" y="983.60" font-size="36" fill="#000" text-anchor="middle" >(TENG, 1-15 Hz)</text><text x="1312.50" y="1033.20" font-size="32" fill="#000" text-anchor="middle" >Mechanical deformation</text><path d="M1185.7 1075.5 L1428.0 1077.6 L1472.6 1110.8 Q1487.5 1118.2 1492.8 1128.2 L1468.3 1146.3 L1152.7 1146.3 L1130.4 1128.8 Q1144.2 1114.0 1163.3 1101.2 Z" fill="#cdbf8a"/><polygon points="1143.14,1123.52 1170.77,1115.02 1170.77,1141.59 1153.76,1143.71" fill="#b3a570" /><polygon points="1483.22,1123.52 1455.58,1115.02 1455.58,1141.59 1468.34,1143.71" fill="#b3a570" /><rect x="1170.77" y="1117.15" width="284.18" height="23.80" fill="url(#sideDark)"/><rect x="1170.77" y="1117.15" width="284.18" height="23.80" fill="url(#jDarkH)"/><rect x="1170.77" y="1140.45" width="284.18" height="4.75" fill="#4a79ab" /><rect x="1206.90" y="1145.84" width="210.43" height="6.59" rx="2" fill="#55524f"/><polygon points="1185.65,1075.49 1427.95,1077.61 1472.59,1111.62 1471.53,1113.53 1166.52,1113.53 1163.33,1101.42" fill="#a99a5c" /><rect x="1169.71" y="1113.53" width="286.30" height="3.83" fill="#8f4c3a" /><path d="M1408.8 1090.2 Q1438.6 1087.8 1455.6 1094.8 T1471.5 1111.8" fill="none" stroke="#4c4947" stroke-width="5"/><polygon points="1397.13,1074.64 1396.07,1077.82 1396.07,1085.90 1397.13,1082.72" fill="#8d6620" /><polygon points="1423.70,1074.64 1425.83,1077.82 1425.83,1085.90 1423.70,1082.72" fill="#8d6620" /><polygon points="1396.07,1077.82 1425.83,1077.82 1425.83,1085.90 1396.07,1085.90" fill="#b5832a" /><polygon points="1397.13,1074.64 1423.70,1074.64 1425.83,1077.82 1396.07,1077.82" fill="#f0b443" /><polygon points="1402.45,1080.37 1401.38,1083.56 1401.38,1092.06 1402.45,1088.87" fill="#8d6620" /><polygon points="1430.50,1080.37 1432.63,1083.56 1432.63,1092.06 1430.50,1088.87" fill="#8d6620" /><polygon points="1401.38,1083.56 1432.63,1083.56 1432.63,1092.06 1401.38,1092.06" fill="#b5832a" /><polygon points="1402.45,1080.37 1430.50,1080.37 1432.63,1083.56 1401.38,1083.56" fill="#f0b443" /><polygon points="1186.71,1074.64 1185.65,1077.82 1185.65,1085.90 1186.71,1082.72" fill="#8d6620" /><polygon points="1213.28,1074.64 1215.83,1077.82 1215.83,1085.90 1213.28,1082.72" fill="#8d6620" /><polygon points="1185.65,1077.82 1215.83,1077.82 1215.83,1085.90 1185.65,1085.90" fill="#b5832a" /><polygon points="1186.71,1074.64 1213.28,1074.64 1215.83,1077.82 1185.65,1077.82" fill="#f0b443" /><polygon points="1180.33,1080.59 1179.27,1083.77 1179.27,1092.27 1180.33,1089.09" fill="#8d6620" /><polygon points="1210.09,1080.59 1212.85,1083.77 1212.85,1092.27 1210.09,1089.09" fill="#8d6620" /><polygon points="1179.27,1083.77 1212.85,1083.77 1212.85,1092.27 1179.27,1092.27" fill="#b5832a" /><polygon points="1180.33,1080.59 1210.09,1080.59 1212.85,1083.77 1179.27,1083.77" fill="#f0b443" /><polygon points="1175.44,1084.41 1174.59,1087.81 1174.59,1096.74 1175.44,1093.34" fill="#8d6620" /><polygon points="1205.84,1084.41 1208.60,1087.81 1208.60,1096.74 1205.84,1093.34" fill="#8d6620" /><polygon points="1174.59,1087.81 1208.60,1087.81 1208.60,1096.74 1174.59,1096.74" fill="#b5832a" /><polygon points="1175.44,1084.41 1205.84,1084.41 1208.60,1087.81 1174.59,1087.81" fill="#f0b443" /><path d="M1206.49 1101.24 Q1206.84 1097.76 1210.34 1097.75 L1423.88 1097.13 Q1427.38 1097.12 1427.73 1100.60 L1428.03 1103.46 Q1428.38 1106.94 1424.88 1106.95 L1209.34 1107.57 Q1205.84 1107.58 1206.19 1104.10 Z" fill="#54514f" /><path d="M1220.97 1080.78 Q1222.84 1077.82 1226.34 1077.83 L1386.19 1078.45 Q1389.69 1078.46 1392.61 1080.39 L1425.46 1102.07 Q1428.38 1103.99 1424.88 1104.00 L1209.34 1104.62 Q1205.84 1104.63 1207.71 1101.68 Z" fill="#6a6764" /><path d="M1224.68 1081.57 Q1226.70 1078.38 1230.48 1078.39 L1381.84 1078.96 Q1385.62 1078.98 1388.77 1081.07 L1418.85 1101.05 Q1422.00 1103.14 1418.22 1103.15 L1214.44 1103.73 Q1210.66 1103.74 1212.68 1100.54 Z" fill="none" stroke="#9a9794" stroke-width="0.9" opacity="0.45"/><path d="M1232.63 1082.32 Q1234.42 1079.49 1237.76 1079.51 L1374.15 1080.00 Q1377.49 1080.01 1380.26 1081.88 L1406.47 1099.56 Q1409.24 1101.43 1405.89 1101.44 L1223.63 1101.94 Q1220.29 1101.95 1222.07 1099.12 Z" fill="none" stroke="#9a9794" stroke-width="0.9" opacity="0.45"/><path d="M1240.59 1083.08 Q1242.13 1080.61 1245.04 1080.62 L1366.45 1081.04 Q1369.36 1081.05 1371.75 1082.70 L1394.08 1098.07 Q1396.48 1099.72 1393.57 1099.73 L1232.83 1100.15 Q1229.92 1100.16 1231.46 1097.70 Z" fill="none" stroke="#9a9794" stroke-width="0.9" opacity="0.45"/><path d="M1248.55 1083.83 Q1249.85 1081.73 1252.32 1081.73 L1358.75 1082.08 Q1361.22 1082.09 1363.24 1083.51 L1381.70 1096.58 Q1383.71 1098.01 1381.25 1098.02 L1242.03 1098.36 Q1239.56 1098.37 1240.85 1096.27 Z" fill="none" stroke="#9a9794" stroke-width="0.9" opacity="0.45"/><path d="M1256.51 1084.58 Q1257.57 1082.84 1259.60 1082.85 L1351.06 1083.12 Q1353.09 1083.12 1354.72 1084.33 L1369.32 1095.10 Q1370.95 1096.30 1368.92 1096.31 L1251.22 1096.58 Q1249.19 1096.58 1250.25 1094.85 Z" fill="none" stroke="#9a9794" stroke-width="0.9" opacity="0.45"/><path d="M1264.47 1085.33 Q1265.28 1083.96 1266.88 1083.96 L1343.36 1084.15 Q1344.95 1084.16 1346.21 1085.14 L1356.94 1093.61 Q1358.19 1094.59 1356.60 1094.60 L1260.42 1094.79 Q1258.82 1094.79 1259.64 1093.42 Z" fill="none" stroke="#9a9794" stroke-width="0.9" opacity="0.45"/><path d="M1272.42 1086.08 Q1273.00 1085.07 1274.16 1085.08 L1335.66 1085.19 Q1336.82 1085.19 1337.68 1085.96 L1344.57 1092.11 Q1345.43 1092.88 1344.27 1092.88 L1269.61 1093.00 Q1268.46 1093.00 1269.03 1092.00 Z" fill="none" stroke="#9a9794" stroke-width="0.9" opacity="0.45"/><path d="M1280.38 1086.83 Q1280.72 1086.19 1281.43 1086.19 L1327.97 1086.23 Q1328.69 1086.23 1329.14 1086.79 L1332.22 1090.61 Q1332.67 1091.17 1331.95 1091.17 L1278.81 1091.21 Q1278.09 1091.21 1278.42 1090.58 Z" fill="none" stroke="#9a9794" stroke-width="0.9" opacity="0.45"/><path d="M1228.66 1081.95 Q1230.56 1078.94 1234.12 1078.95 L1377.99 1079.48 Q1381.56 1079.50 1384.52 1081.48 L1412.66 1100.30 Q1415.62 1102.28 1412.06 1102.29 L1219.04 1102.83 Q1215.47 1102.84 1217.37 1099.83 Z" fill="none" stroke="#454341" stroke-width="0.9"/><path d="M1236.61 1082.70 Q1238.27 1080.05 1241.40 1080.06 L1370.30 1080.52 Q1373.42 1080.53 1376.01 1082.29 L1400.27 1098.82 Q1402.86 1100.58 1399.73 1100.58 L1228.23 1101.05 Q1225.11 1101.06 1226.77 1098.41 Z" fill="none" stroke="#454341" stroke-width="0.9"/><path d="M1244.57 1083.45 Q1245.99 1081.17 1248.68 1081.18 L1362.60 1081.56 Q1365.29 1081.57 1367.49 1083.11 L1387.89 1097.33 Q1390.10 1098.87 1387.41 1098.87 L1237.43 1099.26 Q1234.74 1099.27 1236.16 1096.98 Z" fill="none" stroke="#454341" stroke-width="0.9"/><path d="M1252.53 1084.20 Q1253.71 1082.28 1255.96 1082.29 L1354.90 1082.60 Q1357.15 1082.60 1358.98 1083.92 L1375.51 1095.84 Q1377.33 1097.16 1375.08 1097.16 L1246.62 1097.47 Q1244.37 1097.48 1245.55 1095.56 Z" fill="none" stroke="#454341" stroke-width="0.9"/><path d="M1260.49 1084.95 Q1261.42 1083.40 1263.24 1083.40 L1347.21 1083.64 Q1349.02 1083.64 1350.46 1084.74 L1363.13 1094.35 Q1364.57 1095.45 1362.76 1095.45 L1255.82 1095.68 Q1254.01 1095.69 1254.94 1094.14 Z" fill="none" stroke="#454341" stroke-width="0.9"/><path d="M1268.45 1085.70 Q1269.14 1084.52 1270.52 1084.52 L1339.51 1084.67 Q1340.89 1084.68 1341.94 1085.55 L1350.75 1092.86 Q1351.81 1093.74 1350.44 1093.74 L1265.01 1093.90 Q1263.64 1093.90 1264.34 1092.71 Z" fill="none" stroke="#454341" stroke-width="0.9"/><path d="M1276.40 1086.45 Q1276.86 1085.63 1277.80 1085.63 L1331.81 1085.71 Q1332.75 1085.71 1333.41 1086.38 L1338.39 1091.36 Q1339.05 1092.03 1338.11 1092.03 L1274.21 1092.11 Q1273.27 1092.11 1273.73 1091.29 Z" fill="none" stroke="#454341" stroke-width="0.9"/><line x1="1222.84" y1="1077.82" x2="1284.57" y2="1086.75" stroke="#454341" stroke-width="0.6" opacity="0.55"/><line x1="1389.69" y1="1078.46" x2="1324.62" y2="1086.75" stroke="#454341" stroke-width="0.6" opacity="0.55"/><line x1="1428.38" y1="1103.99" x2="1326.29" y2="1090.32" stroke="#454341" stroke-width="0.6" opacity="0.55"/><line x1="1205.84" y1="1104.63" x2="1282.91" y2="1090.32" stroke="#454341" stroke-width="0.6" opacity="0.55"/><polygon points="1284.57,1086.75 1324.62,1086.75 1326.29,1090.32 1282.91,1090.32" fill="#3e3c3a" /><line x1="1209.84" y1="1102.67" x2="1424.38" y2="1102.03" stroke="#75726f" stroke-width="1.2" opacity="0.7"/><polygon points="1166.52,1090.58 1165.45,1094.19 1165.45,1106.52 1166.52,1102.91" fill="#8d6620" /><polygon points="1199.46,1090.58 1202.23,1094.19 1202.23,1106.52 1199.46,1102.91" fill="#8d6620" /><polygon points="1165.45,1094.19 1202.23,1094.19 1202.23,1106.52 1165.45,1106.52" fill="#b5832a" /><polygon points="1166.52,1090.58 1199.46,1090.58 1202.23,1094.19 1165.45,1094.19" fill="#f0b443" /><rect x="1432.20" y="1096.32" width="7.00" height="5.00" fill="#2f9a30" /><rect x="1446.23" y="1101.84" width="7.00" height="5.00" fill="#b03030" /><polygon points="1270.32,1088.45 1270.32,1059.48 1263.47,1063.39 1273.22,1041.69 1282.97,1063.39 1276.12,1059.48 1276.12,1088.45" fill="#fff" stroke="#1eaae6" stroke-width="1.5" stroke-linejoin="miter"/><polygon points="1340.46,1041.69 1340.46,1070.66 1333.61,1066.75 1343.36,1088.45 1353.11,1066.75 1346.26,1070.66 1346.26,1041.69" fill="#fff" stroke="#1eaae6" stroke-width="1.5" stroke-linejoin="miter"/><line x1="1169.71" y1="1164.97" x2="1212.12" y2="1119.85" stroke="#1eaae6" stroke-width="1.6" stroke-dasharray="7 3.5"/><polygon points="1219.65,1111.83 1215.58,1123.10 1208.66,1116.59" fill="#1eaae6" /><line x1="1169.71" y1="1164.97" x2="1222.10" y2="1139.40" stroke="#1eaae6" stroke-width="1.6" stroke-dasharray="7 3.5"/><polygon points="1231.98,1134.57 1224.18,1143.66 1220.01,1135.13" fill="#1eaae6" /><text x="1100.50" y="1197.00" font-size="31.5" fill="#000" text-anchor="start" >Friction</text><path d="M1211.6 1161.4 L1319.5 1141.8 Q1334.4 1138.4 1349.3 1141.8 L1458.8 1161.4" fill="none" stroke="#000" stroke-width="1.8" stroke-dasharray="8.5 4.5"/><rect x="1211.6" y="1161.4" width="247.2" height="133.9" fill="#fff" stroke="#000" stroke-width="1.8" stroke-dasharray="8.5 4.5"/><rect x="1219.02" y="1169.86" width="166.00" height="17.30" fill="#7f7f7f" /><rect x="1219.02" y="1186.86" width="166.00" height="16.24" fill="#ffdc9c" /><rect x="1219.02" y="1202.80" width="166.00" height="16.67" fill="#c85030" /><rect x="1219.02" y="1234.47" width="166.00" height="16.88" fill="#3c9cf8" /><rect x="1219.02" y="1251.05" width="166.00" height="15.82" fill="#ffdc9c" /><rect x="1219.02" y="1266.57" width="166.00" height="17.30" fill="#7f7f7f" /><text x="1234.96" y="1202.60" font-size="25" fill="#0000f0" text-anchor="middle" font-weight="bold" >−</text><text x="1234.96" y="1219.60" font-size="25" fill="#f00000" text-anchor="middle" font-weight="bold" >+</text><text x="1234.96" y="1251.27" font-size="25" fill="#0000f0" text-anchor="middle" font-weight="bold" >−</text><text x="1234.96" y="1267.43" font-size="25" fill="#f00000" text-anchor="middle" font-weight="bold" >+</text><text x="1304.04" y="1202.60" font-size="25" fill="#0000f0" text-anchor="middle" font-weight="bold" >−</text><text x="1304.04" y="1219.60" font-size="25" fill="#f00000" text-anchor="middle" font-weight="bold" >+</text><text x="1304.04" y="1251.27" font-size="25" fill="#0000f0" text-anchor="middle" font-weight="bold" >−</text><text x="1304.04" y="1267.43" font-size="25" fill="#f00000" text-anchor="middle" font-weight="bold" >+</text><text x="1373.12" y="1202.60" font-size="25" fill="#0000f0" text-anchor="middle" font-weight="bold" >−</text><text x="1373.12" y="1219.60" font-size="25" fill="#f00000" text-anchor="middle" font-weight="bold" >+</text><text x="1373.12" y="1251.27" font-size="25" fill="#0000f0" text-anchor="middle" font-weight="bold" >−</text><text x="1373.12" y="1267.43" font-size="25" fill="#f00000" text-anchor="middle" font-weight="bold" >+</text><path d="M1385.0 1194.3 H1406.7 V1210.7 M1406.7 1241.3 V1259.1 H1385.0" fill="none" stroke="#000" stroke-width="1.8"/><circle cx="1406.7" cy="1226.0" r="15.3" fill="#fff" stroke="#000" stroke-width="1.7"/><text x="1406.70" y="1233.97" font-size="23.5" fill="#f01018" text-anchor="middle" >A</text><line x1="1430.72" y1="1245.74" x2="1430.72" y2="1209.10" stroke="#f01018" stroke-width="1.8" /><polygon points="1430.72,1201.10 1423.72,1214.60 1437.72,1214.60" fill="#f01018" /><text x="1448.14" y="1240.00" font-size="33.4" fill="#e8141c" text-anchor="middle" >I</text></g>
<g id="pk"><text x="1519.00" y="947.50" font-size="49" fill="#000" text-anchor="start" font-weight="bold" >k</text><path d="M1654.4 1173.7 L1648.3 969.2M1679.3 1165.4 L1676.8 965.6M1703.7 1157.1 L1703.4 962.3M1727.0 1149.3 L1727.6 959.2M1749.6 1141.7 L1750.1 956.4M1626.3 1133.0 L1751.6 1097.6M1751.6 1097.6 L1895.3 1124.8M1623.6 1081.8 L1751.7 1052.3M1751.7 1052.3 L1898.2 1075.5M1620.8 1028.6 L1751.8 1005.2M1751.8 1005.2 L1901.3 1024.1M1883.6 1170.3 L1893.4 969.5M1853.7 1163.7 L1857.8 966.1M1824.7 1157.3 L1825.4 963.1M1795.4 1150.8 L1794.7 960.2M1766.6 1144.5 L1766.2 957.5M1617.8 973.1 L1751.9 956.2M1751.9 956.2 L1904.5 970.5M1892.5 1172.3 L1904.5 970.5M1751.5 1141.1 L1751.9 956.2M1628.9 1182.3 L1751.5 1141.1M1751.5 1141.1 L1892.5 1172.3" fill="none" stroke="#9a9a9a" stroke-width="1.0"/><path d="M1803.7 1233.1 L1654.4 1173.7M1828.1 1216.4 L1679.3 1165.4M1850.9 1200.7 L1703.7 1157.1M1871.7 1186.5 L1727.0 1149.3M1890.9 1173.4 L1749.6 1141.7M1766.8 1246.3 L1883.6 1170.3M1732.8 1230.5 L1853.7 1163.7M1701.4 1215.9 L1824.7 1157.3M1671.4 1201.9 L1795.4 1150.8M1643.2 1188.9 L1766.6 1144.5" fill="none" stroke="#b0b0b0" stroke-width="0.9"/><path d="M1782.0 1242.6 L1773.3 1238.7 L1765.0 1235.1 L1757.1 1231.5 L1749.5 1227.9 L1742.2 1224.3 L1735.3 1220.7 L1728.5 1217.1 L1722.1 1213.7 L1715.9 1210.4 L1709.9 1207.2 L1704.2 1204.1 L1698.7 1201.2 L1693.4 1198.3 L1688.2 1195.6 L1683.3 1192.9 L1678.5 1190.3 L1673.9 1187.8 L1669.5 1185.4 L1665.2 1183.1 L1661.0 1180.8 L1657.0 1178.6 L1653.1 1176.5 L1649.3 1174.4 L1645.7 1172.4 L1642.2 1170.4 L1638.7 1168.5 L1644.1 1156.1 L1649.5 1145.8 L1654.9 1136.3 L1660.2 1127.2 L1665.4 1118.5 L1670.5 1110.1 L1675.5 1101.9 L1680.4 1093.9 L1685.2 1086.1 L1689.9 1078.4 L1694.5 1070.9 L1699.1 1063.6 L1703.5 1056.3 L1707.8 1049.2 L1712.0 1042.2 L1716.1 1035.3 L1720.1 1028.6 L1724.0 1021.8 L1727.8 1015.2 L1731.5 1008.7 L1735.2 1002.2 L1738.7 995.9 L1742.1 989.6 L1745.5 983.3 L1748.8 977.1 L1751.9 971.0 L1755.5 978.0 L1759.2 985.0 L1763.0 992.1 L1766.9 999.2 L1771.0 1006.5 L1775.1 1013.8 L1779.4 1021.3 L1783.8 1028.8 L1788.4 1036.4 L1793.1 1044.2 L1797.9 1052.1 L1802.8 1060.2 L1807.9 1068.4 L1813.2 1076.9 L1818.5 1085.5 L1824.0 1094.4 L1829.6 1103.5 L1835.4 1112.9 L1841.3 1122.4 L1847.3 1131.7 L1853.4 1140.1 L1859.8 1146.8 L1866.3 1151.6 L1873.0 1154.8 L1879.9 1157.1 L1887.1 1158.8 L1884.5 1161.0 L1881.8 1163.1 L1879.1 1165.3 L1876.3 1167.6 L1873.3 1170.0 L1870.3 1172.4 L1867.2 1174.9 L1864.0 1177.5 L1860.7 1180.1 L1857.3 1182.8 L1853.7 1185.7 L1850.1 1188.6 L1846.3 1191.6 L1842.4 1194.7 L1838.3 1197.9 L1834.1 1201.2 L1829.8 1204.7 L1825.2 1208.2 L1820.6 1211.9 L1815.7 1215.8 L1810.6 1219.8 L1805.3 1223.9 L1799.8 1228.3 L1794.1 1232.8 L1788.2 1237.5 Z" fill="url(#kSurf)"/><path d="M1765.0 1235.1 L1771.3 1230.3 L1777.3 1225.8 L1783.1 1221.5 L1788.7 1217.4 L1794.0 1213.4 L1799.2 1209.6 L1804.2 1206.0 L1809.0 1202.4 L1813.6 1199.0 L1818.1 1195.7 L1822.4 1192.5 L1826.6 1189.5 L1830.6 1186.5 L1834.5 1183.6 L1838.3 1180.8 L1842.0 1178.1 L1845.5 1175.4 L1849.0 1172.9 L1852.3 1170.4 L1855.5 1168.0 L1858.6 1165.6 L1861.7 1163.3 L1864.6 1161.1 L1867.5 1159.0 L1870.3 1156.8 L1873.0 1154.8M1749.5 1227.9 L1755.8 1223.0 L1761.8 1218.5 L1767.7 1214.3 L1773.3 1210.2 L1778.8 1206.2 L1784.0 1202.4 L1789.1 1198.8 L1794.0 1195.2 L1798.7 1191.8 L1803.3 1188.5 L1807.7 1185.3 L1812.0 1182.2 L1816.1 1179.2 L1820.1 1176.2 L1824.0 1173.4 L1827.7 1170.7 L1831.4 1168.0 L1834.9 1165.4 L1838.4 1162.8 L1841.7 1160.4 L1844.9 1158.0 L1848.1 1155.6 L1851.1 1153.3 L1854.1 1151.1 L1857.0 1149.0 L1859.8 1146.8M1735.3 1220.7 L1741.5 1215.3 L1747.6 1210.4 L1753.4 1205.7 L1759.1 1201.3 L1764.6 1197.0 L1769.9 1192.9 L1775.0 1188.9 L1780.0 1185.1 L1784.8 1181.4 L1789.4 1177.8 L1793.9 1174.3 L1798.3 1170.9 L1802.5 1167.6 L1806.6 1164.4 L1810.6 1161.3 L1814.5 1158.3 L1818.2 1155.3 L1821.8 1152.4 L1825.3 1149.6 L1828.7 1146.9 L1832.1 1144.2 L1835.3 1141.6 L1838.4 1139.0 L1841.5 1136.6 L1844.4 1134.1 L1847.3 1131.7M1722.1 1213.7 L1728.3 1207.5 L1734.3 1202.0 L1740.1 1196.8 L1745.8 1191.8 L1751.3 1187.0 L1756.7 1182.4 L1761.8 1178.0 L1766.9 1173.7 L1771.7 1169.5 L1776.4 1165.5 L1781.0 1161.5 L1785.4 1157.7 L1789.7 1154.0 L1793.9 1150.4 L1797.9 1146.8 L1801.9 1143.4 L1805.7 1140.0 L1809.4 1136.7 L1813.0 1133.5 L1816.5 1130.4 L1819.8 1127.3 L1823.1 1124.3 L1826.3 1121.4 L1829.4 1118.5 L1832.5 1115.7 L1835.4 1112.9M1709.9 1207.2 L1716.0 1200.1 L1722.0 1194.0 L1727.8 1188.2 L1733.4 1182.7 L1738.9 1177.5 L1744.3 1172.4 L1749.5 1167.4 L1754.5 1162.7 L1759.4 1158.0 L1764.2 1153.6 L1768.8 1149.2 L1773.3 1144.9 L1777.6 1140.8 L1781.8 1136.7 L1786.0 1132.7 L1789.9 1128.9 L1793.8 1125.1 L1797.6 1121.4 L1801.2 1117.8 L1804.8 1114.2 L1808.2 1110.8 L1811.5 1107.4 L1814.8 1104.0 L1818.0 1100.8 L1821.0 1097.5 L1824.0 1094.4M1698.7 1201.2 L1704.6 1193.3 L1710.5 1186.6 L1716.3 1180.3 L1721.9 1174.3 L1727.4 1168.5 L1732.7 1163.0 L1737.9 1157.6 L1743.0 1152.4 L1747.9 1147.3 L1752.7 1142.4 L1757.3 1137.6 L1761.8 1132.9 L1766.2 1128.4 L1770.5 1123.9 L1774.6 1119.5 L1778.6 1115.3 L1782.5 1111.1 L1786.3 1107.0 L1790.0 1103.0 L1793.6 1099.0 L1797.1 1095.2 L1800.5 1091.4 L1803.8 1087.7 L1807.0 1084.0 L1810.1 1080.4 L1813.2 1076.9M1688.2 1195.6 L1694.1 1187.0 L1699.9 1179.7 L1705.6 1172.9 L1711.2 1166.4 L1716.6 1160.2 L1721.9 1154.2 L1727.1 1148.4 L1732.2 1142.8 L1737.1 1137.3 L1741.9 1131.9 L1746.5 1126.7 L1751.0 1121.7 L1755.4 1116.7 L1759.7 1111.8 L1763.9 1107.1 L1768.0 1102.4 L1771.9 1097.8 L1775.7 1093.4 L1779.5 1089.0 L1783.1 1084.6 L1786.6 1080.4 L1790.1 1076.2 L1793.4 1072.1 L1796.6 1068.1 L1799.8 1064.1 L1802.8 1060.2M1678.5 1190.3 L1684.3 1181.1 L1690.0 1173.2 L1695.6 1166.0 L1701.2 1159.0 L1706.6 1152.4 L1711.9 1145.9 L1717.0 1139.7 L1722.0 1133.7 L1726.9 1127.8 L1731.7 1122.0 L1736.4 1116.4 L1740.9 1111.0 L1745.3 1105.6 L1749.6 1100.4 L1753.8 1095.2 L1757.9 1090.2 L1761.9 1085.2 L1765.7 1080.4 L1769.5 1075.6 L1773.1 1070.9 L1776.7 1066.3 L1780.2 1061.7 L1783.5 1057.2 L1786.8 1052.8 L1790.0 1048.5 L1793.1 1044.2M1669.5 1185.4 L1675.1 1175.5 L1680.8 1167.2 L1686.3 1159.4 L1691.8 1152.0 L1697.2 1144.9 L1702.4 1138.1 L1707.6 1131.5 L1712.6 1125.0 L1717.5 1118.7 L1722.2 1112.6 L1726.9 1106.6 L1731.4 1100.7 L1735.9 1095.0 L1740.2 1089.4 L1744.4 1083.9 L1748.5 1078.4 L1752.4 1073.1 L1756.3 1067.9 L1760.1 1062.7 L1763.8 1057.7 L1767.3 1052.7 L1770.8 1047.8 L1774.2 1042.9 L1777.5 1038.1 L1780.7 1033.4 L1783.8 1028.8M1661.0 1180.8 L1666.6 1170.2 L1672.2 1161.4 L1677.7 1153.2 L1683.1 1145.4 L1688.4 1137.9 L1693.6 1130.6 L1698.7 1123.6 L1703.7 1116.7 L1708.6 1110.1 L1713.4 1103.6 L1718.0 1097.2 L1722.5 1090.9 L1727.0 1084.8 L1731.3 1078.8 L1735.5 1072.9 L1739.6 1067.1 L1743.6 1061.5 L1747.5 1055.8 L1751.2 1050.3 L1754.9 1044.9 L1758.5 1039.5 L1762.0 1034.3 L1765.4 1029.1 L1768.8 1023.9 L1772.0 1018.8 L1775.1 1013.8M1653.1 1176.5 L1658.6 1165.3 L1664.1 1156.0 L1669.6 1147.3 L1674.9 1139.1 L1680.2 1131.1 L1685.4 1123.5 L1690.5 1116.1 L1695.4 1108.8 L1700.3 1101.8 L1705.0 1094.9 L1709.7 1088.1 L1714.2 1081.5 L1718.6 1075.0 L1722.9 1068.7 L1727.1 1062.4 L1731.2 1056.2 L1735.2 1050.2 L1739.1 1044.2 L1742.9 1038.3 L1746.6 1032.5 L1750.2 1026.8 L1753.8 1021.1 L1757.2 1015.6 L1760.5 1010.1 L1763.8 1004.6 L1766.9 999.2M1645.7 1172.4 L1651.1 1160.6 L1656.6 1150.8 L1662.0 1141.7 L1667.3 1133.0 L1672.6 1124.7 L1677.7 1116.6 L1682.7 1108.8 L1687.7 1101.2 L1692.5 1093.8 L1697.2 1086.5 L1701.9 1079.4 L1706.4 1072.4 L1710.8 1065.5 L1715.1 1058.8 L1719.3 1052.2 L1723.4 1045.6 L1727.4 1039.2 L1731.3 1032.9 L1735.1 1026.6 L1738.8 1020.5 L1742.5 1014.4 L1746.0 1008.4 L1749.4 1002.4 L1752.8 996.5 L1756.0 990.7 L1759.2 985.0M1794.1 1232.8 L1785.5 1229.2 L1777.3 1225.8 L1769.4 1222.2 L1761.8 1218.5 L1754.6 1214.6 L1747.6 1210.4 L1740.8 1206.1 L1734.3 1202.0 L1728.0 1197.9 L1722.0 1194.0 L1716.1 1190.2 L1710.5 1186.6 L1705.1 1183.1 L1699.9 1179.7 L1694.9 1176.4 L1690.0 1173.2 L1685.3 1170.2 L1680.8 1167.2 L1676.4 1164.3 L1672.2 1161.4 L1668.1 1158.7 L1664.1 1156.0 L1660.3 1153.3 L1656.6 1150.8 L1653.0 1148.3 L1649.5 1145.8M1805.3 1223.9 L1796.8 1220.7 L1788.7 1217.4 L1780.8 1213.9 L1773.3 1210.2 L1766.1 1205.9 L1759.1 1201.3 L1752.3 1196.5 L1745.8 1191.8 L1739.5 1187.2 L1733.4 1182.7 L1727.6 1178.4 L1721.9 1174.3 L1716.4 1170.3 L1711.2 1166.4 L1706.1 1162.7 L1701.2 1159.0 L1696.4 1155.5 L1691.8 1152.0 L1687.4 1148.7 L1683.1 1145.4 L1679.0 1142.2 L1674.9 1139.1 L1671.1 1136.0 L1667.3 1133.0 L1663.7 1130.1 L1660.2 1127.2M1815.7 1215.8 L1807.3 1212.7 L1799.2 1209.6 L1791.5 1206.3 L1784.0 1202.4 L1776.8 1197.9 L1769.9 1192.9 L1763.2 1187.7 L1756.7 1182.4 L1750.4 1177.3 L1744.3 1172.4 L1738.4 1167.6 L1732.7 1163.0 L1727.2 1158.5 L1721.9 1154.2 L1716.8 1150.0 L1711.9 1145.9 L1707.1 1142.0 L1702.4 1138.1 L1698.0 1134.3 L1693.6 1130.6 L1689.4 1127.0 L1685.4 1123.5 L1681.5 1120.0 L1677.7 1116.6 L1674.0 1113.3 L1670.5 1110.1M1825.2 1208.2 L1817.0 1205.4 L1809.0 1202.4 L1801.3 1199.1 L1794.0 1195.2 L1786.9 1190.5 L1780.0 1185.1 L1773.3 1179.4 L1766.9 1173.7 L1760.6 1168.1 L1754.5 1162.7 L1748.7 1157.5 L1743.0 1152.4 L1737.5 1147.5 L1732.2 1142.8 L1727.0 1138.2 L1722.0 1133.7 L1717.2 1129.3 L1712.6 1125.0 L1708.1 1120.8 L1703.7 1116.7 L1699.5 1112.7 L1695.4 1108.8 L1691.5 1105.0 L1687.7 1101.2 L1684.0 1097.5 L1680.4 1093.9M1834.1 1201.2 L1826.0 1198.6 L1818.1 1195.7 L1810.5 1192.5 L1803.3 1188.5 L1796.2 1183.5 L1789.4 1177.8 L1782.8 1171.6 L1776.4 1165.5 L1770.2 1159.4 L1764.2 1153.6 L1758.3 1147.9 L1752.7 1142.4 L1747.2 1137.1 L1741.9 1131.9 L1736.7 1126.9 L1731.7 1122.0 L1726.9 1117.3 L1722.2 1112.6 L1717.7 1108.0 L1713.4 1103.6 L1709.1 1099.2 L1705.0 1094.9 L1701.1 1090.7 L1697.2 1086.5 L1693.5 1082.4 L1689.9 1078.4M1842.4 1194.7 L1834.3 1192.2 L1826.6 1189.5 L1819.1 1186.2 L1812.0 1182.2 L1805.0 1177.0 L1798.3 1170.9 L1791.8 1164.3 L1785.4 1157.7 L1779.3 1151.2 L1773.3 1144.9 L1767.5 1138.8 L1761.8 1132.9 L1756.3 1127.2 L1751.0 1121.7 L1745.9 1116.2 L1740.9 1111.0 L1736.1 1105.8 L1731.4 1100.7 L1726.9 1095.8 L1722.5 1090.9 L1718.3 1086.2 L1714.2 1081.5 L1710.2 1076.9 L1706.4 1072.4 L1702.7 1068.0 L1699.1 1063.6M1850.1 1188.6 L1842.2 1186.2 L1834.5 1183.6 L1827.2 1180.4 L1820.1 1176.2 L1813.3 1170.8 L1806.6 1164.4 L1800.2 1157.4 L1793.9 1150.4 L1787.8 1143.4 L1781.8 1136.7 L1776.1 1130.2 L1770.5 1123.9 L1765.0 1117.8 L1759.7 1111.8 L1754.6 1106.0 L1749.6 1100.4 L1744.8 1094.8 L1740.2 1089.4 L1735.6 1084.1 L1731.3 1078.8 L1727.0 1073.7 L1722.9 1068.7 L1718.9 1063.7 L1715.1 1058.8 L1711.4 1054.0 L1707.8 1049.2M1857.3 1182.8 L1849.5 1180.6 L1842.0 1178.1 L1834.7 1174.9 L1827.7 1170.7 L1821.0 1165.0 L1814.5 1158.3 L1808.1 1150.9 L1801.9 1143.4 L1795.8 1136.0 L1789.9 1128.9 L1784.2 1122.0 L1778.6 1115.3 L1773.2 1108.7 L1768.0 1102.4 L1762.9 1096.2 L1757.9 1090.2 L1753.1 1084.2 L1748.5 1078.4 L1743.9 1072.7 L1739.6 1067.1 L1735.3 1061.6 L1731.2 1056.2 L1727.3 1050.9 L1723.4 1045.6 L1719.7 1040.5 L1716.1 1035.3M1864.0 1177.5 L1856.3 1175.3 L1849.0 1172.9 L1841.8 1169.7 L1834.9 1165.4 L1828.3 1159.5 L1821.8 1152.4 L1815.5 1144.6 L1809.4 1136.7 L1803.4 1129.0 L1797.6 1121.4 L1791.9 1114.1 L1786.3 1107.0 L1781.0 1100.1 L1775.7 1093.4 L1770.7 1086.8 L1765.7 1080.4 L1761.0 1074.1 L1756.3 1067.9 L1751.8 1061.8 L1747.5 1055.8 L1743.2 1050.0 L1739.1 1044.2 L1735.2 1038.5 L1731.3 1032.9 L1727.6 1027.3 L1724.0 1021.8M1870.3 1172.4 L1862.8 1170.4 L1855.5 1168.0 L1848.5 1164.8 L1841.7 1160.4 L1835.1 1154.3 L1828.7 1146.9 L1822.5 1138.7 L1816.5 1130.4 L1810.5 1122.2 L1804.8 1114.2 L1799.1 1106.5 L1793.6 1099.0 L1788.3 1091.7 L1783.1 1084.6 L1778.1 1077.7 L1773.1 1070.9 L1768.4 1064.2 L1763.8 1057.7 L1759.3 1051.2 L1754.9 1044.9 L1750.7 1038.7 L1746.6 1032.5 L1742.7 1026.4 L1738.8 1020.5 L1735.1 1014.5 L1731.5 1008.7M1876.3 1167.6 L1868.8 1165.7 L1861.7 1163.3 L1854.8 1160.2 L1848.1 1155.6 L1841.6 1149.4 L1835.3 1141.6 L1829.1 1133.0 L1823.1 1124.3 L1817.3 1115.7 L1811.5 1107.4 L1806.0 1099.3 L1800.5 1091.4 L1795.2 1083.7 L1790.1 1076.2 L1785.0 1068.9 L1780.2 1061.7 L1775.4 1054.7 L1770.8 1047.8 L1766.4 1041.0 L1762.0 1034.3 L1757.8 1027.7 L1753.8 1021.1 L1749.8 1014.7 L1746.0 1008.4 L1742.3 1002.1 L1738.7 995.9M1881.8 1163.1 L1874.5 1161.3 L1867.5 1159.0 L1860.7 1155.8 L1854.1 1151.1 L1847.7 1144.6 L1841.5 1136.6 L1835.4 1127.6 L1829.4 1118.5 L1823.6 1109.5 L1818.0 1100.8 L1812.4 1092.3 L1807.0 1084.0 L1801.8 1075.9 L1796.6 1068.1 L1791.6 1060.4 L1786.8 1052.8 L1782.1 1045.4 L1777.5 1038.1 L1773.1 1031.0 L1768.8 1023.9 L1764.6 1016.9 L1760.5 1010.1 L1756.6 1003.3 L1752.8 996.5 L1749.1 989.9 L1745.5 983.3" fill="none" stroke="#ffffff" stroke-width="0.7" opacity="0.5"/><path d="M1617.8 973.1 L1628.9 1182.3 L1777.3 1251.1 L1892.5 1172.3" fill="none" stroke="#000" stroke-width="2.6" stroke-linejoin="miter"/><rect x="1907.30" y="994.80" width="15.30" height="139.80" fill="url(#gBar)" /><text x="1923.50" y="1001.30" font-size="27.5" fill="#000" text-anchor="start" >184</text><text x="1926.50" y="1132.50" font-size="27.5" fill="#000" text-anchor="start" >0.5</text><text transform="matrix(0.8174 -0.1441 0.0753 1.0774 1611.23 985.25)" font-size="25" text-anchor="end" >200</text><text transform="matrix(0.8174 -0.1441 0.0753 1.0774 1614.43 1040.87)" font-size="25" text-anchor="end" >150</text><text transform="matrix(0.8174 -0.1441 0.0753 1.0774 1618.26 1097.76)" font-size="25" text-anchor="end" >100</text><text transform="matrix(0.8174 -0.1441 0.0753 1.0774 1623.06 1150.50)" font-size="25" text-anchor="end" >50</text><text transform="matrix(0.8174 -0.1441 0.0753 1.0774 1624.02 1195.15)" font-size="25" text-anchor="end" >0</text><text transform="matrix(0.9516 -0.4437 0.7574 0.3859 1637.05 1204.14)" font-size="23" text-anchor="middle" >180</text><text transform="matrix(0.9516 -0.4437 0.7574 0.3859 1665.82 1220.12)" font-size="23" text-anchor="middle" >160</text><text transform="matrix(0.9516 -0.4437 0.7574 0.3859 1696.82 1236.10)" font-size="23" text-anchor="middle" >140</text><text transform="matrix(0.9516 -0.4437 0.7574 0.3859 1729.74 1252.09)" font-size="23" text-anchor="middle" >120</text><text transform="matrix(0.9516 -0.4437 0.7574 0.3859 1766.50 1266.47)" font-size="23" text-anchor="middle" >100</text><text transform="matrix(0.9707 0.4734 -0.7047 0.4753 1803.94 1243.09)" font-size="22" text-anchor="middle" >3</text><text transform="matrix(0.9707 0.4734 -0.7047 0.4753 1831.11 1227.11)" font-size="22" text-anchor="middle" >6</text><text transform="matrix(0.9707 0.4734 -0.7047 0.4753 1855.09 1211.13)" font-size="22" text-anchor="middle" >9</text><text transform="matrix(0.9707 0.4734 -0.7047 0.4753 1877.46 1198.35)" font-size="22" text-anchor="middle" >12</text><text transform="matrix(0.9707 0.4734 -0.7047 0.4753 1900.79 1184.60)" font-size="22" text-anchor="middle" >15</text><text transform="translate(1589.4 1185.7) rotate(-96)" font-size="28.5" text-anchor="start" word-spacing="-4">W<tspan font-size="19" dy="6">TENG</tspan><tspan dy="-6"> (mJ/m</tspan><tspan font-size="17" dy="-10">2</tspan><tspan dy="10">)</tspan></text><text transform="translate(1594.3 1234.8) rotate(27) skewX(5)" font-size="36" text-anchor="start" ><tspan font-style="italic">B</tspan><tspan font-size="23" dy="4">act</tspan><tspan dy="-4"> (mT)</tspan></text><text transform="translate(1832.4 1281.5) rotate(-38) skewX(3)" font-size="35" text-anchor="start" ><tspan font-style="italic">f</tspan><tspan font-size="23" dy="4">act</tspan><tspan dy="-4"> (Hz)</tspan></text></g>
</svg>
</body></html>
